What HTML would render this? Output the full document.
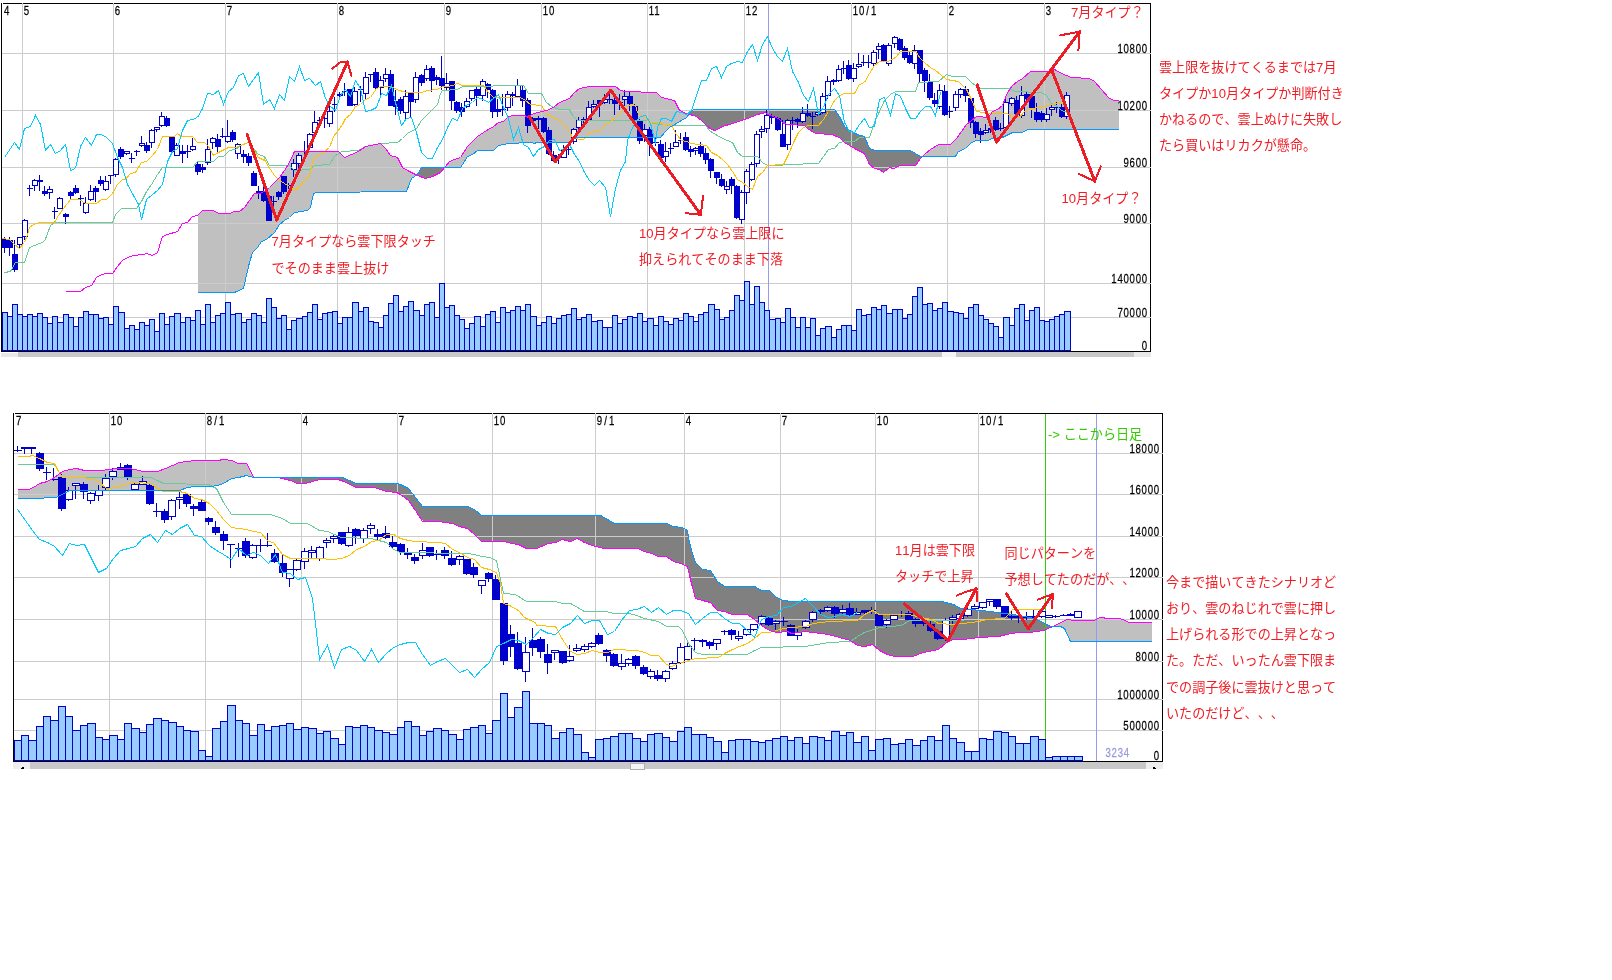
<!DOCTYPE html>
<html lang="ja"><head><meta charset="utf-8"><title>chart</title>
<style>html,body{margin:0;padding:0;background:#fff;}svg{display:block;}</style>
</head><body>
<svg width="1612" height="980" viewBox="0 0 1612 980" style="will-change:transform">
<rect width="1612" height="980" fill="#fff"/>
<g shape-rendering="crispEdges">
<polygon points="198.0,215.3 199.0,214.4 200.0,213.5 201.0,212.6 202.0,211.6 203.0,210.8 204.0,210.8 205.0,210.8 206.0,210.8 207.0,210.8 208.0,210.8 209.0,210.8 210.0,210.8 211.0,210.8 212.0,210.8 213.0,210.8 214.0,210.9 215.0,211.4 216.0,211.9 217.0,212.4 218.0,212.9 219.0,213.3 220.0,213.3 221.0,213.3 222.0,213.3 223.0,213.3 224.0,213.3 225.0,213.3 226.0,213.3 227.0,213.3 228.0,213.3 229.0,213.3 230.0,213.0 231.0,212.6 232.0,212.3 233.0,211.9 234.0,211.6 235.0,211.5 236.0,211.5 237.0,211.4 238.0,211.4 239.0,211.3 240.0,210.7 241.0,209.9 242.0,209.2 243.0,208.5 244.0,207.8 245.0,206.5 246.0,205.1 247.0,203.7 248.0,202.3 249.0,201.0 250.0,199.6 251.0,198.3 252.0,196.9 253.0,195.5 254.0,194.2 255.0,193.9 256.0,193.8 257.0,193.7 258.0,193.7 259.0,193.6 260.0,193.3 261.0,192.9 262.0,192.4 263.0,192.0 264.0,191.5 265.0,190.8 266.0,189.9 267.0,189.0 268.0,188.2 269.0,187.3 270.0,186.3 271.0,185.3 272.0,184.4 273.0,183.4 274.0,182.4 275.0,181.4 276.0,180.4 277.0,179.3 278.0,178.3 279.0,177.3 280.0,176.1 281.0,174.8 282.0,173.5 283.0,172.2 284.0,170.9 285.0,169.4 286.0,167.8 287.0,166.1 288.0,164.5 289.0,162.8 290.0,160.9 291.0,158.8 292.0,156.8 293.0,154.7 294.0,152.6 295.0,151.5 296.0,151.4 297.0,151.4 298.0,151.4 299.0,151.3 300.0,151.3 301.0,151.3 302.0,151.2 303.0,151.2 304.0,151.1 305.0,151.1 306.0,151.1 307.0,151.0 308.0,151.0 309.0,151.0 310.0,151.1 311.0,151.1 312.0,151.1 313.0,151.2 314.0,151.2 315.0,151.2 316.0,151.2 317.0,151.3 318.0,151.3 319.0,151.3 320.0,151.4 321.0,151.4 322.0,151.4 323.0,151.5 324.0,151.5 325.0,151.5 326.0,151.5 327.0,151.6 328.0,151.6 329.0,151.6 330.0,151.7 331.0,151.7 332.0,151.7 333.0,151.7 334.0,151.8 335.0,151.8 336.0,151.8 337.0,151.9 338.0,151.9 339.0,152.7 340.0,153.5 341.0,154.4 342.0,155.3 343.0,156.2 344.0,157.0 345.0,157.7 346.0,157.2 347.0,156.7 348.0,156.2 349.0,155.7 350.0,155.2 351.0,154.7 352.0,154.2 353.0,153.7 354.0,153.2 355.0,152.7 356.0,152.2 357.0,151.7 358.0,151.2 359.0,150.6 360.0,150.0 361.0,149.4 362.0,148.7 363.0,148.1 364.0,147.5 365.0,146.9 366.0,146.6 367.0,146.3 368.0,146.1 369.0,145.8 370.0,145.6 371.0,145.4 372.0,145.1 373.0,144.9 374.0,144.6 375.0,144.4 376.0,144.1 377.0,143.9 378.0,143.6 379.0,143.4 380.0,143.1 381.0,143.9 382.0,145.0 383.0,146.1 384.0,147.1 385.0,148.2 386.0,149.5 387.0,150.8 388.0,152.2 389.0,153.5 390.0,154.9 391.0,155.6 392.0,155.9 393.0,156.3 394.0,156.7 395.0,157.0 396.0,157.4 397.0,157.8 398.0,159.5 399.0,161.3 400.0,163.1 401.0,165.0 402.0,166.8 403.0,167.6 404.0,168.3 405.0,168.9 406.0,169.6 407.0,170.3 408.0,170.8 409.0,171.3 410.0,171.8 411.0,172.3 412.0,172.8 413.0,173.3 414.0,173.8 415.0,174.3 416.0,174.8 417.0,174.8 417.0,175.3 416.0,175.5 415.0,176.2 414.0,176.9 413.0,177.7 412.0,178.4 411.0,179.8 410.0,182.3 409.0,184.8 408.0,187.3 407.0,189.8 406.0,191.6 405.0,191.6 404.0,191.6 403.0,191.6 402.0,191.6 401.0,191.6 400.0,191.6 399.0,191.6 398.0,191.6 397.0,191.6 396.0,191.6 395.0,191.7 394.0,191.7 393.0,191.7 392.0,191.7 391.0,191.7 390.0,191.7 389.0,191.7 388.0,191.7 387.0,191.7 386.0,191.7 385.0,191.7 384.0,191.7 383.0,191.7 382.0,191.7 381.0,191.7 380.0,191.7 379.0,191.7 378.0,191.7 377.0,191.7 376.0,191.7 375.0,191.7 374.0,191.7 373.0,191.7 372.0,191.8 371.0,191.8 370.0,191.8 369.0,191.8 368.0,191.8 367.0,191.8 366.0,191.8 365.0,191.8 364.0,191.8 363.0,191.8 362.0,191.8 361.0,191.8 360.0,191.8 359.0,191.8 358.0,191.8 357.0,191.8 356.0,191.8 355.0,191.8 354.0,191.8 353.0,191.8 352.0,191.8 351.0,191.8 350.0,191.9 349.0,191.9 348.0,191.9 347.0,191.9 346.0,191.9 345.0,191.9 344.0,191.9 343.0,191.9 342.0,191.9 341.0,191.9 340.0,191.9 339.0,191.9 338.0,191.9 337.0,191.9 336.0,191.9 335.0,191.9 334.0,191.9 333.0,191.9 332.0,191.9 331.0,191.9 330.0,191.9 329.0,191.9 328.0,191.9 327.0,192.0 326.0,192.0 325.0,192.0 324.0,192.0 323.0,192.0 322.0,192.0 321.0,192.0 320.0,192.0 319.0,192.0 318.0,192.0 317.0,192.0 316.0,192.1 315.0,192.6 314.0,193.0 313.0,196.1 312.0,200.5 311.0,204.8 310.0,207.9 309.0,209.2 308.0,210.5 307.0,210.9 306.0,211.0 305.0,211.1 304.0,211.2 303.0,211.3 302.0,211.4 301.0,211.5 300.0,211.6 299.0,211.7 298.0,211.8 297.0,211.9 296.0,212.0 295.0,212.1 294.0,212.7 293.0,213.8 292.0,214.8 291.0,215.9 290.0,217.0 289.0,217.8 288.0,218.3 287.0,218.8 286.0,219.3 285.0,219.8 284.0,220.4 283.0,221.2 282.0,222.0 281.0,222.8 280.0,223.7 279.0,224.6 278.0,226.3 277.0,228.0 276.0,229.7 275.0,231.4 274.0,232.9 273.0,233.7 272.0,234.6 271.0,235.4 270.0,236.3 269.0,237.1 268.0,238.0 267.0,238.8 266.0,239.7 265.0,240.0 264.0,240.4 263.0,240.7 262.0,241.0 261.0,242.4 260.0,244.0 259.0,245.6 258.0,247.2 257.0,248.4 256.0,249.4 255.0,250.3 254.0,251.3 253.0,252.3 252.0,254.3 251.0,257.4 250.0,260.5 249.0,263.9 248.0,268.9 247.0,273.8 246.0,278.8 245.0,282.5 244.0,285.8 243.0,288.3 242.0,288.8 241.0,289.2 240.0,289.7 239.0,290.1 238.0,290.6 237.0,291.0 236.0,291.5 235.0,291.9 234.0,292.4 233.0,292.4 232.0,292.4 231.0,292.4 230.0,292.4 229.0,292.4 228.0,292.4 227.0,292.4 226.0,292.4 225.0,292.4 224.0,292.4 223.0,292.4 222.0,292.4 221.0,292.4 220.0,292.4 219.0,292.4 218.0,292.4 217.0,292.4 216.0,292.4 215.0,292.4 214.0,292.4 213.0,292.4 212.0,292.4 211.0,292.4 210.0,292.4 209.0,292.4 208.0,292.4 207.0,292.4 206.0,292.4 205.0,292.4 204.0,292.4 203.0,292.4 202.0,292.4 201.0,292.4 200.0,292.4 199.0,292.4 198.0,292.4" fill="#c0c0c0"/>
<polygon points="417.0,174.8 418.0,173.5 419.0,171.9 420.0,170.3 421.0,168.7 422.0,167.9 423.0,167.9 424.0,167.8 425.0,167.8 426.0,167.8 427.0,167.8 428.0,167.7 429.0,167.7 430.0,167.7 431.0,167.7 432.0,167.7 433.0,167.6 434.0,167.6 435.0,167.6 436.0,167.6 437.0,167.5 438.0,167.5 439.0,167.5 440.0,167.5 441.0,167.4 442.0,167.4 443.0,167.4 444.0,167.4 445.0,166.8 445.0,167.4 444.0,168.1 443.0,169.3 442.0,170.6 441.0,171.8 440.0,172.5 439.0,173.1 438.0,173.7 437.0,174.2 436.0,174.8 435.0,175.3 434.0,175.9 433.0,176.5 432.0,176.9 431.0,177.1 430.0,177.2 429.0,177.4 428.0,177.6 427.0,177.8 426.0,177.9 425.0,177.8 424.0,177.5 423.0,177.2 422.0,176.9 421.0,176.6 420.0,176.3 419.0,176.0 418.0,175.7 417.0,175.3" fill="#808080"/>
<polygon points="445.0,166.8 446.0,165.5 447.0,164.2 448.0,162.8 449.0,161.5 450.0,160.8 451.0,160.4 452.0,160.0 453.0,159.5 454.0,159.1 455.0,158.9 456.0,158.6 457.0,158.4 458.0,158.2 459.0,158.0 460.0,157.8 461.0,156.3 462.0,154.8 463.0,153.2 464.0,151.7 465.0,150.2 466.0,148.7 467.0,147.2 468.0,145.8 469.0,144.8 470.0,143.8 471.0,142.7 472.0,141.7 473.0,140.7 474.0,139.7 475.0,138.7 476.0,137.8 477.0,136.8 478.0,135.9 479.0,135.3 480.0,134.7 481.0,134.1 482.0,133.5 483.0,132.9 484.0,132.3 485.0,131.7 486.0,131.1 487.0,130.4 488.0,129.8 489.0,129.2 490.0,128.6 491.0,128.0 492.0,127.4 493.0,126.8 494.0,126.0 495.0,125.1 496.0,124.3 497.0,123.5 498.0,122.7 499.0,122.4 500.0,122.2 501.0,122.0 502.0,121.8 503.0,121.7 504.0,121.0 505.0,120.0 506.0,119.0 507.0,118.0 508.0,117.0 509.0,116.5 510.0,116.2 511.0,116.0 512.0,115.8 513.0,115.5 514.0,115.4 515.0,115.4 516.0,115.4 517.0,115.4 518.0,115.4 519.0,115.4 520.0,115.4 521.0,115.4 522.0,115.4 523.0,115.4 524.0,115.4 525.0,115.7 526.0,116.2 527.0,116.6 528.0,117.0 529.0,117.1 530.0,115.5 531.0,114.9 532.0,114.3 533.0,113.7 534.0,113.2 535.0,112.9 536.0,112.7 537.0,112.4 538.0,112.2 539.0,112.0 540.0,111.7 541.0,111.5 542.0,111.3 543.0,111.0 544.0,110.8 545.0,110.5 546.0,110.3 547.0,110.1 548.0,109.8 549.0,109.6 550.0,108.9 551.0,108.3 552.0,107.6 553.0,106.9 554.0,106.3 555.0,105.6 556.0,105.0 557.0,104.3 558.0,103.6 559.0,103.0 560.0,102.5 561.0,102.1 562.0,101.7 563.0,101.3 564.0,100.8 565.0,100.4 566.0,100.0 567.0,99.6 568.0,99.2 569.0,98.8 570.0,97.9 571.0,96.7 572.0,95.5 573.0,94.4 574.0,93.2 575.0,92.2 576.0,91.4 577.0,90.6 578.0,89.7 579.0,88.9 580.0,88.4 581.0,88.2 582.0,88.0 583.0,87.8 584.0,87.5 585.0,87.3 586.0,87.1 587.0,86.9 588.0,86.7 589.0,86.5 590.0,86.3 591.0,86.3 592.0,86.3 593.0,86.3 594.0,86.3 595.0,86.3 596.0,86.3 597.0,86.3 598.0,86.3 599.0,86.3 600.0,86.3 601.0,86.3 602.0,86.3 603.0,86.3 604.0,86.3 605.0,86.3 606.0,86.3 607.0,86.3 608.0,86.3 609.0,86.3 610.0,86.3 611.0,86.3 612.0,86.3 613.0,86.3 614.0,86.3 615.0,86.3 616.0,86.9 617.0,87.7 618.0,88.5 619.0,89.3 620.0,90.0 621.0,90.5 622.0,90.8 623.0,91.1 624.0,91.4 625.0,91.7 626.0,91.9 627.0,91.9 628.0,91.9 629.0,91.9 630.0,91.9 631.0,92.0 632.0,92.0 633.0,92.0 634.0,92.0 635.0,92.0 636.0,92.0 637.0,92.0 638.0,92.0 639.0,92.0 640.0,92.0 641.0,92.1 642.0,92.1 643.0,92.1 644.0,92.1 645.0,92.1 646.0,92.1 647.0,92.1 648.0,92.1 649.0,92.1 650.0,92.1 651.0,92.1 652.0,92.2 653.0,92.2 654.0,92.2 655.0,92.2 656.0,92.2 657.0,93.0 658.0,94.0 659.0,95.1 660.0,96.2 661.0,97.3 662.0,97.5 663.0,97.7 664.0,97.9 665.0,98.1 666.0,98.3 667.0,98.5 668.0,98.7 669.0,98.9 670.0,99.1 671.0,99.3 672.0,99.5 673.0,99.6 674.0,99.8 675.0,100.4 676.0,102.4 677.0,104.4 678.0,106.5 679.0,108.5 680.0,110.2 681.0,110.8 682.0,111.3 683.0,111.9 684.0,112.5 685.0,113.0 686.0,113.6 687.0,114.0 688.0,114.3 689.0,113.8 689.0,114.6 688.0,115.0 687.0,116.3 686.0,117.4 685.0,118.0 684.0,118.7 683.0,119.4 682.0,120.0 681.0,120.7 680.0,121.3 679.0,121.9 678.0,122.5 677.0,123.1 676.0,123.7 675.0,124.4 674.0,125.0 673.0,125.6 672.0,126.2 671.0,126.8 670.0,127.4 669.0,128.3 668.0,129.3 667.0,130.3 666.0,131.3 665.0,132.3 664.0,133.4 663.0,134.5 662.0,135.6 661.0,136.7 660.0,137.3 659.0,137.3 658.0,137.3 657.0,137.3 656.0,137.3 655.0,137.3 654.0,137.3 653.0,137.3 652.0,137.3 651.0,137.3 650.0,137.4 649.0,137.4 648.0,137.4 647.0,137.4 646.0,137.4 645.0,137.4 644.0,137.4 643.0,137.4 642.0,137.4 641.0,137.4 640.0,137.4 639.0,137.4 638.0,137.4 637.0,137.4 636.0,137.4 635.0,137.4 634.0,137.4 633.0,137.4 632.0,137.4 631.0,137.4 630.0,137.4 629.0,137.5 628.0,137.5 627.0,137.5 626.0,137.5 625.0,137.5 624.0,137.5 623.0,137.5 622.0,137.5 621.0,137.5 620.0,137.5 619.0,137.5 618.0,137.5 617.0,137.5 616.0,137.5 615.0,137.5 614.0,137.5 613.0,137.5 612.0,137.5 611.0,137.5 610.0,137.5 609.0,137.5 608.0,137.6 607.0,137.6 606.0,137.6 605.0,137.6 604.0,137.6 603.0,137.6 602.0,137.6 601.0,137.6 600.0,137.6 599.0,137.6 598.0,137.6 597.0,137.6 596.0,137.6 595.0,137.6 594.0,137.6 593.0,137.6 592.0,137.6 591.0,137.6 590.0,137.6 589.0,137.6 588.0,137.6 587.0,137.7 586.0,137.7 585.0,137.7 584.0,137.7 583.0,137.7 582.0,137.7 581.0,137.7 580.0,137.7 579.0,137.7 578.0,137.7 577.0,137.7 576.0,137.9 575.0,138.0 574.0,138.2 573.0,138.9 572.0,139.7 571.0,140.5 570.0,141.3 569.0,142.2 568.0,142.4 567.0,142.4 566.0,142.4 565.0,142.4 564.0,142.4 563.0,142.4 562.0,142.4 561.0,142.4 560.0,142.4 559.0,142.4 558.0,142.4 557.0,142.4 556.0,142.4 555.0,142.4 554.0,142.4 553.0,142.4 552.0,142.4 551.0,142.4 550.0,142.4 549.0,142.4 548.0,142.4 547.0,142.4 546.0,142.4 545.0,142.4 544.0,142.4 543.0,142.4 542.0,142.4 541.0,142.4 540.0,142.4 539.0,142.4 538.0,142.4 537.0,142.4 536.0,142.4 535.0,143.5 534.0,143.3 533.0,143.2 532.0,143.0 531.0,142.9 530.0,142.7 529.0,142.7 528.0,142.8 527.0,142.8 526.0,142.8 525.0,142.9 524.0,142.9 523.0,143.0 522.0,143.0 521.0,143.0 520.0,143.1 519.0,143.1 518.0,143.1 517.0,143.2 516.0,143.2 515.0,143.3 514.0,143.3 513.0,143.3 512.0,143.4 511.0,143.4 510.0,143.4 509.0,143.5 508.0,143.6 507.0,143.8 506.0,144.0 505.0,144.2 504.0,144.4 503.0,144.7 502.0,144.9 501.0,145.1 500.0,145.3 499.0,145.5 498.0,145.9 497.0,146.8 496.0,147.7 495.0,148.6 494.0,149.5 493.0,150.3 492.0,150.3 491.0,150.3 490.0,150.3 489.0,150.3 488.0,150.3 487.0,150.3 486.0,150.3 485.0,150.3 484.0,150.3 483.0,150.3 482.0,150.3 481.0,150.3 480.0,150.3 479.0,150.3 478.0,150.3 477.0,151.0 476.0,151.9 475.0,152.8 474.0,153.7 473.0,154.5 472.0,155.0 471.0,155.3 470.0,155.6 469.0,155.8 468.0,156.1 467.0,157.4 466.0,159.1 465.0,160.8 464.0,162.5 463.0,164.2 462.0,165.4 461.0,166.2 460.0,167.0 459.0,167.0 458.0,167.0 457.0,167.1 456.0,167.1 455.0,167.1 454.0,167.1 453.0,167.2 452.0,167.2 451.0,167.2 450.0,167.2 449.0,167.3 448.0,167.3 447.0,167.3 446.0,167.3 445.0,167.4" fill="#c0c0c0"/>
<polygon points="689.0,113.8 690.0,112.5 691.0,111.2 692.0,110.3 693.0,110.0 694.0,109.6 695.0,109.6 696.0,109.6 697.0,109.6 698.0,109.6 699.0,109.6 700.0,109.6 701.0,109.6 702.0,109.6 703.0,109.6 704.0,109.6 705.0,109.6 706.0,109.6 707.0,109.6 708.0,109.6 709.0,109.6 710.0,109.6 711.0,109.6 712.0,109.6 713.0,109.6 714.0,109.6 715.0,109.6 716.0,109.6 717.0,109.6 718.0,109.6 719.0,109.6 720.0,109.6 721.0,109.6 722.0,109.6 723.0,109.6 724.0,109.6 725.0,109.6 726.0,109.6 727.0,109.6 728.0,109.6 729.0,109.6 730.0,109.6 731.0,109.6 732.0,109.6 733.0,109.6 734.0,109.6 735.0,109.6 736.0,109.6 737.0,109.6 738.0,109.6 739.0,109.6 740.0,109.6 741.0,109.6 742.0,109.6 743.0,109.6 744.0,109.6 745.0,109.6 746.0,109.6 747.0,109.6 748.0,109.6 749.0,109.6 750.0,109.6 751.0,109.6 752.0,109.6 753.0,109.6 754.0,109.6 755.0,109.6 756.0,109.6 757.0,109.6 758.0,109.6 759.0,109.6 760.0,109.6 761.0,109.6 762.0,109.6 763.0,109.6 764.0,109.6 765.0,109.6 766.0,109.6 767.0,109.6 768.0,109.6 769.0,109.6 770.0,109.6 771.0,109.6 772.0,109.6 773.0,109.6 774.0,109.6 775.0,109.6 776.0,109.6 777.0,109.6 778.0,109.6 779.0,109.6 780.0,109.6 781.0,109.6 782.0,109.6 783.0,109.6 784.0,109.6 785.0,109.6 786.0,109.6 787.0,109.6 788.0,109.6 789.0,109.6 790.0,109.6 791.0,109.6 792.0,109.6 793.0,109.6 794.0,109.6 795.0,109.6 796.0,109.6 797.0,109.6 798.0,109.6 799.0,109.6 800.0,109.6 801.0,109.6 802.0,109.6 803.0,109.6 804.0,109.6 805.0,109.6 806.0,109.6 807.0,109.6 808.0,109.6 809.0,109.6 810.0,109.6 811.0,109.6 812.0,109.6 813.0,109.6 814.0,109.6 815.0,109.6 816.0,109.6 817.0,109.6 818.0,109.6 819.0,109.6 820.0,109.6 821.0,109.6 822.0,109.6 823.0,109.6 824.0,109.6 825.0,109.6 826.0,109.6 827.0,109.6 828.0,109.6 829.0,109.6 830.0,109.6 831.0,109.6 832.0,109.6 833.0,109.6 834.0,109.6 835.0,110.6 836.0,112.1 837.0,113.6 838.0,115.1 839.0,116.6 840.0,118.4 841.0,120.2 842.0,122.1 843.0,123.9 844.0,125.7 845.0,126.8 846.0,127.8 847.0,128.7 848.0,129.6 849.0,130.5 850.0,131.1 851.0,131.6 852.0,132.1 853.0,132.6 854.0,133.1 855.0,133.5 856.0,134.0 857.0,134.5 858.0,134.9 859.0,135.1 860.0,135.3 861.0,135.5 862.0,135.7 863.0,135.9 864.0,136.1 865.0,137.1 866.0,139.5 867.0,141.9 868.0,144.2 869.0,146.6 870.0,148.2 871.0,148.5 872.0,148.9 873.0,149.3 874.0,149.7 875.0,150.0 876.0,150.0 877.0,150.0 878.0,150.0 879.0,150.0 880.0,150.0 881.0,150.0 882.0,150.0 883.0,150.0 884.0,150.0 885.0,150.0 886.0,150.0 887.0,150.0 888.0,150.0 889.0,150.0 890.0,150.0 891.0,150.0 892.0,150.0 893.0,150.0 894.0,150.0 895.0,150.0 896.0,150.0 897.0,150.0 898.0,150.0 899.0,150.0 900.0,150.0 901.0,150.0 902.0,150.0 903.0,150.0 904.0,150.0 905.0,150.0 906.0,150.0 907.0,150.0 908.0,150.0 909.0,150.0 910.0,150.0 911.0,150.6 912.0,151.2 913.0,151.8 914.0,152.4 915.0,153.0 916.0,153.7 917.0,154.3 918.0,154.9 919.0,155.5 920.0,156.1 921.0,156.4 922.0,156.4 923.0,156.4 924.0,155.5 924.0,156.4 923.0,156.5 922.0,157.5 921.0,158.4 920.0,159.5 919.0,160.7 918.0,161.9 917.0,163.0 916.0,164.2 915.0,165.3 914.0,165.3 913.0,165.4 912.0,165.4 911.0,165.4 910.0,165.4 909.0,165.5 908.0,165.5 907.0,165.5 906.0,165.5 905.0,165.6 904.0,165.6 903.0,165.6 902.0,165.7 901.0,165.7 900.0,165.8 899.0,166.2 898.0,166.6 897.0,167.0 896.0,167.4 895.0,167.8 894.0,168.2 893.0,168.4 892.0,168.2 891.0,167.9 890.0,167.7 889.0,167.4 888.0,168.4 887.0,169.4 886.0,170.3 885.0,171.3 884.0,172.3 883.0,171.8 882.0,171.2 881.0,170.6 880.0,170.0 879.0,169.6 878.0,169.3 877.0,169.0 876.0,168.6 875.0,168.3 874.0,167.7 873.0,167.1 872.0,166.4 871.0,165.7 870.0,165.1 869.0,163.5 868.0,161.3 867.0,159.1 866.0,157.0 865.0,154.8 864.0,153.6 863.0,153.1 862.0,152.6 861.0,152.1 860.0,151.6 859.0,151.1 858.0,150.6 857.0,150.1 856.0,149.6 855.0,149.1 854.0,148.5 853.0,147.8 852.0,147.2 851.0,146.6 850.0,145.9 849.0,145.3 848.0,144.8 847.0,144.3 846.0,143.8 845.0,143.3 844.0,142.7 843.0,141.7 842.0,140.7 841.0,139.7 840.0,138.7 839.0,137.8 838.0,137.3 837.0,136.8 836.0,136.3 835.0,135.8 834.0,135.3 833.0,134.8 832.0,134.3 831.0,134.2 830.0,134.1 829.0,134.1 828.0,134.1 827.0,134.0 826.0,134.0 825.0,134.0 824.0,134.0 823.0,133.9 822.0,133.9 821.0,133.9 820.0,133.8 819.0,133.8 818.0,133.8 817.0,133.7 816.0,133.7 815.0,133.2 814.0,132.5 813.0,131.9 812.0,131.2 811.0,130.5 810.0,129.9 809.0,129.2 808.0,128.6 807.0,127.8 806.0,127.0 805.0,126.1 804.0,125.3 803.0,125.2 802.0,125.2 801.0,125.1 800.0,125.1 799.0,125.0 798.0,124.9 797.0,124.9 796.0,124.8 795.0,124.8 794.0,124.7 793.0,124.6 792.0,124.6 791.0,124.5 790.0,124.5 789.0,124.4 788.0,124.3 787.0,124.1 786.0,124.0 785.0,123.9 784.0,123.7 783.0,123.5 782.0,122.5 781.0,121.5 780.0,120.5 779.0,119.5 778.0,118.5 777.0,118.1 776.0,117.6 775.0,117.2 774.0,116.8 773.0,116.3 772.0,115.9 771.0,115.5 770.0,115.0 769.0,114.6 768.0,114.1 767.0,113.6 766.0,113.1 765.0,113.0 764.0,113.2 763.0,113.3 762.0,113.4 761.0,113.6 760.0,113.7 759.0,113.9 758.0,114.0 757.0,114.4 756.0,114.8 755.0,115.3 754.0,115.8 753.0,116.2 752.0,116.7 751.0,117.2 750.0,117.6 749.0,118.1 748.0,118.6 747.0,119.0 746.0,119.3 745.0,119.6 744.0,120.0 743.0,120.3 742.0,120.6 741.0,121.0 740.0,121.3 739.0,121.6 738.0,122.0 737.0,122.3 736.0,122.6 735.0,123.0 734.0,123.3 733.0,123.6 732.0,124.0 731.0,124.3 730.0,124.6 729.0,124.9 728.0,125.1 727.0,125.4 726.0,125.7 725.0,126.0 724.0,126.3 723.0,126.6 722.0,126.9 721.0,127.4 720.0,127.9 719.0,128.4 718.0,128.9 717.0,129.4 716.0,129.9 715.0,130.2 714.0,129.9 713.0,129.7 712.0,129.4 711.0,128.7 710.0,128.0 709.0,127.2 708.0,126.5 707.0,125.7 706.0,124.8 705.0,123.8 704.0,122.8 703.0,121.8 702.0,120.8 701.0,120.0 700.0,119.2 699.0,118.5 698.0,117.8 697.0,117.0 696.0,116.6 695.0,116.3 694.0,116.0 693.0,115.7 692.0,115.4 691.0,115.1 690.0,114.8 689.0,114.6" fill="#808080"/>
<polygon points="924.0,155.5 925.0,154.6 926.0,153.6 927.0,152.8 928.0,152.0 929.0,151.1 930.0,150.3 931.0,149.5 932.0,148.9 933.0,148.2 934.0,147.6 935.0,147.0 936.0,146.3 937.0,145.7 938.0,145.0 939.0,144.6 940.0,144.6 941.0,144.5 942.0,144.5 943.0,144.5 944.0,144.5 945.0,144.4 946.0,144.4 947.0,144.4 948.0,144.4 949.0,144.3 950.0,144.3 951.0,143.7 952.0,142.8 953.0,141.8 954.0,140.8 955.0,139.9 956.0,138.9 957.0,137.5 958.0,136.0 959.0,134.5 960.0,133.0 961.0,131.5 962.0,130.2 963.0,128.8 964.0,127.5 965.0,126.2 966.0,124.9 967.0,123.9 968.0,123.1 969.0,122.3 970.0,121.4 971.0,120.6 972.0,119.9 973.0,119.2 974.0,118.6 975.0,117.9 976.0,117.2 977.0,116.9 978.0,116.9 979.0,116.9 980.0,116.9 981.0,116.9 982.0,116.9 983.0,117.0 984.0,117.0 985.0,117.0 986.0,117.0 987.0,117.0 988.0,117.0 989.0,116.7 990.0,114.9 991.0,113.2 992.0,111.4 993.0,110.8 994.0,110.5 995.0,110.1 996.0,109.8 997.0,109.5 998.0,108.8 999.0,108.1 1000.0,107.4 1001.0,106.6 1002.0,105.9 1003.0,103.9 1004.0,101.2 1005.0,98.6 1006.0,95.9 1007.0,93.3 1008.0,91.6 1009.0,90.3 1010.0,89.0 1011.0,87.6 1012.0,86.3 1013.0,85.3 1014.0,84.5 1015.0,83.6 1016.0,82.8 1017.0,81.9 1018.0,81.2 1019.0,80.5 1020.0,79.9 1021.0,79.2 1022.0,78.5 1023.0,77.8 1024.0,77.0 1025.0,76.2 1026.0,75.4 1027.0,74.6 1028.0,73.8 1029.0,73.0 1030.0,72.2 1031.0,71.5 1032.0,71.5 1033.0,71.5 1034.0,71.4 1035.0,71.4 1036.0,71.4 1037.0,71.4 1038.0,71.4 1039.0,71.4 1040.0,71.3 1041.0,71.3 1042.0,71.3 1043.0,71.3 1044.0,71.3 1045.0,71.2 1046.0,71.2 1047.0,71.2 1048.0,71.1 1049.0,70.9 1050.0,70.7 1051.0,70.5 1052.0,70.3 1053.0,70.1 1054.0,69.9 1055.0,70.1 1056.0,70.6 1057.0,71.1 1058.0,71.6 1059.0,72.1 1060.0,72.6 1061.0,73.1 1062.0,73.5 1063.0,73.9 1064.0,74.3 1065.0,74.7 1066.0,75.1 1067.0,75.4 1068.0,75.8 1069.0,76.2 1070.0,76.6 1071.0,77.0 1072.0,77.1 1073.0,77.2 1074.0,77.3 1075.0,77.3 1076.0,77.4 1077.0,77.4 1078.0,77.5 1079.0,77.6 1080.0,77.6 1081.0,77.7 1082.0,77.7 1083.0,77.8 1084.0,77.9 1085.0,77.9 1086.0,78.0 1087.0,78.0 1088.0,78.1 1089.0,78.2 1090.0,78.3 1091.0,79.0 1092.0,79.7 1093.0,80.3 1094.0,81.0 1095.0,81.7 1096.0,82.8 1097.0,84.0 1098.0,85.1 1099.0,86.3 1100.0,87.4 1101.0,88.5 1102.0,89.7 1103.0,90.9 1104.0,92.2 1105.0,93.4 1106.0,94.6 1107.0,95.9 1108.0,97.1 1109.0,97.9 1110.0,98.4 1111.0,98.9 1112.0,99.4 1113.0,99.9 1114.0,100.1 1115.0,100.2 1116.0,100.3 1117.0,100.4 1118.0,100.4 1118.8,100.5 1118.8,129.2 1118.0,129.2 1117.0,129.2 1116.0,129.2 1115.0,129.2 1114.0,129.2 1113.0,129.2 1112.0,129.2 1111.0,129.2 1110.0,129.2 1109.0,129.2 1108.0,129.2 1107.0,129.3 1106.0,129.3 1105.0,129.3 1104.0,129.3 1103.0,129.3 1102.0,129.3 1101.0,129.3 1100.0,129.3 1099.0,129.3 1098.0,129.3 1097.0,129.3 1096.0,129.3 1095.0,129.3 1094.0,129.3 1093.0,129.3 1092.0,129.3 1091.0,129.3 1090.0,129.3 1089.0,129.3 1088.0,129.3 1087.0,129.3 1086.0,129.3 1085.0,129.3 1084.0,129.4 1083.0,129.4 1082.0,129.4 1081.0,129.4 1080.0,129.4 1079.0,129.4 1078.0,129.4 1077.0,129.4 1076.0,129.4 1075.0,129.4 1074.0,129.4 1073.0,129.4 1072.0,129.4 1071.0,129.4 1070.0,129.4 1069.0,129.4 1068.0,129.4 1067.0,129.4 1066.0,129.4 1065.0,129.4 1064.0,129.4 1063.0,129.4 1062.0,129.4 1061.0,129.5 1060.0,129.5 1059.0,129.5 1058.0,129.5 1057.0,129.5 1056.0,129.5 1055.0,129.5 1054.0,129.5 1053.0,129.5 1052.0,129.5 1051.0,129.5 1050.0,129.5 1049.0,129.5 1048.0,129.5 1047.0,129.5 1046.0,129.5 1045.0,129.5 1044.0,129.5 1043.0,129.5 1042.0,129.5 1041.0,129.5 1040.0,129.5 1039.0,129.5 1038.0,129.6 1037.0,129.6 1036.0,129.6 1035.0,129.6 1034.0,129.6 1033.0,129.6 1032.0,129.6 1031.0,129.6 1030.0,129.6 1029.0,129.6 1028.0,129.6 1027.0,129.8 1026.0,130.3 1025.0,130.8 1024.0,131.3 1023.0,131.8 1022.0,132.1 1021.0,132.2 1020.0,132.3 1019.0,132.4 1018.0,132.5 1017.0,132.5 1016.0,132.6 1015.0,132.7 1014.0,132.8 1013.0,132.9 1012.0,133.1 1011.0,133.6 1010.0,134.0 1009.0,134.5 1008.0,135.0 1007.0,135.5 1006.0,135.9 1005.0,136.4 1004.0,136.9 1003.0,137.4 1002.0,137.7 1001.0,137.7 1000.0,137.8 999.0,137.8 998.0,137.8 997.0,137.9 996.0,137.9 995.0,137.9 994.0,137.9 993.0,138.0 992.0,138.1 991.0,138.6 990.0,139.1 989.0,139.6 988.0,140.1 987.0,140.5 986.0,140.5 985.0,140.6 984.0,140.6 983.0,140.7 982.0,140.7 981.0,140.7 980.0,140.8 979.0,140.8 978.0,140.8 977.0,140.9 976.0,141.1 975.0,141.5 974.0,141.9 973.0,142.3 972.0,142.7 971.0,143.4 970.0,144.4 969.0,145.4 968.0,146.4 967.0,147.4 966.0,148.4 965.0,149.1 964.0,149.5 963.0,149.9 962.0,150.4 961.0,150.8 960.0,151.2 959.0,151.7 958.0,152.9 957.0,154.3 956.0,155.7 955.0,156.4 954.0,156.4 953.0,156.4 952.0,156.4 951.0,156.4 950.0,156.4 949.0,156.4 948.0,156.4 947.0,156.4 946.0,156.4 945.0,156.4 944.0,156.4 943.0,156.4 942.0,156.4 941.0,156.4 940.0,156.4 939.0,156.4 938.0,156.4 937.0,156.4 936.0,156.4 935.0,156.4 934.0,156.4 933.0,156.4 932.0,156.4 931.0,156.4 930.0,156.4 929.0,156.4 928.0,156.4 927.0,156.4 926.0,156.4 925.0,156.4 924.0,156.4" fill="#c0c0c0"/>
<g stroke="#cccccc" stroke-width="1"><line x1="22.5" y1="3" x2="22.5" y2="351"/><line x1="113.5" y1="3" x2="113.5" y2="351"/><line x1="225.5" y1="3" x2="225.5" y2="351"/><line x1="337.5" y1="3" x2="337.5" y2="351"/><line x1="444.5" y1="3" x2="444.5" y2="351"/><line x1="541.5" y1="3" x2="541.5" y2="351"/><line x1="647.5" y1="3" x2="647.5" y2="351"/><line x1="744.5" y1="3" x2="744.5" y2="351"/><line x1="851.5" y1="3" x2="851.5" y2="351"/><line x1="947.5" y1="3" x2="947.5" y2="351"/><line x1="1044.5" y1="3" x2="1044.5" y2="351"/><line x1="2" y1="53.5" x2="1151" y2="53.5"/><line x1="2" y1="110.5" x2="1151" y2="110.5"/><line x1="2" y1="167.5" x2="1151" y2="167.5"/><line x1="2" y1="223.5" x2="1151" y2="223.5"/><line x1="2" y1="283.5" x2="1151" y2="283.5"/><line x1="2" y1="317.5" x2="1151" y2="317.5"/></g>
<line x1="768.5" y1="3" x2="768.5" y2="352" stroke="#9999ee" stroke-width="1"/>
<g stroke="#0000cc" stroke-width="1" fill="#99ccff"><rect x="2.5" y="312.5" width="5.0" height="38.0"/><rect x="7.5" y="316.5" width="5.0" height="34.0"/><rect x="12.5" y="304.5" width="5.0" height="46.0"/><rect x="17.5" y="314.5" width="5.0" height="36.0"/><rect x="22.5" y="316.5" width="5.0" height="34.0"/><rect x="27.5" y="314.5" width="5.0" height="36.0"/><rect x="32.5" y="316.5" width="5.0" height="34.0"/><rect x="37.5" y="313.5" width="5.0" height="37.0"/><rect x="42.5" y="317.5" width="5.0" height="33.0"/><rect x="47.5" y="323.5" width="5.0" height="27.0"/><rect x="52.5" y="316.5" width="5.0" height="34.0"/><rect x="57.5" y="322.5" width="6.0" height="28.0"/><rect x="63.5" y="314.5" width="5.0" height="36.0"/><rect x="68.5" y="317.5" width="5.0" height="33.0"/><rect x="73.5" y="326.5" width="5.0" height="24.0"/><rect x="78.5" y="317.5" width="5.0" height="33.0"/><rect x="83.5" y="311.5" width="5.0" height="39.0"/><rect x="88.5" y="314.5" width="5.0" height="36.0"/><rect x="93.5" y="314.5" width="5.0" height="36.0"/><rect x="98.5" y="318.5" width="5.0" height="32.0"/><rect x="103.5" y="317.5" width="5.0" height="33.0"/><rect x="108.5" y="324.5" width="5.0" height="26.0"/><rect x="113.5" y="306.5" width="5.0" height="44.0"/><rect x="118.5" y="312.5" width="6.0" height="38.0"/><rect x="124.5" y="328.5" width="5.0" height="22.0"/><rect x="129.5" y="325.5" width="5.0" height="25.0"/><rect x="134.5" y="329.5" width="5.0" height="21.0"/><rect x="139.5" y="322.5" width="5.0" height="28.0"/><rect x="144.5" y="325.5" width="5.0" height="25.0"/><rect x="149.5" y="319.5" width="5.0" height="31.0"/><rect x="154.5" y="331.5" width="5.0" height="19.0"/><rect x="159.5" y="313.5" width="5.0" height="37.0"/><rect x="164.5" y="324.5" width="5.0" height="26.0"/><rect x="169.5" y="316.5" width="5.0" height="34.0"/><rect x="174.5" y="313.5" width="6.0" height="37.0"/><rect x="180.5" y="322.5" width="5.0" height="28.0"/><rect x="185.5" y="317.5" width="5.0" height="33.0"/><rect x="190.5" y="320.5" width="5.0" height="30.0"/><rect x="195.5" y="310.5" width="5.0" height="40.0"/><rect x="200.5" y="324.5" width="5.0" height="26.0"/><rect x="205.5" y="304.5" width="5.0" height="46.0"/><rect x="210.5" y="322.5" width="5.0" height="28.0"/><rect x="215.5" y="315.5" width="5.0" height="35.0"/><rect x="220.5" y="313.5" width="5.0" height="37.0"/><rect x="225.5" y="302.5" width="5.0" height="48.0"/><rect x="230.5" y="314.5" width="5.0" height="36.0"/><rect x="235.5" y="313.5" width="6.0" height="37.0"/><rect x="241.5" y="322.5" width="5.0" height="28.0"/><rect x="246.5" y="319.5" width="5.0" height="31.0"/><rect x="251.5" y="313.5" width="5.0" height="37.0"/><rect x="256.5" y="315.5" width="5.0" height="35.0"/><rect x="261.5" y="322.5" width="5.0" height="28.0"/><rect x="266.5" y="298.5" width="5.0" height="52.0"/><rect x="271.5" y="307.5" width="5.0" height="43.0"/><rect x="276.5" y="318.5" width="5.0" height="32.0"/><rect x="281.5" y="315.5" width="5.0" height="35.0"/><rect x="286.5" y="329.5" width="5.0" height="21.0"/><rect x="291.5" y="320.5" width="5.0" height="30.0"/><rect x="296.5" y="318.5" width="6.0" height="32.0"/><rect x="302.5" y="316.5" width="5.0" height="34.0"/><rect x="307.5" y="312.5" width="5.0" height="38.0"/><rect x="312.5" y="304.5" width="5.0" height="46.0"/><rect x="317.5" y="319.5" width="5.0" height="31.0"/><rect x="322.5" y="313.5" width="5.0" height="37.0"/><rect x="327.5" y="312.5" width="5.0" height="38.0"/><rect x="332.5" y="311.5" width="5.0" height="39.0"/><rect x="337.5" y="323.5" width="5.0" height="27.0"/><rect x="342.5" y="317.5" width="5.0" height="33.0"/><rect x="347.5" y="317.5" width="5.0" height="33.0"/><rect x="352.5" y="302.5" width="6.0" height="48.0"/><rect x="358.5" y="311.5" width="5.0" height="39.0"/><rect x="363.5" y="307.5" width="5.0" height="43.0"/><rect x="368.5" y="321.5" width="5.0" height="29.0"/><rect x="373.5" y="322.5" width="5.0" height="28.0"/><rect x="378.5" y="327.5" width="5.0" height="23.0"/><rect x="383.5" y="315.5" width="5.0" height="35.0"/><rect x="388.5" y="303.5" width="5.0" height="47.0"/><rect x="393.5" y="295.5" width="5.0" height="55.0"/><rect x="398.5" y="311.5" width="5.0" height="39.0"/><rect x="403.5" y="306.5" width="5.0" height="44.0"/><rect x="408.5" y="301.5" width="5.0" height="49.0"/><rect x="413.5" y="310.5" width="6.0" height="40.0"/><rect x="419.5" y="315.5" width="5.0" height="35.0"/><rect x="424.5" y="304.5" width="5.0" height="46.0"/><rect x="429.5" y="302.5" width="5.0" height="48.0"/><rect x="434.5" y="317.5" width="5.0" height="33.0"/><rect x="439.5" y="283.5" width="5.0" height="67.0"/><rect x="444.5" y="307.5" width="5.0" height="43.0"/><rect x="449.5" y="305.5" width="5.0" height="45.0"/><rect x="454.5" y="315.5" width="5.0" height="35.0"/><rect x="459.5" y="319.5" width="5.0" height="31.0"/><rect x="464.5" y="328.5" width="5.0" height="22.0"/><rect x="469.5" y="323.5" width="5.0" height="27.0"/><rect x="474.5" y="316.5" width="6.0" height="34.0"/><rect x="480.5" y="326.5" width="5.0" height="24.0"/><rect x="485.5" y="314.5" width="5.0" height="36.0"/><rect x="490.5" y="311.5" width="5.0" height="39.0"/><rect x="495.5" y="322.5" width="5.0" height="28.0"/><rect x="500.5" y="307.5" width="5.0" height="43.0"/><rect x="505.5" y="312.5" width="5.0" height="38.0"/><rect x="510.5" y="310.5" width="5.0" height="40.0"/><rect x="515.5" y="306.5" width="5.0" height="44.0"/><rect x="520.5" y="310.5" width="5.0" height="40.0"/><rect x="525.5" y="304.5" width="5.0" height="46.0"/><rect x="530.5" y="316.5" width="6.0" height="34.0"/><rect x="536.5" y="325.5" width="5.0" height="25.0"/><rect x="541.5" y="322.5" width="5.0" height="28.0"/><rect x="546.5" y="316.5" width="5.0" height="34.0"/><rect x="551.5" y="323.5" width="5.0" height="27.0"/><rect x="556.5" y="318.5" width="5.0" height="32.0"/><rect x="561.5" y="315.5" width="5.0" height="35.0"/><rect x="566.5" y="314.5" width="5.0" height="36.0"/><rect x="571.5" y="308.5" width="5.0" height="42.0"/><rect x="576.5" y="319.5" width="5.0" height="31.0"/><rect x="581.5" y="317.5" width="5.0" height="33.0"/><rect x="586.5" y="314.5" width="5.0" height="36.0"/><rect x="591.5" y="321.5" width="6.0" height="29.0"/><rect x="597.5" y="320.5" width="5.0" height="30.0"/><rect x="602.5" y="327.5" width="5.0" height="23.0"/><rect x="607.5" y="327.5" width="5.0" height="23.0"/><rect x="612.5" y="315.5" width="5.0" height="35.0"/><rect x="617.5" y="323.5" width="5.0" height="27.0"/><rect x="622.5" y="319.5" width="5.0" height="31.0"/><rect x="627.5" y="316.5" width="5.0" height="34.0"/><rect x="632.5" y="317.5" width="5.0" height="33.0"/><rect x="637.5" y="313.5" width="5.0" height="37.0"/><rect x="642.5" y="321.5" width="5.0" height="29.0"/><rect x="647.5" y="318.5" width="6.0" height="32.0"/><rect x="653.5" y="325.5" width="5.0" height="25.0"/><rect x="658.5" y="316.5" width="5.0" height="34.0"/><rect x="663.5" y="321.5" width="5.0" height="29.0"/><rect x="668.5" y="324.5" width="5.0" height="26.0"/><rect x="673.5" y="318.5" width="5.0" height="32.0"/><rect x="678.5" y="320.5" width="5.0" height="30.0"/><rect x="683.5" y="313.5" width="5.0" height="37.0"/><rect x="688.5" y="316.5" width="5.0" height="34.0"/><rect x="693.5" y="321.5" width="5.0" height="29.0"/><rect x="698.5" y="314.5" width="5.0" height="36.0"/><rect x="703.5" y="312.5" width="5.0" height="38.0"/><rect x="708.5" y="304.5" width="6.0" height="46.0"/><rect x="714.5" y="309.5" width="5.0" height="41.0"/><rect x="719.5" y="319.5" width="5.0" height="31.0"/><rect x="724.5" y="317.5" width="5.0" height="33.0"/><rect x="729.5" y="310.5" width="5.0" height="40.0"/><rect x="734.5" y="295.5" width="5.0" height="55.0"/><rect x="739.5" y="300.5" width="5.0" height="50.0"/><rect x="744.5" y="281.5" width="5.0" height="69.0"/><rect x="749.5" y="304.5" width="5.0" height="46.0"/><rect x="754.5" y="286.5" width="5.0" height="64.0"/><rect x="759.5" y="302.5" width="5.0" height="48.0"/><rect x="764.5" y="310.5" width="5.0" height="40.0"/><rect x="769.5" y="319.5" width="6.0" height="31.0"/><rect x="775.5" y="318.5" width="5.0" height="32.0"/><rect x="780.5" y="322.5" width="5.0" height="28.0"/><rect x="785.5" y="308.5" width="5.0" height="42.0"/><rect x="790.5" y="317.5" width="5.0" height="33.0"/><rect x="795.5" y="327.5" width="5.0" height="23.0"/><rect x="800.5" y="317.5" width="5.0" height="33.0"/><rect x="805.5" y="327.5" width="5.0" height="23.0"/><rect x="810.5" y="318.5" width="5.0" height="32.0"/><rect x="815.5" y="335.5" width="5.0" height="15.0"/><rect x="820.5" y="328.5" width="5.0" height="22.0"/><rect x="825.5" y="326.5" width="6.0" height="24.0"/><rect x="831.5" y="337.5" width="5.0" height="13.0"/><rect x="836.5" y="329.5" width="5.0" height="21.0"/><rect x="841.5" y="325.5" width="5.0" height="25.0"/><rect x="846.5" y="325.5" width="5.0" height="25.0"/><rect x="851.5" y="330.5" width="5.0" height="20.0"/><rect x="856.5" y="309.5" width="5.0" height="41.0"/><rect x="861.5" y="315.5" width="5.0" height="35.0"/><rect x="866.5" y="314.5" width="5.0" height="36.0"/><rect x="871.5" y="307.5" width="5.0" height="43.0"/><rect x="876.5" y="309.5" width="5.0" height="41.0"/><rect x="881.5" y="305.5" width="5.0" height="45.0"/><rect x="886.5" y="313.5" width="6.0" height="37.0"/><rect x="892.5" y="309.5" width="5.0" height="41.0"/><rect x="897.5" y="309.5" width="5.0" height="41.0"/><rect x="902.5" y="318.5" width="5.0" height="32.0"/><rect x="907.5" y="314.5" width="5.0" height="36.0"/><rect x="912.5" y="296.5" width="5.0" height="54.0"/><rect x="917.5" y="287.5" width="5.0" height="63.0"/><rect x="922.5" y="304.5" width="5.0" height="46.0"/><rect x="927.5" y="303.5" width="5.0" height="47.0"/><rect x="932.5" y="310.5" width="5.0" height="40.0"/><rect x="937.5" y="308.5" width="5.0" height="42.0"/><rect x="942.5" y="302.5" width="5.0" height="48.0"/><rect x="947.5" y="311.5" width="6.0" height="39.0"/><rect x="953.5" y="312.5" width="5.0" height="38.0"/><rect x="958.5" y="313.5" width="5.0" height="37.0"/><rect x="963.5" y="318.5" width="5.0" height="32.0"/><rect x="968.5" y="307.5" width="5.0" height="43.0"/><rect x="973.5" y="304.5" width="5.0" height="46.0"/><rect x="978.5" y="315.5" width="5.0" height="35.0"/><rect x="983.5" y="319.5" width="5.0" height="31.0"/><rect x="988.5" y="323.5" width="5.0" height="27.0"/><rect x="993.5" y="326.5" width="5.0" height="24.0"/><rect x="998.5" y="337.5" width="5.0" height="13.0"/><rect x="1003.5" y="317.5" width="6.0" height="33.0"/><rect x="1009.5" y="325.5" width="5.0" height="25.0"/><rect x="1014.5" y="308.5" width="5.0" height="42.0"/><rect x="1019.5" y="304.5" width="5.0" height="46.0"/><rect x="1024.5" y="320.5" width="5.0" height="30.0"/><rect x="1029.5" y="310.5" width="5.0" height="40.0"/><rect x="1034.5" y="307.5" width="5.0" height="43.0"/><rect x="1039.5" y="320.5" width="5.0" height="30.0"/><rect x="1044.5" y="321.5" width="5.0" height="29.0"/><rect x="1049.5" y="319.5" width="5.0" height="31.0"/><rect x="1054.5" y="316.5" width="5.0" height="34.0"/><rect x="1059.5" y="314.5" width="5.0" height="36.0"/><rect x="1064.5" y="311.5" width="6.0" height="39.0"/></g>
<g stroke="#0000cc" stroke-width="1" fill="none"><rect x="4" y="237" width="1" height="16" fill="#0000cc" stroke="none"/><rect x="2" y="239" width="6" height="9" fill="#0000cc" stroke="none"/><rect x="9" y="237" width="1" height="19" fill="#0000cc" stroke="none"/><rect x="7" y="240" width="6" height="8" fill="#0000cc" stroke="none"/><rect x="14" y="240" width="1" height="32" fill="#0000cc" stroke="none"/><rect x="12" y="254" width="6" height="16" fill="#0000cc" stroke="none"/><rect x="19" y="237" width="1" height="11" fill="#0000cc" stroke="none"/><rect x="17.5" y="237.5" width="5" height="7" fill="#fff"/><rect x="24" y="219" width="1" height="21" fill="#0000cc" stroke="none"/><rect x="22.5" y="220.5" width="5" height="16" fill="#fff"/><rect x="29" y="185" width="1" height="11" fill="#0000cc" stroke="none"/><rect x="27" y="188" width="6" height="1" fill="#0000cc" stroke="none"/><rect x="34" y="179" width="1" height="12" fill="#0000cc" stroke="none"/><rect x="32.5" y="180.5" width="5" height="5" fill="#fff"/><rect x="39" y="175" width="1" height="16" fill="#0000cc" stroke="none"/><rect x="37" y="180" width="6" height="2" fill="#0000cc" stroke="none"/><rect x="44" y="186" width="1" height="10" fill="#0000cc" stroke="none"/><rect x="42" y="191" width="6" height="3" fill="#0000cc" stroke="none"/><rect x="49" y="186" width="1" height="13" fill="#0000cc" stroke="none"/><rect x="47.5" y="189.5" width="5" height="3" fill="#fff"/><rect x="54" y="207" width="1" height="12" fill="#0000cc" stroke="none"/><rect x="52" y="211" width="6" height="1" fill="#0000cc" stroke="none"/><rect x="59" y="197" width="1" height="12" fill="#0000cc" stroke="none"/><rect x="57.5" y="198.5" width="5" height="10" fill="#fff"/><rect x="65" y="213" width="1" height="11" fill="#0000cc" stroke="none"/><rect x="63" y="214" width="6" height="3" fill="#0000cc" stroke="none"/><rect x="70" y="191" width="1" height="8" fill="#0000cc" stroke="none"/><rect x="68" y="192" width="6" height="4" fill="#0000cc" stroke="none"/><rect x="75" y="185" width="1" height="9" fill="#0000cc" stroke="none"/><rect x="73" y="188" width="6" height="5" fill="#0000cc" stroke="none"/><rect x="80" y="195" width="1" height="11" fill="#0000cc" stroke="none"/><rect x="78" y="198" width="6" height="1" fill="#0000cc" stroke="none"/><rect x="85" y="197" width="1" height="17" fill="#0000cc" stroke="none"/><rect x="83.5" y="203.5" width="5" height="9" fill="#fff"/><rect x="90" y="185" width="1" height="16" fill="#0000cc" stroke="none"/><rect x="88.5" y="191.5" width="5" height="8" fill="#fff"/><rect x="95" y="186" width="1" height="16" fill="#0000cc" stroke="none"/><rect x="93" y="188" width="6" height="4" fill="#0000cc" stroke="none"/><rect x="100" y="176" width="1" height="10" fill="#0000cc" stroke="none"/><rect x="98" y="180" width="6" height="4" fill="#0000cc" stroke="none"/><rect x="105" y="176" width="1" height="15" fill="#0000cc" stroke="none"/><rect x="103.5" y="181.5" width="5" height="8" fill="#fff"/><rect x="110" y="175" width="1" height="9" fill="#0000cc" stroke="none"/><rect x="108" y="175" width="6" height="1" fill="#0000cc" stroke="none"/><rect x="115" y="158" width="1" height="19" fill="#0000cc" stroke="none"/><rect x="113.5" y="159.5" width="5" height="15" fill="#fff"/><rect x="120" y="147" width="1" height="12" fill="#0000cc" stroke="none"/><rect x="118" y="149" width="6" height="8" fill="#0000cc" stroke="none"/><rect x="126" y="151" width="1" height="4" fill="#0000cc" stroke="none"/><rect x="124.5" y="151.5" width="5" height="2" fill="#fff"/><rect x="131" y="153" width="1" height="10" fill="#0000cc" stroke="none"/><rect x="129" y="158" width="6" height="1" fill="#0000cc" stroke="none"/><rect x="136" y="150" width="1" height="6" fill="#0000cc" stroke="none"/><rect x="134" y="151" width="6" height="1" fill="#0000cc" stroke="none"/><rect x="141" y="136" width="1" height="11" fill="#0000cc" stroke="none"/><rect x="139.5" y="143.5" width="5" height="2" fill="#fff"/><rect x="146" y="142" width="1" height="11" fill="#0000cc" stroke="none"/><rect x="144" y="145" width="6" height="6" fill="#0000cc" stroke="none"/><rect x="151" y="129" width="1" height="19" fill="#0000cc" stroke="none"/><rect x="149.5" y="130.5" width="5" height="12" fill="#fff"/><rect x="156" y="127" width="1" height="5" fill="#0000cc" stroke="none"/><rect x="154.5" y="127.5" width="5" height="2" fill="#fff"/><rect x="161" y="112" width="1" height="15" fill="#0000cc" stroke="none"/><rect x="159.5" y="116.5" width="5" height="9" fill="#fff"/><rect x="166" y="116" width="1" height="11" fill="#0000cc" stroke="none"/><rect x="164" y="118" width="6" height="8" fill="#0000cc" stroke="none"/><rect x="171" y="137" width="1" height="16" fill="#0000cc" stroke="none"/><rect x="169" y="137" width="6" height="15" fill="#0000cc" stroke="none"/><rect x="176" y="143" width="1" height="13" fill="#0000cc" stroke="none"/><rect x="174.5" y="145.5" width="5" height="10" fill="#fff"/><rect x="182" y="145" width="1" height="18" fill="#0000cc" stroke="none"/><rect x="180" y="151" width="6" height="3" fill="#0000cc" stroke="none"/><rect x="187" y="145" width="1" height="13" fill="#0000cc" stroke="none"/><rect x="185" y="151" width="6" height="1" fill="#0000cc" stroke="none"/><rect x="192" y="138" width="1" height="13" fill="#0000cc" stroke="none"/><rect x="190.5" y="146.5" width="5" height="3" fill="#fff"/><rect x="197" y="162" width="1" height="13" fill="#0000cc" stroke="none"/><rect x="195" y="164" width="6" height="8" fill="#0000cc" stroke="none"/><rect x="202" y="164" width="1" height="9" fill="#0000cc" stroke="none"/><rect x="200" y="167" width="6" height="3" fill="#0000cc" stroke="none"/><rect x="207" y="139" width="1" height="26" fill="#0000cc" stroke="none"/><rect x="205.5" y="149.5" width="5" height="13" fill="#fff"/><rect x="212" y="137" width="1" height="12" fill="#0000cc" stroke="none"/><rect x="210.5" y="138.5" width="5" height="4" fill="#fff"/><rect x="217" y="134" width="1" height="19" fill="#0000cc" stroke="none"/><rect x="215" y="139" width="6" height="8" fill="#0000cc" stroke="none"/><rect x="222" y="128" width="1" height="10" fill="#0000cc" stroke="none"/><rect x="220" y="136" width="6" height="1" fill="#0000cc" stroke="none"/><rect x="227" y="120" width="1" height="23" fill="#0000cc" stroke="none"/><rect x="225.5" y="136.5" width="5" height="5" fill="#fff"/><rect x="232" y="130" width="1" height="12" fill="#0000cc" stroke="none"/><rect x="230" y="132" width="6" height="8" fill="#0000cc" stroke="none"/><rect x="237" y="143" width="1" height="16" fill="#0000cc" stroke="none"/><rect x="235.5" y="144.5" width="5" height="9" fill="#fff"/><rect x="243" y="150" width="1" height="13" fill="#0000cc" stroke="none"/><rect x="241" y="154" width="6" height="3" fill="#0000cc" stroke="none"/><rect x="248" y="153" width="1" height="13" fill="#0000cc" stroke="none"/><rect x="246" y="156" width="6" height="7" fill="#0000cc" stroke="none"/><rect x="253" y="171" width="1" height="15" fill="#0000cc" stroke="none"/><rect x="251" y="173" width="6" height="13" fill="#0000cc" stroke="none"/><rect x="258" y="186" width="1" height="13" fill="#0000cc" stroke="none"/><rect x="256" y="191" width="6" height="3" fill="#0000cc" stroke="none"/><rect x="263" y="187" width="1" height="15" fill="#0000cc" stroke="none"/><rect x="261" y="191" width="6" height="10" fill="#0000cc" stroke="none"/><rect x="268" y="195" width="1" height="26" fill="#0000cc" stroke="none"/><rect x="266" y="196" width="6" height="25" fill="#0000cc" stroke="none"/><rect x="273" y="196" width="1" height="10" fill="#0000cc" stroke="none"/><rect x="271" y="201" width="6" height="1" fill="#0000cc" stroke="none"/><rect x="278" y="191" width="1" height="9" fill="#0000cc" stroke="none"/><rect x="276" y="192" width="6" height="5" fill="#0000cc" stroke="none"/><rect x="283" y="176" width="1" height="18" fill="#0000cc" stroke="none"/><rect x="281" y="176" width="6" height="16" fill="#0000cc" stroke="none"/><rect x="288" y="183" width="1" height="6" fill="#0000cc" stroke="none"/><rect x="286" y="185" width="6" height="1" fill="#0000cc" stroke="none"/><rect x="293" y="159" width="1" height="18" fill="#0000cc" stroke="none"/><rect x="291.5" y="163.5" width="5" height="6" fill="#fff"/><rect x="298" y="153" width="1" height="15" fill="#0000cc" stroke="none"/><rect x="296.5" y="155.5" width="5" height="8" fill="#fff"/><rect x="304" y="141" width="1" height="16" fill="#0000cc" stroke="none"/><rect x="302" y="151" width="6" height="1" fill="#0000cc" stroke="none"/><rect x="309" y="133" width="1" height="16" fill="#0000cc" stroke="none"/><rect x="307.5" y="134.5" width="5" height="13" fill="#fff"/><rect x="314" y="111" width="1" height="22" fill="#0000cc" stroke="none"/><rect x="312.5" y="122.5" width="5" height="10" fill="#fff"/><rect x="319" y="117" width="1" height="7" fill="#0000cc" stroke="none"/><rect x="317" y="120" width="6" height="1" fill="#0000cc" stroke="none"/><rect x="324" y="114" width="1" height="14" fill="#0000cc" stroke="none"/><rect x="322" y="118" width="6" height="1" fill="#0000cc" stroke="none"/><rect x="329" y="101" width="1" height="26" fill="#0000cc" stroke="none"/><rect x="327.5" y="111.5" width="5" height="12" fill="#fff"/><rect x="334" y="97" width="1" height="15" fill="#0000cc" stroke="none"/><rect x="332" y="104" width="6" height="1" fill="#0000cc" stroke="none"/><rect x="339" y="92" width="1" height="5" fill="#0000cc" stroke="none"/><rect x="337" y="94" width="6" height="2" fill="#0000cc" stroke="none"/><rect x="344" y="83" width="1" height="13" fill="#0000cc" stroke="none"/><rect x="342" y="91" width="6" height="1" fill="#0000cc" stroke="none"/><rect x="349" y="89" width="1" height="17" fill="#0000cc" stroke="none"/><rect x="347" y="89" width="6" height="17" fill="#0000cc" stroke="none"/><rect x="354" y="87" width="1" height="19" fill="#0000cc" stroke="none"/><rect x="352.5" y="91.5" width="5" height="13" fill="#fff"/><rect x="360" y="86" width="1" height="16" fill="#0000cc" stroke="none"/><rect x="358" y="89" width="6" height="1" fill="#0000cc" stroke="none"/><rect x="365" y="72" width="1" height="27" fill="#0000cc" stroke="none"/><rect x="363.5" y="77.5" width="5" height="16" fill="#fff"/><rect x="370" y="74" width="1" height="8" fill="#0000cc" stroke="none"/><rect x="368" y="74" width="6" height="1" fill="#0000cc" stroke="none"/><rect x="375" y="68" width="1" height="21" fill="#0000cc" stroke="none"/><rect x="373" y="72" width="6" height="16" fill="#0000cc" stroke="none"/><rect x="380" y="76" width="1" height="21" fill="#0000cc" stroke="none"/><rect x="378.5" y="80.5" width="5" height="7" fill="#fff"/><rect x="385" y="68" width="1" height="14" fill="#0000cc" stroke="none"/><rect x="383.5" y="74.5" width="5" height="4" fill="#fff"/><rect x="390" y="70" width="1" height="36" fill="#0000cc" stroke="none"/><rect x="388" y="74" width="6" height="32" fill="#0000cc" stroke="none"/><rect x="395" y="90" width="1" height="25" fill="#0000cc" stroke="none"/><rect x="393" y="101" width="6" height="6" fill="#0000cc" stroke="none"/><rect x="400" y="97" width="1" height="17" fill="#0000cc" stroke="none"/><rect x="398" y="99" width="6" height="12" fill="#0000cc" stroke="none"/><rect x="405" y="90" width="1" height="29" fill="#0000cc" stroke="none"/><rect x="403.5" y="96.5" width="5" height="16" fill="#fff"/><rect x="410" y="92" width="1" height="25" fill="#0000cc" stroke="none"/><rect x="408" y="93" width="6" height="9" fill="#0000cc" stroke="none"/><rect x="415" y="72" width="1" height="31" fill="#0000cc" stroke="none"/><rect x="413.5" y="77.5" width="5" height="22" fill="#fff"/><rect x="421" y="74" width="1" height="12" fill="#0000cc" stroke="none"/><rect x="419" y="75" width="6" height="8" fill="#0000cc" stroke="none"/><rect x="426" y="65" width="1" height="16" fill="#0000cc" stroke="none"/><rect x="424.5" y="69.5" width="5" height="9" fill="#fff"/><rect x="431" y="66" width="1" height="26" fill="#0000cc" stroke="none"/><rect x="429" y="68" width="6" height="13" fill="#0000cc" stroke="none"/><rect x="436" y="75" width="1" height="10" fill="#0000cc" stroke="none"/><rect x="434" y="77" width="6" height="3" fill="#0000cc" stroke="none"/><rect x="441" y="56" width="1" height="34" fill="#0000cc" stroke="none"/><rect x="439" y="78" width="6" height="8" fill="#0000cc" stroke="none"/><rect x="446" y="73" width="1" height="17" fill="#0000cc" stroke="none"/><rect x="444.5" y="83.5" width="5" height="4" fill="#fff"/><rect x="451" y="81" width="1" height="29" fill="#0000cc" stroke="none"/><rect x="449" y="81" width="6" height="20" fill="#0000cc" stroke="none"/><rect x="456" y="101" width="1" height="12" fill="#0000cc" stroke="none"/><rect x="454" y="102" width="6" height="9" fill="#0000cc" stroke="none"/><rect x="461" y="103" width="1" height="14" fill="#0000cc" stroke="none"/><rect x="459" y="107" width="6" height="5" fill="#0000cc" stroke="none"/><rect x="466" y="98" width="1" height="10" fill="#0000cc" stroke="none"/><rect x="464.5" y="101.5" width="5" height="5" fill="#fff"/><rect x="471" y="90" width="1" height="11" fill="#0000cc" stroke="none"/><rect x="469.5" y="90.5" width="5" height="8" fill="#fff"/><rect x="476" y="87" width="1" height="19" fill="#0000cc" stroke="none"/><rect x="474" y="89" width="6" height="7" fill="#0000cc" stroke="none"/><rect x="482" y="79" width="1" height="22" fill="#0000cc" stroke="none"/><rect x="480.5" y="81.5" width="5" height="14" fill="#fff"/><rect x="487" y="83" width="1" height="15" fill="#0000cc" stroke="none"/><rect x="485" y="84" width="6" height="6" fill="#0000cc" stroke="none"/><rect x="492" y="89" width="1" height="29" fill="#0000cc" stroke="none"/><rect x="490" y="90" width="6" height="22" fill="#0000cc" stroke="none"/><rect x="497" y="99" width="1" height="18" fill="#0000cc" stroke="none"/><rect x="495" y="109" width="6" height="3" fill="#0000cc" stroke="none"/><rect x="502" y="94" width="1" height="22" fill="#0000cc" stroke="none"/><rect x="500" y="109" width="6" height="1" fill="#0000cc" stroke="none"/><rect x="507" y="91" width="1" height="20" fill="#0000cc" stroke="none"/><rect x="505.5" y="94.5" width="5" height="13" fill="#fff"/><rect x="512" y="92" width="1" height="14" fill="#0000cc" stroke="none"/><rect x="510" y="94" width="6" height="2" fill="#0000cc" stroke="none"/><rect x="517" y="79" width="1" height="19" fill="#0000cc" stroke="none"/><rect x="515.5" y="85.5" width="5" height="11" fill="#fff"/><rect x="522" y="85" width="1" height="22" fill="#0000cc" stroke="none"/><rect x="520" y="90" width="6" height="11" fill="#0000cc" stroke="none"/><rect x="527" y="98" width="1" height="35" fill="#0000cc" stroke="none"/><rect x="525" y="100" width="6" height="26" fill="#0000cc" stroke="none"/><rect x="532" y="117" width="1" height="7" fill="#0000cc" stroke="none"/><rect x="530" y="118" width="6" height="3" fill="#0000cc" stroke="none"/><rect x="538" y="116" width="1" height="13" fill="#0000cc" stroke="none"/><rect x="536" y="118" width="6" height="2" fill="#0000cc" stroke="none"/><rect x="543" y="117" width="1" height="16" fill="#0000cc" stroke="none"/><rect x="541" y="118" width="6" height="14" fill="#0000cc" stroke="none"/><rect x="548" y="127" width="1" height="28" fill="#0000cc" stroke="none"/><rect x="546" y="130" width="6" height="24" fill="#0000cc" stroke="none"/><rect x="553" y="151" width="1" height="11" fill="#0000cc" stroke="none"/><rect x="551" y="155" width="6" height="6" fill="#0000cc" stroke="none"/><rect x="558" y="154" width="1" height="10" fill="#0000cc" stroke="none"/><rect x="556" y="157" width="6" height="1" fill="#0000cc" stroke="none"/><rect x="563" y="145" width="1" height="13" fill="#0000cc" stroke="none"/><rect x="561.5" y="149.5" width="5" height="8" fill="#fff"/><rect x="568" y="142" width="1" height="13" fill="#0000cc" stroke="none"/><rect x="566" y="149" width="6" height="1" fill="#0000cc" stroke="none"/><rect x="573" y="128" width="1" height="16" fill="#0000cc" stroke="none"/><rect x="571.5" y="129.5" width="5" height="12" fill="#fff"/><rect x="578" y="117" width="1" height="14" fill="#0000cc" stroke="none"/><rect x="576.5" y="120.5" width="5" height="7" fill="#fff"/><rect x="583" y="117" width="1" height="10" fill="#0000cc" stroke="none"/><rect x="581" y="119" width="6" height="2" fill="#0000cc" stroke="none"/><rect x="588" y="101" width="1" height="19" fill="#0000cc" stroke="none"/><rect x="586.5" y="107.5" width="5" height="12" fill="#fff"/><rect x="593" y="100" width="1" height="8" fill="#0000cc" stroke="none"/><rect x="591.5" y="104.5" width="5" height="2" fill="#fff"/><rect x="599" y="100" width="1" height="17" fill="#0000cc" stroke="none"/><rect x="597" y="100" width="6" height="4" fill="#0000cc" stroke="none"/><rect x="604" y="94" width="1" height="10" fill="#0000cc" stroke="none"/><rect x="602.5" y="99.5" width="5" height="3" fill="#fff"/><rect x="609" y="94" width="1" height="10" fill="#0000cc" stroke="none"/><rect x="607" y="99" width="6" height="1" fill="#0000cc" stroke="none"/><rect x="614" y="95" width="1" height="20" fill="#0000cc" stroke="none"/><rect x="612" y="100" width="6" height="4" fill="#0000cc" stroke="none"/><rect x="619" y="94" width="1" height="16" fill="#0000cc" stroke="none"/><rect x="617" y="102" width="6" height="1" fill="#0000cc" stroke="none"/><rect x="624" y="90" width="1" height="16" fill="#0000cc" stroke="none"/><rect x="622.5" y="96.5" width="5" height="3" fill="#fff"/><rect x="629" y="91" width="1" height="20" fill="#0000cc" stroke="none"/><rect x="627" y="96" width="6" height="8" fill="#0000cc" stroke="none"/><rect x="634" y="104" width="1" height="18" fill="#0000cc" stroke="none"/><rect x="632" y="106" width="6" height="14" fill="#0000cc" stroke="none"/><rect x="639" y="119" width="1" height="25" fill="#0000cc" stroke="none"/><rect x="637" y="121" width="6" height="20" fill="#0000cc" stroke="none"/><rect x="644" y="124" width="1" height="18" fill="#0000cc" stroke="none"/><rect x="642.5" y="129.5" width="5" height="6" fill="#fff"/><rect x="649" y="127" width="1" height="29" fill="#0000cc" stroke="none"/><rect x="647" y="129" width="6" height="15" fill="#0000cc" stroke="none"/><rect x="655" y="137" width="1" height="9" fill="#0000cc" stroke="none"/><rect x="653" y="142" width="6" height="1" fill="#0000cc" stroke="none"/><rect x="660" y="140" width="1" height="18" fill="#0000cc" stroke="none"/><rect x="658" y="144" width="6" height="14" fill="#0000cc" stroke="none"/><rect x="665" y="142" width="1" height="20" fill="#0000cc" stroke="none"/><rect x="663.5" y="151.5" width="5" height="5" fill="#fff"/><rect x="670" y="143" width="1" height="11" fill="#0000cc" stroke="none"/><rect x="668" y="148" width="6" height="1" fill="#0000cc" stroke="none"/><rect x="675" y="130" width="1" height="17" fill="#0000cc" stroke="none"/><rect x="673.5" y="142.5" width="5" height="4" fill="#fff"/><rect x="680" y="133" width="1" height="11" fill="#0000cc" stroke="none"/><rect x="678" y="140" width="6" height="1" fill="#0000cc" stroke="none"/><rect x="685" y="132" width="1" height="19" fill="#0000cc" stroke="none"/><rect x="683" y="137" width="6" height="13" fill="#0000cc" stroke="none"/><rect x="690" y="146" width="1" height="11" fill="#0000cc" stroke="none"/><rect x="688" y="149" width="6" height="3" fill="#0000cc" stroke="none"/><rect x="695" y="147" width="1" height="8" fill="#0000cc" stroke="none"/><rect x="693.5" y="148.5" width="5" height="2" fill="#fff"/><rect x="700" y="142" width="1" height="15" fill="#0000cc" stroke="none"/><rect x="698" y="146" width="6" height="8" fill="#0000cc" stroke="none"/><rect x="705" y="148" width="1" height="16" fill="#0000cc" stroke="none"/><rect x="703" y="153" width="6" height="7" fill="#0000cc" stroke="none"/><rect x="710" y="158" width="1" height="20" fill="#0000cc" stroke="none"/><rect x="708" y="159" width="6" height="12" fill="#0000cc" stroke="none"/><rect x="716" y="172" width="1" height="12" fill="#0000cc" stroke="none"/><rect x="714" y="172" width="6" height="6" fill="#0000cc" stroke="none"/><rect x="721" y="174" width="1" height="13" fill="#0000cc" stroke="none"/><rect x="719" y="179" width="6" height="7" fill="#0000cc" stroke="none"/><rect x="726" y="181" width="1" height="13" fill="#0000cc" stroke="none"/><rect x="724.5" y="186.5" width="5" height="3" fill="#fff"/><rect x="731" y="177" width="1" height="17" fill="#0000cc" stroke="none"/><rect x="729" y="179" width="6" height="7" fill="#0000cc" stroke="none"/><rect x="736" y="185" width="1" height="34" fill="#0000cc" stroke="none"/><rect x="734" y="186" width="6" height="32" fill="#0000cc" stroke="none"/><rect x="741" y="190" width="1" height="34" fill="#0000cc" stroke="none"/><rect x="739.5" y="192.5" width="5" height="27" fill="#fff"/><rect x="746" y="169" width="1" height="35" fill="#0000cc" stroke="none"/><rect x="744.5" y="171.5" width="5" height="21" fill="#fff"/><rect x="751" y="162" width="1" height="19" fill="#0000cc" stroke="none"/><rect x="749.5" y="164.5" width="5" height="15" fill="#fff"/><rect x="756" y="131" width="1" height="36" fill="#0000cc" stroke="none"/><rect x="754.5" y="134.5" width="5" height="29" fill="#fff"/><rect x="761" y="126" width="1" height="12" fill="#0000cc" stroke="none"/><rect x="759.5" y="129.5" width="5" height="2" fill="#fff"/><rect x="766" y="110" width="1" height="23" fill="#0000cc" stroke="none"/><rect x="764.5" y="115.5" width="5" height="13" fill="#fff"/><rect x="771" y="114" width="1" height="10" fill="#0000cc" stroke="none"/><rect x="769" y="116" width="6" height="2" fill="#0000cc" stroke="none"/><rect x="777" y="117" width="1" height="14" fill="#0000cc" stroke="none"/><rect x="775" y="118" width="6" height="12" fill="#0000cc" stroke="none"/><rect x="782" y="120" width="1" height="27" fill="#0000cc" stroke="none"/><rect x="780" y="134" width="6" height="13" fill="#0000cc" stroke="none"/><rect x="787" y="119" width="1" height="31" fill="#0000cc" stroke="none"/><rect x="785.5" y="120.5" width="5" height="24" fill="#fff"/><rect x="792" y="117" width="1" height="13" fill="#0000cc" stroke="none"/><rect x="790" y="120" width="6" height="1" fill="#0000cc" stroke="none"/><rect x="797" y="118" width="1" height="10" fill="#0000cc" stroke="none"/><rect x="795" y="119" width="6" height="3" fill="#0000cc" stroke="none"/><rect x="802" y="107" width="1" height="16" fill="#0000cc" stroke="none"/><rect x="800.5" y="113.5" width="5" height="8" fill="#fff"/><rect x="807" y="104" width="1" height="13" fill="#0000cc" stroke="none"/><rect x="805" y="113" width="6" height="3" fill="#0000cc" stroke="none"/><rect x="812" y="112" width="1" height="17" fill="#0000cc" stroke="none"/><rect x="810" y="116" width="6" height="1" fill="#0000cc" stroke="none"/><rect x="817" y="109" width="1" height="7" fill="#0000cc" stroke="none"/><rect x="815.5" y="112.5" width="5" height="2" fill="#fff"/><rect x="822" y="93" width="1" height="21" fill="#0000cc" stroke="none"/><rect x="820.5" y="96.5" width="5" height="16" fill="#fff"/><rect x="827" y="76" width="1" height="23" fill="#0000cc" stroke="none"/><rect x="825.5" y="81.5" width="5" height="14" fill="#fff"/><rect x="833" y="79" width="1" height="6" fill="#0000cc" stroke="none"/><rect x="831" y="80" width="6" height="2" fill="#0000cc" stroke="none"/><rect x="838" y="65" width="1" height="17" fill="#0000cc" stroke="none"/><rect x="836.5" y="69.5" width="5" height="11" fill="#fff"/><rect x="843" y="61" width="1" height="13" fill="#0000cc" stroke="none"/><rect x="841" y="68" width="6" height="1" fill="#0000cc" stroke="none"/><rect x="848" y="60" width="1" height="20" fill="#0000cc" stroke="none"/><rect x="846" y="65" width="6" height="14" fill="#0000cc" stroke="none"/><rect x="853" y="63" width="1" height="19" fill="#0000cc" stroke="none"/><rect x="851.5" y="68.5" width="5" height="10" fill="#fff"/><rect x="858" y="53" width="1" height="15" fill="#0000cc" stroke="none"/><rect x="856.5" y="64.5" width="5" height="2" fill="#fff"/><rect x="863" y="55" width="1" height="11" fill="#0000cc" stroke="none"/><rect x="861" y="62" width="6" height="1" fill="#0000cc" stroke="none"/><rect x="868" y="55" width="1" height="13" fill="#0000cc" stroke="none"/><rect x="866" y="62" width="6" height="1" fill="#0000cc" stroke="none"/><rect x="873" y="50" width="1" height="16" fill="#0000cc" stroke="none"/><rect x="871.5" y="52.5" width="5" height="11" fill="#fff"/><rect x="878" y="43" width="1" height="16" fill="#0000cc" stroke="none"/><rect x="876.5" y="46.5" width="5" height="3" fill="#fff"/><rect x="883" y="44" width="1" height="18" fill="#0000cc" stroke="none"/><rect x="881" y="45" width="6" height="16" fill="#0000cc" stroke="none"/><rect x="888" y="43" width="1" height="23" fill="#0000cc" stroke="none"/><rect x="886.5" y="45.5" width="5" height="18" fill="#fff"/><rect x="894" y="36" width="1" height="12" fill="#0000cc" stroke="none"/><rect x="892.5" y="37.5" width="5" height="6" fill="#fff"/><rect x="899" y="38" width="1" height="13" fill="#0000cc" stroke="none"/><rect x="897" y="39" width="6" height="11" fill="#0000cc" stroke="none"/><rect x="904" y="46" width="1" height="14" fill="#0000cc" stroke="none"/><rect x="902" y="48" width="6" height="10" fill="#0000cc" stroke="none"/><rect x="909" y="52" width="1" height="12" fill="#0000cc" stroke="none"/><rect x="907" y="55" width="6" height="8" fill="#0000cc" stroke="none"/><rect x="914" y="45" width="1" height="24" fill="#0000cc" stroke="none"/><rect x="912.5" y="50.5" width="5" height="13" fill="#fff"/><rect x="919" y="50" width="1" height="32" fill="#0000cc" stroke="none"/><rect x="917" y="50" width="6" height="24" fill="#0000cc" stroke="none"/><rect x="924" y="68" width="1" height="24" fill="#0000cc" stroke="none"/><rect x="922" y="70" width="6" height="11" fill="#0000cc" stroke="none"/><rect x="929" y="74" width="1" height="26" fill="#0000cc" stroke="none"/><rect x="927" y="82" width="6" height="16" fill="#0000cc" stroke="none"/><rect x="934" y="93" width="1" height="14" fill="#0000cc" stroke="none"/><rect x="932" y="100" width="6" height="4" fill="#0000cc" stroke="none"/><rect x="939" y="84" width="1" height="25" fill="#0000cc" stroke="none"/><rect x="937.5" y="90.5" width="5" height="16" fill="#fff"/><rect x="944" y="85" width="1" height="31" fill="#0000cc" stroke="none"/><rect x="942" y="91" width="6" height="24" fill="#0000cc" stroke="none"/><rect x="949" y="106" width="1" height="12" fill="#0000cc" stroke="none"/><rect x="947" y="111" width="6" height="1" fill="#0000cc" stroke="none"/><rect x="955" y="91" width="1" height="20" fill="#0000cc" stroke="none"/><rect x="953.5" y="94.5" width="5" height="13" fill="#fff"/><rect x="960" y="88" width="1" height="10" fill="#0000cc" stroke="none"/><rect x="958.5" y="89.5" width="5" height="5" fill="#fff"/><rect x="965" y="86" width="1" height="16" fill="#0000cc" stroke="none"/><rect x="963" y="89" width="6" height="7" fill="#0000cc" stroke="none"/><rect x="970" y="97" width="1" height="31" fill="#0000cc" stroke="none"/><rect x="968" y="98" width="6" height="25" fill="#0000cc" stroke="none"/><rect x="975" y="121" width="1" height="17" fill="#0000cc" stroke="none"/><rect x="973" y="122" width="6" height="12" fill="#0000cc" stroke="none"/><rect x="980" y="128" width="1" height="15" fill="#0000cc" stroke="none"/><rect x="978" y="131" width="6" height="4" fill="#0000cc" stroke="none"/><rect x="985" y="124" width="1" height="10" fill="#0000cc" stroke="none"/><rect x="983.5" y="130.5" width="5" height="2" fill="#fff"/><rect x="990" y="123" width="1" height="10" fill="#0000cc" stroke="none"/><rect x="988" y="128" width="6" height="2" fill="#0000cc" stroke="none"/><rect x="995" y="117" width="1" height="14" fill="#0000cc" stroke="none"/><rect x="993" y="120" width="6" height="10" fill="#0000cc" stroke="none"/><rect x="1000" y="123" width="1" height="8" fill="#0000cc" stroke="none"/><rect x="998" y="128" width="6" height="1" fill="#0000cc" stroke="none"/><rect x="1005" y="99" width="1" height="31" fill="#0000cc" stroke="none"/><rect x="1003.5" y="102.5" width="5" height="25" fill="#fff"/><rect x="1011" y="97" width="1" height="9" fill="#0000cc" stroke="none"/><rect x="1009.5" y="98.5" width="5" height="5" fill="#fff"/><rect x="1016" y="96" width="1" height="20" fill="#0000cc" stroke="none"/><rect x="1014" y="100" width="6" height="14" fill="#0000cc" stroke="none"/><rect x="1021" y="86" width="1" height="32" fill="#0000cc" stroke="none"/><rect x="1019.5" y="95.5" width="5" height="20" fill="#fff"/><rect x="1026" y="92" width="1" height="9" fill="#0000cc" stroke="none"/><rect x="1024" y="94" width="6" height="5" fill="#0000cc" stroke="none"/><rect x="1031" y="95" width="1" height="23" fill="#0000cc" stroke="none"/><rect x="1029" y="96" width="6" height="12" fill="#0000cc" stroke="none"/><rect x="1036" y="103" width="1" height="19" fill="#0000cc" stroke="none"/><rect x="1034" y="112" width="6" height="8" fill="#0000cc" stroke="none"/><rect x="1041" y="111" width="1" height="11" fill="#0000cc" stroke="none"/><rect x="1039" y="113" width="6" height="7" fill="#0000cc" stroke="none"/><rect x="1046" y="108" width="1" height="14" fill="#0000cc" stroke="none"/><rect x="1044.5" y="114.5" width="5" height="5" fill="#fff"/><rect x="1051" y="105" width="1" height="11" fill="#0000cc" stroke="none"/><rect x="1049.5" y="107.5" width="5" height="2" fill="#fff"/><rect x="1056" y="102" width="1" height="11" fill="#0000cc" stroke="none"/><rect x="1054" y="107" width="6" height="1" fill="#0000cc" stroke="none"/><rect x="1061" y="104" width="1" height="14" fill="#0000cc" stroke="none"/><rect x="1059" y="107" width="6" height="10" fill="#0000cc" stroke="none"/><rect x="1066" y="92" width="1" height="27" fill="#0000cc" stroke="none"/><rect x="1064.5" y="95.5" width="5" height="21" fill="#fff"/></g>
<polyline points="4.5,272.5 10.5,271.5 15.5,262.5 24.5,262.5 29.5,247.5 44.5,241.5 50.5,225.5 54.5,222.5 112.5,222.5 115.5,214.5 121.5,208.5 136.5,208.5 141.5,201.5 146.5,191.5 151.5,184.5 157.5,174.5 162.5,167.5 192.5,167.5 197.5,161.5 213.5,161.5 218.5,156.5 223.5,156.5 229.5,150.5 235.5,149.5 240.5,145.5 248.5,142.5 253.5,148.5 258.5,154.5 264.5,156.5 264.5,156.5 269.5,165.5 270.5,165.5 289.5,165.5 294.5,170.5 309.5,169.5 314.5,165.5 329.5,164.5 334.5,156.5 341.5,151.5 358.5,150.5 365.5,146.5 380.5,143.5 397.5,142.5 402.5,138.5 407.5,133.5 416.5,128.5 421.5,120.5 432.5,109.5 437.5,104.5 440.5,93.5 442.5,90.5 457.5,89.5 462.5,86.5 523.5,85.5 528.5,93.5 530.5,93.5 541.5,93.5 546.5,102.5 551.5,106.5 559.5,109.5 569.5,109.5 572.5,115.5 577.5,120.5 647.5,120.5 652.5,123.5 671.5,125.5 705.5,125.5 710.5,131.5 717.5,135.5 722.5,138.5 727.5,140.5 732.5,142.5 737.5,152.5 742.5,156.5 757.5,156.5 762.5,162.5 767.5,165.5 798.5,164.5 807.5,163.5 818.5,163.5 823.5,156.5 828.5,149.5 834.5,148.5 839.5,142.5 844.5,141.5 854.5,141.5 859.5,137.5 869.5,137.5 874.5,122.5 879.5,111.5 884.5,100.5 890.5,94.5 895.5,91.5 915.5,91.5 918.5,82.5 938.5,81.5 946.5,74.5 952.5,76.5 965.5,76.5 971.5,82.5 979.5,88.5 1009.5,88.5 1014.5,91.5 1041.5,92.5 1046.5,95.5 1051.5,103.5 1057.5,106.5 1061.5,110.5 1067.5,112.5" fill="none" stroke="#66cc99" stroke-width="1" />
<polyline points="2.5,238.5 9.5,239.5 14.5,244.5 19.5,248.5 24.5,242.5 27.5,234.5 29.5,227.5 33.5,224.5 39.5,222.5 54.5,222.5 58.5,215.5 63.5,208.5 70.5,199.5 79.5,199.5 85.5,203.5 96.5,203.5 101.5,199.5 106.5,199.5 112.5,193.5 117.5,184.5 122.5,179.5 125.5,179.5 130.5,173.5 135.5,172.5 141.5,162.5 146.5,161.5 152.5,155.5 157.5,149.5 162.5,136.5 174.5,136.5 177.5,133.5 181.5,136.5 192.5,136.5 197.5,142.5 204.5,142.5 208.5,146.5 213.5,155.5 218.5,152.5 228.5,147.5 235.5,147.5 240.5,145.5 248.5,142.5 253.5,149.5 258.5,157.5 264.5,160.5 264.5,159.5 269.5,168.5 270.5,169.5 274.5,175.5 279.5,180.5 284.5,183.5 289.5,186.5 294.5,190.5 299.5,186.5 304.5,180.5 309.5,176.5 312.5,162.5 314.5,157.5 319.5,154.5 324.5,151.5 329.5,147.5 332.5,139.5 333.5,136.5 337.5,131.5 342.5,124.5 345.5,118.5 350.5,114.5 355.5,106.5 360.5,104.5 365.5,99.5 370.5,97.5 376.5,88.5 381.5,86.5 391.5,86.5 396.5,89.5 406.5,92.5 421.5,92.5 427.5,90.5 437.5,89.5 442.5,86.5 447.5,86.5 452.5,85.5 457.5,83.5 462.5,85.5 483.5,85.5 488.5,92.5 493.5,97.5 520.5,97.5 525.5,100.5 530.5,104.5 530.5,104.5 541.5,105.5 546.5,113.5 554.5,118.5 559.5,120.5 564.5,125.5 569.5,130.5 572.5,138.5 583.5,139.5 587.5,134.5 590.5,132.5 599.5,130.5 605.5,124.5 610.5,121.5 615.5,117.5 620.5,112.5 625.5,107.5 630.5,104.5 635.5,105.5 637.5,112.5 640.5,115.5 645.5,118.5 650.5,122.5 659.5,122.5 663.5,124.5 671.5,125.5 676.5,134.5 681.5,140.5 686.5,141.5 691.5,143.5 706.5,145.5 711.5,152.5 717.5,155.5 722.5,159.5 727.5,164.5 732.5,171.5 737.5,179.5 742.5,182.5 747.5,186.5 752.5,189.5 757.5,176.5 762.5,172.5 767.5,165.5 783.5,164.5 788.5,154.5 793.5,142.5 798.5,132.5 803.5,127.5 808.5,125.5 818.5,125.5 823.5,119.5 828.5,111.5 834.5,100.5 839.5,95.5 844.5,93.5 854.5,93.5 859.5,84.5 864.5,82.5 869.5,73.5 874.5,65.5 879.5,61.5 888.5,61.5 895.5,57.5 900.5,51.5 915.5,51.5 920.5,58.5 925.5,63.5 930.5,67.5 935.5,70.5 940.5,74.5 946.5,79.5 958.5,81.5 966.5,89.5 971.5,99.5 976.5,111.5 990.5,113.5 1007.5,113.5 1012.5,117.5 1019.5,117.5 1024.5,111.5 1029.5,109.5 1037.5,107.5 1044.5,106.5 1051.5,104.5 1057.5,103.5 1062.5,103.5 1063.5,103.5" fill="none" stroke="#ffc000" stroke-width="1" />
<polyline points="65.5,291.5 80.5,291.5 85.5,287.5 91.5,285.5 96.5,277.5 101.5,274.5 106.5,273.5 112.5,273.5 117.5,266.5 122.5,260.5 127.5,257.5 133.5,255.5 143.5,254.5 146.5,253.5 152.5,255.5 157.5,252.5 162.5,236.5 167.5,234.5 177.5,231.5 182.5,223.5 187.5,222.5 192.5,216.5 197.5,215.5 202.5,210.5 213.5,210.5 218.5,213.5 229.5,213.5 234.5,211.5 239.5,211.5 244.5,207.5 249.5,200.5 254.5,193.5 259.5,193.5 264.5,191.5 269.5,187.5 274.5,182.5 279.5,177.5 284.5,170.5 289.5,162.5 294.5,151.5 307.5,151.5 338.5,151.5 344.5,157.5 358.5,151.5 365.5,146.5 380.5,143.5 385.5,148.5 390.5,155.5 397.5,157.5 402.5,167.5 407.5,170.5 417.5,175.5 425.5,178.5 432.5,176.5 440.5,172.5 445.5,166.5 449.5,161.5 454.5,159.5 460.5,157.5 467.5,146.5 472.5,141.5 477.5,136.5 483.5,132.5 493.5,126.5 498.5,122.5 503.5,121.5 508.5,116.5 513.5,115.5 524.5,115.5 528.5,117.5 530.5,115.5 533.5,113.5 538.5,112.5 549.5,109.5 554.5,106.5 559.5,102.5 569.5,98.5 574.5,92.5 579.5,88.5 589.5,86.5 615.5,86.5 620.5,90.5 625.5,91.5 656.5,92.5 661.5,97.5 674.5,100.5 679.5,110.5 686.5,113.5 696.5,116.5 701.5,120.5 706.5,125.5 711.5,129.5 715.5,130.5 722.5,126.5 732.5,123.5 747.5,118.5 757.5,114.5 765.5,112.5 767.5,114.5 778.5,118.5 783.5,123.5 788.5,124.5 804.5,125.5 807.5,128.5 815.5,133.5 831.5,134.5 839.5,137.5 844.5,142.5 849.5,145.5 854.5,148.5 864.5,153.5 869.5,164.5 874.5,168.5 879.5,169.5 883.5,172.5 889.5,167.5 893.5,168.5 900.5,165.5 915.5,165.5 920.5,158.5 925.5,153.5 930.5,149.5 938.5,144.5 950.5,144.5 956.5,138.5 961.5,131.5 966.5,124.5 971.5,120.5 976.5,116.5 988.5,117.5 992.5,111.5 997.5,109.5 1002.5,105.5 1007.5,92.5 1012.5,85.5 1017.5,81.5 1022.5,78.5 1030.5,71.5 1047.5,71.5 1054.5,69.5 1061.5,73.5 1071.5,77.5 1089.5,78.5 1094.5,81.5 1101.5,89.5 1108.5,97.5 1113.5,100.5 1118.5,100.5" fill="none" stroke="#ff00ff" stroke-width="1" />
<polyline points="197.5,292.5 234.5,292.5 243.5,288.5 245.5,279.5 249.5,262.5 252.5,252.5 257.5,247.5 261.5,241.5 266.5,239.5 274.5,232.5 279.5,224.5 284.5,220.5 289.5,217.5 294.5,212.5 307.5,210.5 310.5,207.5 313.5,193.5 316.5,192.5 406.5,191.5 411.5,178.5 417.5,174.5 421.5,167.5 460.5,167.5 462.5,164.5 467.5,156.5 472.5,154.5 477.5,150.5 493.5,150.5 498.5,145.5 508.5,143.5 530.5,142.5 535.5,143.5 535.5,142.5 568.5,142.5 573.5,138.5 577.5,137.5 660.5,137.5 664.5,132.5 669.5,127.5 681.5,120.5 686.5,117.5 691.5,110.5 694.5,109.5 834.5,109.5 839.5,116.5 844.5,126.5 849.5,130.5 857.5,134.5 864.5,136.5 869.5,148.5 874.5,150.5 910.5,150.5 920.5,156.5 955.5,156.5 958.5,151.5 965.5,148.5 971.5,142.5 976.5,140.5 987.5,140.5 992.5,138.5 1002.5,137.5 1012.5,132.5 1022.5,132.5 1027.5,129.5 1118.5,129.5" fill="none" stroke="#0099ff" stroke-width="1" />
<polyline points="4.5,157.5 14.5,142.5 19.5,149.5 24.5,128.5 30.5,126.5 35.5,115.5 40.5,124.5 45.5,150.5 50.5,144.5 55.5,153.5 60.5,150.5 65.5,144.5 70.5,170.5 75.5,168.5 80.5,146.5 85.5,137.5 91.5,145.5 96.5,134.5 101.5,134.5 106.5,137.5 112.5,143.5 117.5,157.5 122.5,167.5 127.5,184.5 133.5,195.5 138.5,204.5 141.5,219.5 146.5,199.5 152.5,194.5 157.5,190.5 162.5,184.5 167.5,161.5 172.5,151.5 177.5,148.5 182.5,130.5 187.5,120.5 192.5,119.5 197.5,117.5 202.5,108.5 207.5,93.5 213.5,94.5 218.5,90.5 223.5,104.5 228.5,91.5 233.5,87.5 238.5,75.5 243.5,73.5 248.5,86.5 258.5,72.5 263.5,104.5 269.5,99.5 274.5,108.5 279.5,94.5 284.5,100.5 289.5,76.5 294.5,81.5 299.5,66.5 304.5,80.5 309.5,78.5 315.5,85.5 320.5,81.5 325.5,98.5 330.5,106.5 335.5,110.5 340.5,95.5 345.5,89.5 350.5,96.5 355.5,80.5 360.5,88.5 365.5,111.5 370.5,110.5 376.5,107.5 381.5,93.5 386.5,95.5 391.5,85.5 396.5,106.5 401.5,125.5 406.5,118.5 411.5,117.5 416.5,132.5 421.5,152.5 427.5,158.5 432.5,158.5 437.5,147.5 442.5,139.5 447.5,127.5 452.5,118.5 457.5,120.5 462.5,108.5 467.5,104.5 472.5,102.5 477.5,97.5 483.5,99.5 488.5,102.5 493.5,98.5 498.5,94.5 503.5,107.5 508.5,118.5 513.5,139.5 518.5,127.5 523.5,144.5 528.5,147.5 533.5,156.5 538.5,149.5 544.5,146.5 549.5,140.5 554.5,139.5 559.5,150.5 564.5,148.5 569.5,144.5 574.5,154.5 579.5,161.5 584.5,172.5 589.5,180.5 594.5,185.5 599.5,180.5 605.5,187.5 610.5,216.5 615.5,188.5 620.5,170.5 625.5,161.5 627.5,140.5 630.5,132.5 635.5,121.5 640.5,116.5 645.5,115.5 650.5,123.5 655.5,143.5 657.5,127.5 661.5,118.5 666.5,118.5 671.5,121.5 676.5,111.5 681.5,112.5 686.5,114.5 691.5,110.5 696.5,95.5 701.5,80.5 706.5,80.5 711.5,68.5 716.5,66.5 721.5,77.5 726.5,66.5 731.5,63.5 737.5,61.5 742.5,62.5 747.5,51.5 752.5,44.5 757.5,60.5 762.5,44.5 767.5,36.5 772.5,48.5 777.5,56.5 782.5,61.5 787.5,48.5 792.5,71.5 798.5,82.5 803.5,95.5 808.5,101.5 813.5,88.5 818.5,114.5 823.5,107.5 828.5,94.5 834.5,88.5 839.5,95.5 844.5,122.5 849.5,131.5 854.5,132.5 859.5,124.5 864.5,118.5 869.5,127.5 874.5,126.5 879.5,99.5 884.5,97.5 890.5,115.5 895.5,93.5 900.5,96.5 905.5,108.5 910.5,118.5 915.5,118.5 920.5,111.5 925.5,106.5 930.5,106.5 935.5,115.5 940.5,92.5" fill="none" stroke="#00ccff" stroke-width="1" />
<rect x="1" y="3" width="1" height="349" fill="#000"/>
<rect x="3" y="3" width="1148" height="1" fill="#000"/>
<rect x="1150" y="3" width="1" height="349" fill="#000"/>
<rect x="2" y="350" width="1069" height="1" fill="#0000cc"/>
<rect x="1" y="351" width="1150" height="1" fill="#000"/>
<rect x="22" y="3" width="1" height="1" fill="#cccccc"/>
<rect x="113" y="3" width="1" height="1" fill="#cccccc"/>
<rect x="225" y="3" width="1" height="1" fill="#cccccc"/>
<rect x="337" y="3" width="1" height="1" fill="#cccccc"/>
<rect x="444" y="3" width="1" height="1" fill="#cccccc"/>
<rect x="541" y="3" width="1" height="1" fill="#cccccc"/>
<rect x="647" y="3" width="1" height="1" fill="#cccccc"/>
<rect x="744" y="3" width="1" height="1" fill="#cccccc"/>
<rect x="851" y="3" width="1" height="1" fill="#cccccc"/>
<rect x="947" y="3" width="1" height="1" fill="#cccccc"/>
<rect x="1044" y="3" width="1" height="1" fill="#cccccc"/>
<rect x="1150" y="53" width="1" height="1" fill="#cccccc"/>
<rect x="1150" y="110" width="1" height="1" fill="#cccccc"/>
<rect x="1150" y="167" width="1" height="1" fill="#cccccc"/>
<rect x="1150" y="223" width="1" height="1" fill="#cccccc"/>
<rect x="1150" y="283" width="1" height="1" fill="#cccccc"/>
<rect x="1150" y="317" width="1" height="1" fill="#cccccc"/>
<rect x="1" y="352" width="1150" height="5" fill="#c8c8c8"/>
<rect x="1" y="352" width="17" height="5" fill="#e8e8e8"/>
<rect x="1" y="352" width="17" height="1" fill="#ffffff"/>
<rect x="1134" y="352" width="17" height="5" fill="#e8e8e8"/>
<rect x="942" y="352" width="14" height="5" fill="#f4f4f4"/>
</g>
<g font-family="'Liberation Sans', sans-serif" font-size="13.2px"><text transform="translate(4.0,15.0) scale(0.73,1)" text-anchor="start" fill="#000" stroke="#000" stroke-width="0.25" letter-spacing="0.99">4</text><text transform="translate(23.8,15.0) scale(0.73,1)" text-anchor="start" fill="#000" stroke="#000" stroke-width="0.25" letter-spacing="0.99">5</text><text transform="translate(114.8,15.0) scale(0.73,1)" text-anchor="start" fill="#000" stroke="#000" stroke-width="0.25" letter-spacing="0.99">6</text><text transform="translate(226.8,15.0) scale(0.73,1)" text-anchor="start" fill="#000" stroke="#000" stroke-width="0.25" letter-spacing="0.99">7</text><text transform="translate(338.8,15.0) scale(0.73,1)" text-anchor="start" fill="#000" stroke="#000" stroke-width="0.25" letter-spacing="0.99">8</text><text transform="translate(445.8,15.0) scale(0.73,1)" text-anchor="start" fill="#000" stroke="#000" stroke-width="0.25" letter-spacing="0.99">9</text><text transform="translate(542.8,15.0) scale(0.73,1)" text-anchor="start" fill="#000" stroke="#000" stroke-width="0.25" letter-spacing="0.99">10</text><text transform="translate(648.8,15.0) scale(0.73,1)" text-anchor="start" fill="#000" stroke="#000" stroke-width="0.25" letter-spacing="0.99">11</text><text transform="translate(745.8,15.0) scale(0.73,1)" text-anchor="start" fill="#000" stroke="#000" stroke-width="0.25" letter-spacing="0.99">12</text><text transform="translate(852.8,15.0) scale(0.73,1)" text-anchor="start" fill="#000" stroke="#000" stroke-width="0.25" letter-spacing="0.99" dx="0 0 1.8 1.8">10/1</text><text transform="translate(948.8,15.0) scale(0.73,1)" text-anchor="start" fill="#000" stroke="#000" stroke-width="0.25" letter-spacing="0.99">2</text><text transform="translate(1045.8,15.0) scale(0.73,1)" text-anchor="start" fill="#000" stroke="#000" stroke-width="0.25" letter-spacing="0.99">3</text><text transform="translate(1147.8,53.0) scale(0.73,1)" text-anchor="end" fill="#000" stroke="#000" stroke-width="0.25" letter-spacing="0.99">10800</text><text transform="translate(1147.8,110.0) scale(0.73,1)" text-anchor="end" fill="#000" stroke="#000" stroke-width="0.25" letter-spacing="0.99">10200</text><text transform="translate(1147.8,167.0) scale(0.73,1)" text-anchor="end" fill="#000" stroke="#000" stroke-width="0.25" letter-spacing="0.99">9600</text><text transform="translate(1147.8,223.0) scale(0.73,1)" text-anchor="end" fill="#000" stroke="#000" stroke-width="0.25" letter-spacing="0.99">9000</text><text transform="translate(1147.8,283.0) scale(0.73,1)" text-anchor="end" fill="#000" stroke="#000" stroke-width="0.25" letter-spacing="0.99">140000</text><text transform="translate(1147.8,317.0) scale(0.73,1)" text-anchor="end" fill="#000" stroke="#000" stroke-width="0.25" letter-spacing="0.99">70000</text><text transform="translate(1147.8,350.0) scale(0.73,1)" text-anchor="end" fill="#000" stroke="#000" stroke-width="0.25" letter-spacing="0.99">0</text></g>
<polyline points="247.2,134.7 276.7,220.1 347.5,61.9" fill="none" stroke="#ed1c24" stroke-width="3" stroke-linecap="round" stroke-linejoin="round" shape-rendering="crispEdges"/><polyline points="332.5,68.5 340.0,62.5 347.5,61.9 351.5,76.0" fill="none" stroke="#ed1c24" stroke-width="2" stroke-linecap="round" stroke-linejoin="round" shape-rendering="crispEdges"/><polyline points="529.0,116.0 555.3,161.8 610.8,90.2 700.9,214.8" fill="none" stroke="#ed1c24" stroke-width="3" stroke-linecap="round" stroke-linejoin="round" shape-rendering="crispEdges"/><polyline points="685.7,213.1 700.9,214.8 703.1,195.4" fill="none" stroke="#ed1c24" stroke-width="2" stroke-linecap="round" stroke-linejoin="round" shape-rendering="crispEdges"/><polyline points="977.2,85.0 996.5,142.2 1079.7,31.6" fill="none" stroke="#ed1c24" stroke-width="3" stroke-linecap="round" stroke-linejoin="round" shape-rendering="crispEdges"/><polyline points="1060.4,35.3 1079.7,31.6 1078.4,50.5" fill="none" stroke="#ed1c24" stroke-width="2" stroke-linecap="round" stroke-linejoin="round" shape-rendering="crispEdges"/><polyline points="1052.0,70.7 1094.9,181.4" fill="none" stroke="#ed1c24" stroke-width="3" stroke-linecap="round" stroke-linejoin="round" shape-rendering="crispEdges"/><polyline points="1078.9,173.9 1094.9,181.4 1100.8,166.3" fill="none" stroke="#ed1c24" stroke-width="2" stroke-linecap="round" stroke-linejoin="round" shape-rendering="crispEdges"/>
<g font-family="'Liberation Sans', 'Noto Sans CJK JP', sans-serif" style="text-spacing-trim:space-all;font-kerning:none"><text x="271.5" y="245.5" fill="#f01c24" font-size="13.1px">7月タイプなら雲下限タッチ</text><text x="271.5" y="272.5" fill="#f01c24" font-size="13.1px">でそのまま雲上抜け</text><text x="639.0" y="237.5" fill="#f01c24" font-size="13.1px">10月タイプなら雲上限に</text><text x="639.0" y="263.5" fill="#f01c24" font-size="13.1px">抑えられてそのまま下落</text><text x="1071.0" y="17.0" fill="#f01c24" font-size="13.1px">7月タイプ？</text><text x="1061.5" y="202.5" fill="#f01c24" font-size="13.1px">10月タイプ？</text><text x="1159.0" y="72.0" fill="#f01c24" font-size="13.1px">雲上限を抜けてくるまでは7月</text><text x="1159.0" y="98.0" fill="#f01c24" font-size="13.1px">タイプか10月タイプか判断付き</text><text x="1159.0" y="124.0" fill="#f01c24" font-size="13.1px">かねるので、雲上ぬけに失敗し</text><text x="1159.0" y="150.0" fill="#f01c24" font-size="13.1px">たら買いはリカクが懸命。</text></g>
<g shape-rendering="crispEdges">
<polygon points="17.7,489.7 18.7,489.7 19.7,489.6 20.7,489.6 21.7,489.5 22.7,489.5 23.7,489.4 24.7,489.4 25.7,489.3 26.7,489.3 27.7,489.2 28.7,489.2 29.7,488.8 30.7,488.4 31.7,488.0 32.7,487.6 33.7,487.2 34.7,486.6 35.7,486.1 36.7,485.5 37.7,484.9 38.7,484.4 39.7,483.8 40.7,483.5 41.7,483.1 42.7,482.8 43.7,482.4 44.7,482.1 45.7,481.8 46.7,481.4 47.7,481.0 48.7,480.4 49.7,479.8 50.7,479.3 51.7,478.7 52.7,478.1 53.7,477.6 54.7,477.0 55.7,476.2 56.7,475.5 57.7,474.8 58.7,474.1 59.7,473.4 60.7,472.6 61.7,471.9 62.7,471.5 63.7,471.2 64.7,470.9 65.7,470.6 66.7,470.3 67.7,470.0 68.7,469.7 69.7,469.4 70.7,469.3 71.7,469.2 72.7,469.1 73.7,469.0 74.7,468.9 75.7,468.8 76.7,468.7 77.7,469.0 78.7,469.3 79.7,469.5 80.7,469.8 81.7,470.1 82.7,470.3 83.7,470.6 84.7,470.7 85.7,470.7 86.7,470.7 87.7,470.6 88.7,470.6 89.7,470.6 90.7,470.6 91.7,470.6 92.7,470.5 93.7,470.5 94.7,470.5 95.7,470.5 96.7,470.5 97.7,470.5 98.7,470.4 99.7,470.4 100.7,470.4 101.7,470.3 102.7,470.2 103.7,470.1 104.7,470.0 105.7,469.9 106.7,469.8 107.7,469.7 108.7,469.6 109.7,469.5 110.7,469.4 111.7,469.3 112.7,469.2 113.7,469.1 114.7,469.0 115.7,468.9 116.7,468.8 117.7,468.7 118.7,468.7 119.7,468.7 120.7,468.7 121.7,468.7 122.7,468.7 123.7,468.7 124.7,468.7 125.7,468.7 126.7,468.7 127.7,468.7 128.7,468.8 129.7,468.9 130.7,469.0 131.7,469.1 132.7,469.2 133.7,469.3 134.7,469.4 135.7,469.5 136.7,469.8 137.7,470.0 138.7,470.2 139.7,470.5 140.7,470.7 141.7,470.9 142.7,471.2 143.7,471.2 144.7,471.2 145.7,471.2 146.7,471.2 147.7,471.2 148.7,471.2 149.7,471.2 150.7,471.2 151.7,471.2 152.7,471.2 153.7,471.2 154.7,471.2 155.7,471.2 156.7,471.2 157.7,471.2 158.7,470.8 159.7,470.5 160.7,470.2 161.7,469.8 162.7,469.5 163.7,469.1 164.7,468.8 165.7,468.4 166.7,468.0 167.7,467.6 168.7,467.2 169.7,466.7 170.7,466.3 171.7,465.9 172.7,465.5 173.7,465.0 174.7,464.6 175.7,464.1 176.7,463.7 177.7,463.2 178.7,462.8 179.7,462.3 180.7,462.2 181.7,462.2 182.7,462.1 183.7,462.1 184.7,462.0 185.7,462.0 186.7,461.9 187.7,461.8 188.7,461.6 189.7,461.4 190.7,461.2 191.7,461.1 192.7,460.9 193.7,460.7 194.7,460.6 195.7,460.6 196.7,460.6 197.7,460.6 198.7,460.5 199.7,460.5 200.7,460.5 201.7,460.5 202.7,460.5 203.7,460.5 204.7,460.5 205.7,460.5 206.7,460.4 207.7,460.4 208.7,460.4 209.7,460.4 210.7,460.4 211.7,460.4 212.7,460.4 213.7,460.3 214.7,460.3 215.7,460.3 216.7,460.3 217.7,460.2 218.7,460.1 219.7,460.0 220.7,459.8 221.7,459.7 222.7,459.6 223.7,459.4 224.7,459.5 225.7,459.6 226.7,459.7 227.7,459.9 228.7,460.0 229.7,460.1 230.7,460.2 231.7,460.5 232.7,460.9 233.7,461.3 234.7,461.7 235.7,462.1 236.7,462.5 237.7,462.9 238.7,463.3 239.7,463.3 240.7,463.4 241.7,463.4 242.7,463.5 243.7,463.5 244.7,463.5 245.7,463.6 246.7,464.7 247.7,466.3 248.7,467.9 249.7,469.7 250.7,471.7 251.7,473.7 252.7,475.7 253.7,477.1 253.7,477.1 252.7,476.9 251.7,476.7 250.7,476.5 249.7,476.2 248.7,476.0 247.7,475.8 246.7,475.6 245.7,475.5 244.7,475.8 243.7,476.0 242.7,476.3 241.7,476.6 240.7,476.9 239.7,477.1 238.7,477.4 237.7,477.6 236.7,477.8 235.7,478.0 234.7,478.2 233.7,478.3 232.7,478.5 231.7,478.7 230.7,479.2 229.7,479.8 228.7,480.5 227.7,481.1 226.7,481.7 225.7,482.4 224.7,483.0 223.7,483.6 222.7,483.9 221.7,484.2 220.7,484.5 219.7,484.8 218.7,485.1 217.7,485.4 216.7,485.6 215.7,485.7 214.7,485.8 213.7,485.9 212.7,486.0 211.7,486.1 210.7,486.3 209.7,486.3 208.7,486.3 207.7,486.3 206.7,486.3 205.7,486.3 204.7,486.3 203.7,486.3 202.7,486.3 201.7,486.3 200.7,486.3 199.7,486.3 198.7,486.3 197.7,486.3 196.7,486.3 195.7,486.3 194.7,486.3 193.7,486.4 192.7,486.6 191.7,486.7 190.7,486.9 189.7,487.1 188.7,487.2 187.7,487.4 186.7,487.6 185.7,488.1 184.7,488.5 183.7,488.9 182.7,489.4 181.7,489.8 180.7,490.2 179.7,490.6 178.7,490.6 177.7,490.6 176.7,490.6 175.7,490.6 174.7,490.6 173.7,490.6 172.7,490.6 171.7,490.6 170.7,490.6 169.7,490.6 168.7,490.6 167.7,490.6 166.7,490.5 165.7,490.5 164.7,490.5 163.7,490.5 162.7,490.5 161.7,490.5 160.7,490.5 159.7,490.5 158.7,490.5 157.7,490.5 156.7,490.5 155.7,490.5 154.7,490.5 153.7,490.5 152.7,490.5 151.7,490.5 150.7,490.5 149.7,490.5 148.7,490.5 147.7,490.5 146.7,490.5 145.7,490.5 144.7,490.5 143.7,490.5 142.7,490.5 141.7,490.5 140.7,490.4 139.7,490.4 138.7,490.4 137.7,490.4 136.7,490.4 135.7,490.4 134.7,490.4 133.7,490.4 132.7,490.4 131.7,490.4 130.7,490.4 129.7,490.4 128.7,490.4 127.7,490.4 126.7,490.4 125.7,490.4 124.7,490.4 123.7,490.4 122.7,490.4 121.7,490.4 120.7,490.4 119.7,490.4 118.7,490.4 117.7,490.4 116.7,490.4 115.7,490.4 114.7,490.3 113.7,490.3 112.7,490.3 111.7,490.3 110.7,490.3 109.7,490.3 108.7,490.3 107.7,490.3 106.7,490.3 105.7,490.3 104.7,490.3 103.7,490.3 102.7,490.3 101.7,490.3 100.7,490.3 99.7,490.3 98.7,490.3 97.7,490.3 96.7,490.3 95.7,490.3 94.7,490.3 93.7,490.3 92.7,490.3 91.7,490.3 90.7,490.3 89.7,490.3 88.7,490.2 87.7,490.2 86.7,490.2 85.7,490.2 84.7,490.2 83.7,490.2 82.7,490.2 81.7,490.2 80.7,490.2 79.7,490.2 78.7,490.2 77.7,490.2 76.7,490.2 75.7,490.3 74.7,490.4 73.7,490.5 72.7,490.6 71.7,490.7 70.7,490.8 69.7,490.9 68.7,491.1 67.7,491.6 66.7,492.1 65.7,492.6 64.7,493.0 63.7,493.5 62.7,494.0 61.7,494.4 60.7,494.9 59.7,495.4 58.7,495.8 57.7,496.3 56.7,496.8 55.7,497.3 54.7,497.3 53.7,497.4 52.7,497.4 51.7,497.4 50.7,497.5 49.7,497.5 48.7,497.6 47.7,497.6 46.7,497.6 45.7,497.7 44.7,497.7 43.7,497.7 42.7,497.8 41.7,497.8 40.7,497.8 39.7,497.9 38.7,497.9 37.7,498.0 36.7,498.0 35.7,498.0 34.7,498.1 33.7,498.1 32.7,498.1 31.7,498.2 30.7,498.2 29.7,498.2 28.7,498.3 27.7,498.3 26.7,498.3 25.7,498.4 24.7,498.4 23.7,498.4 22.7,498.4 21.7,498.5 20.7,498.5 19.7,498.5 18.7,498.6 17.7,498.6" fill="#c0c0c0"/>
<polygon points="253.7,477.1 254.7,477.1 255.7,477.1 256.7,477.1 257.7,477.1 258.7,477.1 259.7,477.1 260.7,477.1 261.7,477.1 262.7,477.1 263.7,477.1 264.7,477.1 265.7,477.1 266.7,477.1 267.7,477.1 268.7,477.1 269.7,477.1 270.7,477.1 271.7,477.1 272.7,477.2 273.7,477.2 274.7,477.2 275.7,477.2 276.7,477.3 277.7,477.3 278.7,477.3 279.7,477.3 280.7,477.3 281.7,477.3 282.7,477.3 283.7,477.3 284.7,477.3 285.7,477.3 286.7,477.3 287.7,477.3 288.7,477.3 289.7,477.3 290.7,477.3 291.7,477.3 292.7,477.3 293.7,477.3 294.7,477.3 295.7,477.3 296.7,477.3 297.7,477.3 298.7,477.3 299.7,477.3 300.7,477.3 301.7,477.3 302.7,477.3 303.7,477.3 304.7,477.3 305.7,477.3 306.7,477.3 307.7,477.3 308.7,477.3 309.7,477.3 310.7,477.3 311.7,477.3 312.7,477.3 313.7,477.3 314.7,477.3 315.7,477.3 316.7,477.3 317.7,477.3 318.7,477.3 319.7,477.3 320.7,477.3 321.7,477.3 322.7,477.3 323.7,477.3 324.7,477.3 325.7,477.3 326.7,477.3 327.7,477.3 328.7,477.3 329.7,477.3 330.7,477.3 331.7,477.3 332.7,477.3 333.7,477.3 334.7,477.3 335.7,477.3 336.7,477.3 337.7,477.3 338.7,477.3 339.7,477.3 340.7,477.3 341.7,477.3 342.7,477.4 343.7,477.8 344.7,478.2 345.7,478.6 346.7,479.0 347.7,479.4 348.7,479.8 349.7,480.2 350.7,480.7 351.7,481.1 352.7,481.6 353.7,482.0 354.7,482.5 355.7,482.9 356.7,483.3 357.7,483.3 358.7,483.3 359.7,483.3 360.7,483.3 361.7,483.3 362.7,483.3 363.7,483.3 364.7,483.3 365.7,483.3 366.7,483.3 367.7,483.3 368.7,483.3 369.7,483.3 370.7,483.3 371.7,483.3 372.7,483.3 373.7,483.3 374.7,483.3 375.7,483.3 376.7,483.3 377.7,483.3 378.7,483.3 379.7,483.3 380.7,483.3 381.7,483.3 382.7,483.3 383.7,483.3 384.7,483.3 385.7,483.3 386.7,483.3 387.7,483.3 388.7,483.3 389.7,483.3 390.7,483.3 391.7,483.3 392.7,483.3 393.7,483.3 394.7,483.3 395.7,483.3 396.7,483.4 397.7,483.7 398.7,483.9 399.7,484.2 400.7,484.4 401.7,485.0 402.7,485.6 403.7,486.1 404.7,486.7 405.7,487.3 406.7,487.9 407.7,488.5 408.7,489.4 409.7,490.5 410.7,491.7 411.7,492.8 412.7,493.9 413.7,495.1 414.7,496.2 415.7,497.4 416.7,498.6 417.7,499.9 418.7,501.1 419.7,502.4 420.7,503.6 421.7,504.9 422.7,506.1 423.7,506.4 424.7,506.4 425.7,506.4 426.7,506.4 427.7,506.4 428.7,506.4 429.7,506.4 430.7,506.4 431.7,506.4 432.7,506.4 433.7,506.4 434.7,506.4 435.7,506.4 436.7,506.4 437.7,506.4 438.7,506.4 439.7,506.4 440.7,506.4 441.7,506.4 442.7,506.4 443.7,506.4 444.7,506.4 445.7,506.4 446.7,506.4 447.7,506.4 448.7,506.4 449.7,506.4 450.7,506.4 451.7,506.4 452.7,506.4 453.7,506.4 454.7,506.4 455.7,506.4 456.7,506.4 457.7,506.4 458.7,506.4 459.7,506.4 460.7,506.4 461.7,506.4 462.7,506.4 463.7,506.4 464.7,506.4 465.7,506.4 466.7,506.4 467.7,506.7 468.7,507.2 469.7,507.6 470.7,508.1 471.7,508.6 472.7,509.0 473.7,509.5 474.7,510.0 475.7,510.8 476.7,511.5 477.7,512.3 478.7,513.0 479.7,513.7 480.7,514.5 481.7,515.2 482.7,515.3 483.7,515.3 484.7,515.3 485.7,515.3 486.7,515.3 487.7,515.3 488.7,515.3 489.7,515.3 490.7,515.3 491.7,515.3 492.7,515.3 493.7,515.3 494.7,515.4 495.7,515.4 496.7,515.4 497.7,515.4 498.7,515.4 499.7,515.4 500.7,515.4 501.7,515.4 502.7,515.4 503.7,515.4 504.7,515.4 505.7,515.4 506.7,515.4 507.7,515.4 508.7,515.4 509.7,515.4 510.7,515.4 511.7,515.4 512.7,515.4 513.7,515.4 514.7,515.4 515.7,515.4 516.7,515.4 517.7,515.4 518.7,515.5 519.7,515.5 520.7,515.5 521.7,515.5 522.7,515.5 523.7,515.5 524.7,515.5 525.7,515.5 526.7,515.5 527.7,515.5 528.7,515.5 529.7,515.5 530.7,515.5 531.7,515.4 532.7,515.4 533.7,515.4 534.7,515.3 535.7,515.3 536.7,515.3 537.7,515.3 538.7,515.3 539.7,515.3 540.7,515.3 541.7,515.3 542.7,515.3 543.7,515.3 544.7,515.3 545.7,515.3 546.7,515.3 547.7,515.3 548.7,515.3 549.7,515.3 550.7,515.3 551.7,515.4 552.7,515.4 553.7,515.4 554.7,515.4 555.7,515.4 556.7,515.4 557.7,515.4 558.7,515.4 559.7,515.4 560.7,515.4 561.7,515.4 562.7,515.4 563.7,515.4 564.7,515.4 565.7,515.4 566.7,515.4 567.7,515.4 568.7,515.4 569.7,515.4 570.7,515.4 571.7,515.4 572.7,515.4 573.7,515.4 574.7,515.4 575.7,515.4 576.7,515.4 577.7,515.4 578.7,515.4 579.7,515.4 580.7,515.4 581.7,515.4 582.7,515.4 583.7,515.4 584.7,515.5 585.7,515.5 586.7,515.5 587.7,515.5 588.7,515.5 589.7,515.5 590.7,515.5 591.7,515.5 592.7,515.5 593.7,515.5 594.7,515.5 595.7,515.5 596.7,515.5 597.7,515.5 598.7,515.5 599.7,515.5 600.7,515.5 601.7,516.1 602.7,516.7 603.7,517.2 604.7,517.8 605.7,518.4 606.7,519.0 607.7,519.6 608.7,520.1 609.7,520.7 610.7,521.2 611.7,521.8 612.7,522.4 613.7,522.9 614.7,523.2 615.7,523.2 616.7,523.2 617.7,523.2 618.7,523.2 619.7,523.2 620.7,523.2 621.7,523.2 622.7,523.2 623.7,523.2 624.7,523.2 625.7,523.2 626.7,523.2 627.7,523.2 628.7,523.2 629.7,523.2 630.7,523.2 631.7,523.2 632.7,523.2 633.7,523.2 634.7,523.2 635.7,523.2 636.7,523.2 637.7,523.2 638.7,523.2 639.7,523.2 640.7,523.2 641.7,523.2 642.7,523.2 643.7,523.2 644.7,523.2 645.7,523.2 646.7,523.2 647.7,523.2 648.7,523.2 649.7,523.2 650.7,523.2 651.7,523.2 652.7,523.2 653.7,523.2 654.7,523.2 655.7,523.2 656.7,523.2 657.7,523.2 658.7,523.2 659.7,523.2 660.7,523.2 661.7,523.2 662.7,523.2 663.7,523.2 664.7,523.2 665.7,523.2 666.7,523.6 667.7,524.1 668.7,524.6 669.7,525.1 670.7,525.6 671.7,526.1 672.7,526.6 673.7,526.9 674.7,527.0 675.7,527.0 676.7,527.0 677.7,527.1 678.7,527.1 679.7,527.2 680.7,527.2 681.7,527.3 682.7,527.5 683.7,528.1 684.7,528.7 685.7,529.3 686.7,529.9 687.7,531.7 688.7,536.4 689.7,541.2 690.7,545.7 691.7,550.3 692.7,554.5 693.7,557.3 694.7,560.1 695.7,562.5 696.7,563.4 697.7,564.3 698.7,565.2 699.7,566.1 700.7,567.0 701.7,567.9 702.7,568.8 703.7,569.2 704.7,569.4 705.7,569.7 706.7,569.9 707.7,570.1 708.7,570.4 709.7,570.6 710.7,571.6 711.7,573.1 712.7,574.5 713.7,576.0 714.7,577.5 715.7,578.9 716.7,580.4 717.7,581.7 718.7,582.3 719.7,583.0 720.7,583.6 721.7,584.2 722.7,584.8 723.7,585.5 724.7,586.1 725.7,586.2 726.7,586.2 727.7,586.2 728.7,586.2 729.7,586.2 730.7,586.2 731.7,586.2 732.7,586.2 733.7,586.2 734.7,586.2 735.7,586.2 736.7,586.2 737.7,586.2 738.7,586.2 739.7,586.2 740.7,586.2 741.7,586.2 742.7,586.2 743.7,586.2 744.7,586.2 745.7,586.2 746.7,586.2 747.7,586.2 748.7,586.2 749.7,586.2 750.7,586.2 751.7,586.2 752.7,586.2 753.7,586.2 754.7,586.2 755.7,586.7 756.7,587.3 757.7,587.8 758.7,588.4 759.7,588.9 760.7,589.5 761.7,590.0 762.7,590.2 763.7,590.2 764.7,590.3 765.7,590.4 766.7,590.4 767.7,590.5 768.7,590.6 769.7,591.2 770.7,592.1 771.7,593.1 772.7,594.0 773.7,595.0 774.7,595.9 775.7,596.8 776.7,597.7 777.7,598.0 778.7,598.4 779.7,598.7 780.7,599.1 781.7,599.4 782.7,599.8 783.7,600.1 784.7,600.3 785.7,600.5 786.7,600.6 787.7,600.8 788.7,600.9 789.7,601.1 790.7,601.2 791.7,601.3 792.7,601.3 793.7,601.3 794.7,601.3 795.7,601.4 796.7,601.4 797.7,601.4 798.7,601.4 799.7,601.4 800.7,601.4 801.7,601.4 802.7,601.4 803.7,601.4 804.7,601.4 805.7,601.4 806.7,601.4 807.7,601.4 808.7,601.4 809.7,601.4 810.7,601.4 811.7,601.4 812.7,601.4 813.7,601.4 814.7,601.4 815.7,601.4 816.7,601.4 817.7,601.4 818.7,601.4 819.7,601.4 820.7,601.4 821.7,601.4 822.7,601.4 823.7,601.4 824.7,601.4 825.7,601.4 826.7,601.4 827.7,601.4 828.7,601.4 829.7,601.4 830.7,601.4 831.7,601.4 832.7,601.4 833.7,601.4 834.7,601.4 835.7,601.4 836.7,601.4 837.7,601.4 838.7,601.4 839.7,601.4 840.7,601.4 841.7,601.4 842.7,601.4 843.7,601.4 844.7,601.4 845.7,601.4 846.7,601.4 847.7,601.4 848.7,601.4 849.7,601.4 850.7,601.4 851.7,601.4 852.7,601.4 853.7,601.4 854.7,601.4 855.7,601.4 856.7,601.4 857.7,601.4 858.7,601.4 859.7,601.4 860.7,601.4 861.7,601.4 862.7,601.4 863.7,601.4 864.7,601.4 865.7,601.4 866.7,601.4 867.7,601.4 868.7,601.4 869.7,601.4 870.7,601.4 871.7,601.4 872.7,601.4 873.7,601.4 874.7,601.4 875.7,601.4 876.7,601.4 877.7,601.4 878.7,601.4 879.7,601.4 880.7,601.4 881.7,601.4 882.7,601.4 883.7,601.4 884.7,601.4 885.7,601.4 886.7,601.4 887.7,601.4 888.7,601.4 889.7,601.4 890.7,601.4 891.7,601.4 892.7,601.4 893.7,601.4 894.7,601.4 895.7,601.4 896.7,601.4 897.7,601.4 898.7,601.4 899.7,601.4 900.7,601.4 901.7,601.4 902.7,601.4 903.7,601.4 904.7,601.4 905.7,601.4 906.7,601.4 907.7,601.4 908.7,601.4 909.7,601.4 910.7,601.4 911.7,601.4 912.7,601.4 913.7,601.4 914.7,601.4 915.7,601.4 916.7,601.4 917.7,601.4 918.7,601.4 919.7,601.4 920.7,601.4 921.7,601.4 922.7,601.4 923.7,601.4 924.7,601.4 925.7,601.4 926.7,601.4 927.7,601.4 928.7,601.4 929.7,601.4 930.7,601.4 931.7,601.4 932.7,601.4 933.7,601.4 934.7,601.4 935.7,601.4 936.7,601.4 937.7,601.4 938.7,601.4 939.7,601.4 940.7,601.4 941.7,601.4 942.7,601.7 943.7,601.9 944.7,602.1 945.7,602.3 946.7,602.6 947.7,602.8 948.7,603.0 949.7,603.2 950.7,603.4 951.7,603.7 952.7,603.9 953.7,604.3 954.7,604.8 955.7,605.4 956.7,606.0 957.7,606.5 958.7,607.1 959.7,607.6 960.7,608.2 961.7,608.3 962.7,608.4 963.7,608.5 964.7,608.6 965.7,608.7 966.7,608.8 967.7,609.0 968.7,609.1 969.7,609.2 970.7,609.3 971.7,609.4 972.7,609.5 973.7,609.6 974.7,609.7 975.7,609.8 976.7,609.9 977.7,610.0 978.7,610.1 979.7,610.2 980.7,610.3 981.7,610.5 982.7,610.6 983.7,610.7 984.7,610.8 985.7,610.9 986.7,611.0 987.7,611.1 988.7,611.2 989.7,611.3 990.7,611.4 991.7,611.6 992.7,611.8 993.7,612.0 994.7,612.2 995.7,612.4 996.7,612.6 997.7,612.8 998.7,612.9 999.7,613.1 1000.7,613.2 1001.7,613.4 1002.7,613.5 1003.7,613.6 1004.7,613.8 1005.7,613.9 1006.7,614.0 1007.7,614.0 1008.7,614.1 1009.7,614.2 1010.7,614.3 1011.7,614.4 1012.7,614.5 1013.7,614.7 1014.7,614.9 1015.7,615.0 1016.7,615.2 1017.7,615.4 1018.7,615.6 1019.7,615.8 1020.7,616.0 1021.7,616.2 1022.7,616.3 1023.7,616.5 1024.7,616.7 1025.7,616.9 1026.7,617.0 1027.7,617.2 1028.7,617.4 1029.7,617.6 1030.7,617.8 1031.7,617.9 1032.7,618.1 1033.7,618.3 1034.7,618.5 1035.7,618.9 1036.7,619.3 1037.7,619.6 1038.7,620.0 1039.7,620.4 1040.7,620.7 1041.7,621.1 1042.7,621.8 1043.7,622.6 1044.7,623.3 1045.7,624.0 1046.7,624.7 1047.7,625.3 1048.7,625.9 1049.7,626.5 1050.7,626.8 1051.7,626.6 1051.7,626.8 1050.7,627.1 1049.7,627.5 1048.7,628.0 1047.7,628.4 1046.7,628.9 1045.7,629.3 1044.7,629.8 1043.7,630.3 1042.7,630.4 1041.7,630.5 1040.7,630.7 1039.7,630.8 1038.7,630.9 1037.7,631.0 1036.7,631.2 1035.7,631.3 1034.7,631.4 1033.7,631.5 1032.7,631.6 1031.7,631.8 1030.7,631.9 1029.7,632.0 1028.7,632.1 1027.7,632.2 1026.7,632.2 1025.7,632.2 1024.7,632.3 1023.7,632.3 1022.7,632.4 1021.7,632.4 1020.7,632.4 1019.7,632.5 1018.7,632.5 1017.7,632.6 1016.7,632.7 1015.7,632.9 1014.7,633.1 1013.7,633.3 1012.7,633.5 1011.7,633.6 1010.7,633.8 1009.7,634.0 1008.7,634.2 1007.7,634.4 1006.7,634.6 1005.7,634.8 1004.7,635.0 1003.7,635.2 1002.7,635.4 1001.7,635.7 1000.7,635.9 999.7,636.1 998.7,636.3 997.7,636.3 996.7,636.4 995.7,636.4 994.7,636.4 993.7,636.5 992.7,636.5 991.7,636.5 990.7,636.6 989.7,636.6 988.7,636.6 987.7,636.7 986.7,636.7 985.7,636.8 984.7,636.8 983.7,636.8 982.7,636.9 981.7,636.9 980.7,636.9 979.7,637.0 978.7,637.0 977.7,637.1 976.7,637.3 975.7,637.5 974.7,637.6 973.7,637.8 972.7,638.0 971.7,638.1 970.7,638.3 969.7,638.5 968.7,638.6 967.7,638.8 966.7,639.0 965.7,639.1 964.7,639.3 963.7,639.5 962.7,639.5 961.7,639.5 960.7,639.6 959.7,639.6 958.7,639.6 957.7,639.6 956.7,639.6 955.7,639.7 954.7,639.7 953.7,639.7 952.7,639.9 951.7,640.3 950.7,640.7 949.7,641.2 948.7,641.6 947.7,642.0 946.7,642.4 945.7,643.0 944.7,643.8 943.7,644.7 942.7,645.6 941.7,646.4 940.7,647.3 939.7,648.1 938.7,649.0 937.7,649.3 936.7,649.5 935.7,649.7 934.7,649.9 933.7,650.1 932.7,650.3 931.7,650.5 930.7,650.6 929.7,650.8 928.7,651.0 927.7,651.2 926.7,651.4 925.7,651.6 924.7,651.8 923.7,652.0 922.7,652.4 921.7,652.8 920.7,653.2 919.7,653.6 918.7,653.9 917.7,654.3 916.7,654.7 915.7,655.1 914.7,655.5 913.7,655.9 912.7,656.2 911.7,656.2 910.7,656.2 909.7,656.2 908.7,656.2 907.7,656.2 906.7,656.2 905.7,656.2 904.7,656.2 903.7,656.2 902.7,656.2 901.7,656.2 900.7,656.2 899.7,656.2 898.7,656.2 897.7,656.2 896.7,656.2 895.7,656.2 894.7,656.2 893.7,656.1 892.7,655.8 891.7,655.6 890.7,655.4 889.7,655.1 888.7,654.9 887.7,654.6 886.7,654.3 885.7,653.7 884.7,653.1 883.7,652.6 882.7,652.0 881.7,651.4 880.7,650.9 879.7,650.3 878.7,649.5 877.7,648.7 876.7,647.9 875.7,647.1 874.7,646.3 873.7,645.5 872.7,644.7 871.7,644.6 870.7,644.8 869.7,645.1 868.7,645.4 867.7,645.6 866.7,645.9 865.7,646.2 864.7,646.4 863.7,646.3 862.7,646.2 861.7,646.1 860.7,646.0 859.7,645.9 858.7,645.8 857.7,645.7 856.7,645.1 855.7,644.3 854.7,643.6 853.7,642.9 852.7,642.2 851.7,641.5 850.7,640.8 849.7,640.4 848.7,640.1 847.7,639.9 846.7,639.6 845.7,639.3 844.7,639.0 843.7,638.7 842.7,638.4 841.7,638.1 840.7,637.8 839.7,637.5 838.7,637.2 837.7,636.9 836.7,636.6 835.7,636.3 834.7,636.1 833.7,635.8 832.7,635.5 831.7,635.2 830.7,634.9 829.7,634.6 828.7,634.3 827.7,634.2 826.7,634.1 825.7,634.0 824.7,633.9 823.7,633.8 822.7,633.6 821.7,633.5 820.7,633.4 819.7,633.3 818.7,633.2 817.7,633.1 816.7,633.0 815.7,632.9 814.7,632.8 813.7,632.7 812.7,632.5 811.7,632.4 810.7,632.3 809.7,632.2 808.7,632.1 807.7,632.0 806.7,631.9 805.7,631.8 804.7,631.9 803.7,632.0 802.7,632.1 801.7,632.1 800.7,632.2 799.7,632.3 798.7,632.4 797.7,632.5 796.7,632.6 795.7,632.6 794.7,632.7 793.7,632.8 792.7,632.9 791.7,633.0 790.7,632.8 789.7,632.4 788.7,632.0 787.7,631.6 786.7,631.6 785.7,631.7 784.7,631.8 783.7,631.8 782.7,631.9 781.7,631.9 780.7,632.0 779.7,632.0 778.7,632.1 777.7,632.1 776.7,632.2 775.7,632.0 774.7,631.7 773.7,631.4 772.7,631.1 771.7,630.8 770.7,630.5 769.7,630.2 768.7,629.7 767.7,629.1 766.7,628.5 765.7,627.9 764.7,627.2 763.7,626.6 762.7,626.0 761.7,625.3 760.7,624.6 759.7,623.8 758.7,623.1 757.7,622.4 756.7,621.6 755.7,620.9 754.7,620.1 753.7,619.4 752.7,618.7 751.7,617.9 750.7,617.2 749.7,616.5 748.7,615.7 747.7,615.0 746.7,614.5 745.7,614.5 744.7,614.4 743.7,614.4 742.7,614.4 741.7,614.4 740.7,614.3 739.7,614.3 738.7,614.3 737.7,614.2 736.7,614.2 735.7,614.2 734.7,614.2 733.7,614.1 732.7,614.1 731.7,613.8 730.7,613.5 729.7,613.1 728.7,612.8 727.7,612.4 726.7,612.0 725.7,611.7 724.7,611.4 723.7,611.2 722.7,611.1 721.7,610.9 720.7,610.8 719.7,610.6 718.7,610.5 717.7,610.3 716.7,609.5 715.7,608.5 714.7,607.4 713.7,606.4 712.7,605.4 711.7,604.3 710.7,603.3 709.7,602.6 708.7,602.2 707.7,601.9 706.7,601.5 705.7,601.2 704.7,600.8 703.7,600.5 702.7,600.2 701.7,599.9 700.7,599.7 699.7,599.5 698.7,599.2 697.7,599.0 696.7,598.8 695.7,598.5 694.7,595.6 693.7,591.9 692.7,588.2 691.7,583.9 690.7,579.4 689.7,575.1 688.7,571.3 687.7,567.6 686.7,566.2 685.7,565.8 684.7,565.3 683.7,564.9 682.7,564.5 681.7,564.0 680.7,563.6 679.7,563.3 678.7,563.0 677.7,562.7 676.7,562.4 675.7,562.1 674.7,561.8 673.7,561.5 672.7,560.9 671.7,560.3 670.7,559.6 669.7,558.9 668.7,558.2 667.7,557.5 666.7,556.9 665.7,556.4 664.7,556.4 663.7,556.4 662.7,556.4 661.7,556.4 660.7,556.4 659.7,556.4 658.7,556.4 657.7,556.0 656.7,555.7 655.7,555.3 654.7,554.9 653.7,554.5 652.7,554.1 651.7,553.7 650.7,553.3 649.7,553.0 648.7,552.7 647.7,552.4 646.7,552.1 645.7,551.8 644.7,551.5 643.7,551.2 642.7,550.7 641.7,550.3 640.7,549.8 639.7,549.4 638.7,548.9 637.7,548.5 636.7,548.5 635.7,548.5 634.7,548.5 633.7,548.5 632.7,548.5 631.7,548.5 630.7,548.5 629.7,548.5 628.7,548.5 627.7,548.5 626.7,548.5 625.7,548.5 624.7,548.5 623.7,548.5 622.7,548.5 621.7,548.5 620.7,548.5 619.7,548.5 618.7,548.5 617.7,548.5 616.7,548.5 615.7,548.5 614.7,548.5 613.7,548.5 612.7,548.5 611.7,548.5 610.7,548.5 609.7,548.5 608.7,548.5 607.7,548.5 606.7,548.5 605.7,548.5 604.7,548.5 603.7,548.4 602.7,548.1 601.7,547.7 600.7,547.4 599.7,547.1 598.7,546.9 597.7,546.7 596.7,546.5 595.7,546.2 594.7,546.0 593.7,545.8 592.7,545.6 591.7,545.2 590.7,544.8 589.7,544.4 588.7,544.0 587.7,543.6 586.7,543.2 585.7,542.7 584.7,542.3 583.7,541.8 582.7,541.3 581.7,540.8 580.7,540.3 579.7,539.8 578.7,539.3 577.7,538.8 576.7,539.0 575.7,539.3 574.7,539.7 573.7,540.0 572.7,540.4 571.7,540.7 570.7,541.0 569.7,541.1 568.7,540.9 567.7,540.7 566.7,540.4 565.7,540.2 564.7,540.0 563.7,539.8 562.7,539.6 561.7,540.0 560.7,540.3 559.7,540.6 558.7,541.0 557.7,541.3 556.7,541.7 555.7,542.0 554.7,542.3 553.7,542.5 552.7,542.7 551.7,543.0 550.7,543.2 549.7,543.4 548.7,543.7 547.7,544.0 546.7,544.3 545.7,544.7 544.7,545.1 543.7,545.4 542.7,545.8 541.7,546.2 540.7,546.5 539.7,546.9 538.7,547.3 537.7,547.6 536.7,548.0 535.7,548.3 534.7,548.5 533.7,548.5 532.7,548.5 531.7,548.5 530.7,548.5 529.7,548.5 528.7,548.3 527.7,548.2 526.7,548.1 525.7,547.8 524.7,547.4 523.7,546.9 522.7,546.4 521.7,546.0 520.7,545.5 519.7,545.1 518.7,544.6 517.7,544.5 516.7,544.4 515.7,544.3 514.7,544.2 513.7,544.1 512.7,544.0 511.7,543.9 510.7,543.7 509.7,543.4 508.7,543.1 507.7,542.8 506.7,542.6 505.7,542.3 504.7,542.0 503.7,541.8 502.7,541.8 501.7,541.7 500.7,541.7 499.7,541.7 498.7,541.7 497.7,541.6 496.7,541.6 495.7,541.6 494.7,541.5 493.7,541.5 492.7,541.5 491.7,541.5 490.7,541.4 489.7,541.4 488.7,541.4 487.7,541.4 486.7,541.3 485.7,541.3 484.7,541.3 483.7,541.3 482.7,541.2 481.7,541.1 480.7,540.2 479.7,539.2 478.7,538.3 477.7,537.3 476.7,536.4 475.7,535.4 474.7,534.5 473.7,533.6 472.7,532.8 471.7,532.0 470.7,531.2 469.7,530.5 468.7,529.7 467.7,528.9 466.7,528.2 465.7,528.0 464.7,527.8 463.7,527.5 462.7,527.3 461.7,527.0 460.7,526.8 459.7,526.6 458.7,526.1 457.7,525.6 456.7,525.2 455.7,524.7 454.7,524.3 453.7,523.8 452.7,523.3 451.7,523.2 450.7,523.1 449.7,523.0 448.7,523.0 447.7,522.9 446.7,522.8 445.7,522.7 444.7,522.7 443.7,522.5 442.7,522.3 441.7,522.2 440.7,522.0 439.7,521.8 438.7,521.7 437.7,521.5 436.7,521.5 435.7,521.4 434.7,521.4 433.7,521.4 432.7,521.3 431.7,521.3 430.7,521.3 429.7,521.2 428.7,521.2 427.7,521.2 426.7,521.1 425.7,521.1 424.7,521.1 423.7,521.0 422.7,520.7 421.7,519.3 420.7,517.9 419.7,516.5 418.7,515.1 417.7,513.7 416.7,512.3 415.7,510.9 414.7,509.5 413.7,508.1 412.7,506.8 411.7,505.4 410.7,504.0 409.7,502.7 408.7,501.3 407.7,500.2 406.7,499.4 405.7,498.5 404.7,497.7 403.7,496.9 402.7,496.1 401.7,495.3 400.7,494.5 399.7,493.9 398.7,493.4 397.7,492.9 396.7,492.3 395.7,492.0 394.7,492.0 393.7,491.9 392.7,491.8 391.7,491.7 390.7,491.6 389.7,491.5 388.7,491.4 387.7,491.3 386.7,491.3 385.7,491.1 384.7,490.8 383.7,490.4 382.7,490.1 381.7,489.8 380.7,489.5 379.7,489.1 378.7,488.8 377.7,488.5 376.7,488.2 375.7,487.8 374.7,487.5 373.7,487.4 372.7,487.4 371.7,487.4 370.7,487.4 369.7,487.4 368.7,487.4 367.7,487.4 366.7,487.4 365.7,487.4 364.7,487.4 363.7,487.4 362.7,487.4 361.7,487.4 360.7,487.4 359.7,487.4 358.7,487.4 357.7,487.4 356.7,487.4 355.7,487.0 354.7,486.5 353.7,486.1 352.7,485.6 351.7,485.1 350.7,484.7 349.7,484.2 348.7,483.8 347.7,483.3 346.7,482.9 345.7,482.4 344.7,481.9 343.7,481.5 342.7,481.0 341.7,480.6 340.7,480.3 339.7,480.1 338.7,479.8 337.7,479.6 336.7,479.5 335.7,479.5 334.7,479.5 333.7,479.5 332.7,479.5 331.7,479.5 330.7,479.5 329.7,479.5 328.7,479.5 327.7,479.5 326.7,479.5 325.7,479.5 324.7,479.5 323.7,479.5 322.7,479.5 321.7,479.5 320.7,479.5 319.7,479.5 318.7,479.8 317.7,480.0 316.7,480.3 315.7,480.5 314.7,480.8 313.7,481.1 312.7,481.3 311.7,481.6 310.7,481.8 309.7,482.1 308.7,482.4 307.7,482.6 306.7,482.9 305.7,483.1 304.7,483.3 303.7,483.3 302.7,483.3 301.7,483.3 300.7,483.3 299.7,483.3 298.7,483.3 297.7,483.3 296.7,482.9 295.7,482.5 294.7,482.1 293.7,481.7 292.7,481.3 291.7,480.9 290.7,480.5 289.7,480.2 288.7,480.0 287.7,479.7 286.7,479.5 285.7,479.3 284.7,479.1 283.7,478.9 282.7,478.7 281.7,478.5 280.7,478.3 279.7,478.1 278.7,477.8 277.7,477.8 276.7,477.7 275.7,477.7 274.7,477.7 273.7,477.7 272.7,477.6 271.7,477.6 270.7,477.6 269.7,477.6 268.7,477.5 267.7,477.5 266.7,477.5 265.7,477.4 264.7,477.4 263.7,477.4 262.7,477.4 261.7,477.3 260.7,477.3 259.7,477.3 258.7,477.2 257.7,477.2 256.7,477.2 255.7,477.2 254.7,477.1 253.7,477.1" fill="#808080"/>
<polygon points="1051.7,626.6 1052.7,626.2 1053.7,625.8 1054.7,625.3 1055.7,624.9 1056.7,624.3 1057.7,623.8 1058.7,623.2 1059.7,622.6 1060.7,622.1 1061.7,621.7 1062.7,621.3 1063.7,621.0 1064.7,620.6 1065.7,620.3 1066.7,619.9 1067.7,619.7 1068.7,619.8 1069.7,619.8 1070.7,619.9 1071.7,620.0 1072.7,620.0 1073.7,620.1 1074.7,620.1 1075.7,620.1 1076.7,620.1 1077.7,620.1 1078.7,620.1 1079.7,620.1 1080.7,620.1 1081.7,620.1 1082.7,620.1 1083.7,620.1 1084.7,620.1 1085.7,620.1 1086.7,620.1 1087.7,620.1 1088.7,620.1 1089.7,620.1 1090.7,620.1 1091.7,620.1 1092.7,620.1 1093.7,620.1 1094.7,619.8 1095.7,619.3 1096.7,618.8 1097.7,618.3 1098.7,617.8 1099.7,617.5 1100.7,617.5 1101.7,617.5 1102.7,617.5 1103.7,617.7 1104.7,618.0 1105.7,618.3 1106.7,618.4 1107.7,618.4 1108.7,618.4 1109.7,618.4 1110.7,618.4 1111.7,618.4 1112.7,618.4 1113.7,618.4 1114.7,618.4 1115.7,618.4 1116.7,618.4 1117.7,618.4 1118.7,618.6 1119.7,618.9 1120.7,619.1 1121.7,619.4 1122.7,619.6 1123.7,620.0 1124.7,620.5 1125.7,621.0 1126.7,621.5 1127.7,622.0 1128.7,622.4 1129.7,622.4 1130.7,622.4 1131.7,622.4 1132.7,622.4 1133.7,622.4 1134.7,622.4 1135.7,622.4 1136.7,622.4 1137.7,622.4 1138.7,622.4 1139.7,622.4 1140.7,622.4 1141.7,622.4 1142.7,622.4 1143.7,622.4 1144.7,622.4 1145.7,622.4 1146.7,622.4 1147.7,622.4 1148.7,622.4 1149.7,622.4 1150.7,622.4 1151.6,622.4 1151.6,641.4 1150.7,641.4 1149.7,641.4 1148.7,641.4 1147.7,641.4 1146.7,641.4 1145.7,641.4 1144.7,641.4 1143.7,641.4 1142.7,641.4 1141.7,641.4 1140.7,641.4 1139.7,641.4 1138.7,641.4 1137.7,641.4 1136.7,641.4 1135.7,641.4 1134.7,641.4 1133.7,641.4 1132.7,641.4 1131.7,641.4 1130.7,641.4 1129.7,641.4 1128.7,641.4 1127.7,641.4 1126.7,641.4 1125.7,641.4 1124.7,641.4 1123.7,641.4 1122.7,641.4 1121.7,641.4 1120.7,641.4 1119.7,641.4 1118.7,641.4 1117.7,641.4 1116.7,641.4 1115.7,641.4 1114.7,641.4 1113.7,641.4 1112.7,641.4 1111.7,641.4 1110.7,641.4 1109.7,641.4 1108.7,641.4 1107.7,641.4 1106.7,641.4 1105.7,641.4 1104.7,641.4 1103.7,641.4 1102.7,641.4 1101.7,641.4 1100.7,641.4 1099.7,641.4 1098.7,641.4 1097.7,641.4 1096.7,641.4 1095.7,641.4 1094.7,641.4 1093.7,641.4 1092.7,641.4 1091.7,641.4 1090.7,641.4 1089.7,641.4 1088.7,641.4 1087.7,641.4 1086.7,641.4 1085.7,641.4 1084.7,641.4 1083.7,641.4 1082.7,641.4 1081.7,641.4 1080.7,641.4 1079.7,641.4 1078.7,641.4 1077.7,641.4 1076.7,641.4 1075.7,641.4 1074.7,641.4 1073.7,641.4 1072.7,641.4 1071.7,641.4 1070.7,641.4 1069.7,639.2 1068.7,637.0 1067.7,634.8 1066.7,632.6 1065.7,630.4 1064.7,628.4 1063.7,628.0 1062.7,627.6 1061.7,627.2 1060.7,626.8 1059.7,626.8 1058.7,626.8 1057.7,626.8 1056.7,626.8 1055.7,626.8 1054.7,626.8 1053.7,626.8 1052.7,626.8 1051.7,626.8" fill="#c0c0c0"/>
<g stroke="#cccccc" stroke-width="1"><line x1="109.5" y1="413" x2="109.5" y2="761"/><line x1="205.5" y1="413" x2="205.5" y2="761"/><line x1="301.5" y1="413" x2="301.5" y2="761"/><line x1="397.5" y1="413" x2="397.5" y2="761"/><line x1="492.5" y1="413" x2="492.5" y2="761"/><line x1="595.5" y1="413" x2="595.5" y2="761"/><line x1="684.5" y1="413" x2="684.5" y2="761"/><line x1="780.5" y1="413" x2="780.5" y2="761"/><line x1="875.5" y1="413" x2="875.5" y2="761"/><line x1="978.5" y1="413" x2="978.5" y2="761"/><line x1="14" y1="453.5" x2="1163" y2="453.5"/><line x1="14" y1="494.5" x2="1163" y2="494.5"/><line x1="14" y1="536.5" x2="1163" y2="536.5"/><line x1="14" y1="577.5" x2="1163" y2="577.5"/><line x1="14" y1="619.5" x2="1163" y2="619.5"/><line x1="14" y1="661.5" x2="1163" y2="661.5"/><line x1="14" y1="699.5" x2="1163" y2="699.5"/><line x1="14" y1="730.5" x2="1163" y2="730.5"/></g>
<line x1="1096.5" y1="413" x2="1096.5" y2="762" stroke="#9999ee" stroke-width="1"/>
<line x1="1045.5" y1="413" x2="1045.5" y2="761" stroke="#33cc00" stroke-width="1"/>
<g stroke="#0000cc" stroke-width="1" fill="#99ccff"><rect x="14.5" y="740.5" width="7.0" height="20.0"/><rect x="21.5" y="735.5" width="7.0" height="25.0"/><rect x="28.5" y="740.5" width="8.0" height="20.0"/><rect x="36.5" y="726.5" width="7.0" height="34.0"/><rect x="43.5" y="716.5" width="7.0" height="44.0"/><rect x="50.5" y="720.5" width="8.0" height="40.0"/><rect x="58.5" y="706.5" width="7.0" height="54.0"/><rect x="65.5" y="716.5" width="7.0" height="44.0"/><rect x="72.5" y="730.5" width="8.0" height="30.0"/><rect x="80.5" y="725.5" width="7.0" height="35.0"/><rect x="87.5" y="723.5" width="8.0" height="37.0"/><rect x="95.5" y="737.5" width="7.0" height="23.0"/><rect x="102.5" y="739.5" width="7.0" height="21.0"/><rect x="109.5" y="735.5" width="8.0" height="25.0"/><rect x="117.5" y="739.5" width="7.0" height="21.0"/><rect x="124.5" y="723.5" width="7.0" height="37.0"/><rect x="131.5" y="728.5" width="8.0" height="32.0"/><rect x="139.5" y="732.5" width="7.0" height="28.0"/><rect x="146.5" y="724.5" width="7.0" height="36.0"/><rect x="153.5" y="718.5" width="8.0" height="42.0"/><rect x="161.5" y="720.5" width="7.0" height="40.0"/><rect x="168.5" y="722.5" width="8.0" height="38.0"/><rect x="176.5" y="726.5" width="7.0" height="34.0"/><rect x="183.5" y="730.5" width="7.0" height="30.0"/><rect x="190.5" y="731.5" width="8.0" height="29.0"/><rect x="198.5" y="750.5" width="7.0" height="10.0"/><rect x="205.5" y="756.5" width="7.0" height="4.0"/><rect x="212.5" y="728.5" width="8.0" height="32.0"/><rect x="220.5" y="721.5" width="7.0" height="39.0"/><rect x="227.5" y="705.5" width="8.0" height="55.0"/><rect x="235.5" y="720.5" width="7.0" height="40.0"/><rect x="242.5" y="723.5" width="7.0" height="37.0"/><rect x="249.5" y="735.5" width="8.0" height="25.0"/><rect x="257.5" y="724.5" width="7.0" height="36.0"/><rect x="264.5" y="730.5" width="7.0" height="30.0"/><rect x="271.5" y="726.5" width="8.0" height="34.0"/><rect x="279.5" y="725.5" width="7.0" height="35.0"/><rect x="286.5" y="723.5" width="7.0" height="37.0"/><rect x="293.5" y="729.5" width="8.0" height="31.0"/><rect x="301.5" y="727.5" width="7.0" height="33.0"/><rect x="308.5" y="728.5" width="8.0" height="32.0"/><rect x="316.5" y="733.5" width="7.0" height="27.0"/><rect x="323.5" y="731.5" width="7.0" height="29.0"/><rect x="330.5" y="738.5" width="8.0" height="22.0"/><rect x="338.5" y="744.5" width="7.0" height="16.0"/><rect x="345.5" y="726.5" width="7.0" height="34.0"/><rect x="352.5" y="727.5" width="8.0" height="33.0"/><rect x="360.5" y="725.5" width="7.0" height="35.0"/><rect x="367.5" y="727.5" width="7.0" height="33.0"/><rect x="374.5" y="730.5" width="8.0" height="30.0"/><rect x="382.5" y="732.5" width="7.0" height="28.0"/><rect x="389.5" y="734.5" width="8.0" height="26.0"/><rect x="397.5" y="727.5" width="7.0" height="33.0"/><rect x="404.5" y="721.5" width="7.0" height="39.0"/><rect x="411.5" y="726.5" width="8.0" height="34.0"/><rect x="419.5" y="735.5" width="7.0" height="25.0"/><rect x="426.5" y="731.5" width="7.0" height="29.0"/><rect x="433.5" y="728.5" width="8.0" height="32.0"/><rect x="441.5" y="730.5" width="7.0" height="30.0"/><rect x="448.5" y="734.5" width="8.0" height="26.0"/><rect x="456.5" y="739.5" width="7.0" height="21.0"/><rect x="463.5" y="729.5" width="7.0" height="31.0"/><rect x="470.5" y="727.5" width="8.0" height="33.0"/><rect x="478.5" y="725.5" width="7.0" height="35.0"/><rect x="485.5" y="733.5" width="7.0" height="27.0"/><rect x="492.5" y="720.5" width="8.0" height="40.0"/><rect x="500.5" y="693.5" width="7.0" height="67.0"/><rect x="507.5" y="717.5" width="7.0" height="43.0"/><rect x="514.5" y="707.5" width="8.0" height="53.0"/><rect x="522.5" y="691.5" width="7.0" height="69.0"/><rect x="529.5" y="723.5" width="8.0" height="37.0"/><rect x="537.5" y="723.5" width="7.0" height="37.0"/><rect x="544.5" y="725.5" width="7.0" height="35.0"/><rect x="551.5" y="738.5" width="8.0" height="22.0"/><rect x="559.5" y="732.5" width="7.0" height="28.0"/><rect x="566.5" y="728.5" width="7.0" height="32.0"/><rect x="573.5" y="734.5" width="8.0" height="26.0"/><rect x="581.5" y="752.5" width="7.0" height="8.0"/><rect x="588.5" y="757.5" width="7.0" height="3.0"/><rect x="595.5" y="739.5" width="8.0" height="21.0"/><rect x="603.5" y="738.5" width="7.0" height="22.0"/><rect x="610.5" y="736.5" width="8.0" height="24.0"/><rect x="618.5" y="733.5" width="7.0" height="27.0"/><rect x="625.5" y="733.5" width="7.0" height="27.0"/><rect x="632.5" y="738.5" width="8.0" height="22.0"/><rect x="640.5" y="741.5" width="7.0" height="19.0"/><rect x="647.5" y="734.5" width="7.0" height="26.0"/><rect x="654.5" y="733.5" width="8.0" height="27.0"/><rect x="662.5" y="737.5" width="7.0" height="23.0"/><rect x="669.5" y="741.5" width="8.0" height="19.0"/><rect x="677.5" y="731.5" width="7.0" height="29.0"/><rect x="684.5" y="727.5" width="7.0" height="33.0"/><rect x="691.5" y="734.5" width="8.0" height="26.0"/><rect x="699.5" y="734.5" width="7.0" height="26.0"/><rect x="706.5" y="737.5" width="7.0" height="23.0"/><rect x="713.5" y="741.5" width="8.0" height="19.0"/><rect x="721.5" y="752.5" width="7.0" height="8.0"/><rect x="728.5" y="740.5" width="7.0" height="20.0"/><rect x="735.5" y="739.5" width="8.0" height="21.0"/><rect x="743.5" y="739.5" width="7.0" height="21.0"/><rect x="750.5" y="741.5" width="8.0" height="19.0"/><rect x="758.5" y="742.5" width="7.0" height="18.0"/><rect x="765.5" y="740.5" width="7.0" height="20.0"/><rect x="772.5" y="738.5" width="8.0" height="22.0"/><rect x="780.5" y="736.5" width="7.0" height="24.0"/><rect x="787.5" y="740.5" width="7.0" height="20.0"/><rect x="794.5" y="737.5" width="8.0" height="23.0"/><rect x="802.5" y="743.5" width="7.0" height="17.0"/><rect x="809.5" y="736.5" width="8.0" height="24.0"/><rect x="817.5" y="737.5" width="7.0" height="23.0"/><rect x="824.5" y="740.5" width="7.0" height="20.0"/><rect x="831.5" y="731.5" width="8.0" height="29.0"/><rect x="839.5" y="735.5" width="7.0" height="25.0"/><rect x="846.5" y="732.5" width="7.0" height="28.0"/><rect x="853.5" y="742.5" width="8.0" height="18.0"/><rect x="861.5" y="736.5" width="7.0" height="24.0"/><rect x="868.5" y="750.5" width="7.0" height="10.0"/><rect x="875.5" y="739.5" width="8.0" height="21.0"/><rect x="883.5" y="738.5" width="7.0" height="22.0"/><rect x="890.5" y="744.5" width="8.0" height="16.0"/><rect x="898.5" y="743.5" width="7.0" height="17.0"/><rect x="905.5" y="739.5" width="7.0" height="21.0"/><rect x="912.5" y="745.5" width="8.0" height="15.0"/><rect x="920.5" y="740.5" width="7.0" height="20.0"/><rect x="927.5" y="736.5" width="7.0" height="24.0"/><rect x="934.5" y="740.5" width="8.0" height="20.0"/><rect x="942.5" y="725.5" width="7.0" height="35.0"/><rect x="949.5" y="738.5" width="7.0" height="22.0"/><rect x="956.5" y="742.5" width="8.0" height="18.0"/><rect x="964.5" y="751.5" width="7.0" height="9.0"/><rect x="971.5" y="751.5" width="8.0" height="9.0"/><rect x="979.5" y="738.5" width="7.0" height="22.0"/><rect x="986.5" y="739.5" width="7.0" height="21.0"/><rect x="993.5" y="731.5" width="8.0" height="29.0"/><rect x="1001.5" y="732.5" width="7.0" height="28.0"/><rect x="1008.5" y="736.5" width="7.0" height="24.0"/><rect x="1015.5" y="743.5" width="8.0" height="17.0"/><rect x="1023.5" y="743.5" width="7.0" height="17.0"/><rect x="1030.5" y="736.5" width="8.0" height="24.0"/><rect x="1038.5" y="739.5" width="7.0" height="21.0"/><rect x="1045.5" y="757.5" width="7.0" height="3.0"/><rect x="1052.5" y="756.5" width="8.0" height="4.0"/><rect x="1060.5" y="756.5" width="7.0" height="4.0"/><rect x="1067.5" y="756.5" width="7.0" height="4.0"/><rect x="1074.5" y="756.5" width="8.0" height="4.0"/></g>
<g stroke="#0000cc" stroke-width="1" fill="none"><rect x="17" y="446" width="1" height="6" fill="#0000cc" stroke="none"/><rect x="14" y="450" width="8" height="1" fill="#0000cc" stroke="none"/><rect x="24" y="447" width="1" height="7" fill="#0000cc" stroke="none"/><rect x="21" y="447" width="8" height="2" fill="#0000cc" stroke="none"/><rect x="31" y="447" width="1" height="7" fill="#0000cc" stroke="none"/><rect x="28" y="447" width="8" height="2" fill="#0000cc" stroke="none"/><rect x="39" y="452" width="1" height="19" fill="#0000cc" stroke="none"/><rect x="36" y="453" width="8" height="16" fill="#0000cc" stroke="none"/><rect x="46" y="467" width="1" height="13" fill="#0000cc" stroke="none"/><rect x="43" y="472" width="8" height="1" fill="#0000cc" stroke="none"/><rect x="53" y="468" width="1" height="13" fill="#0000cc" stroke="none"/><rect x="50" y="479" width="8" height="1" fill="#0000cc" stroke="none"/><rect x="61" y="474" width="1" height="37" fill="#0000cc" stroke="none"/><rect x="58" y="477" width="8" height="32" fill="#0000cc" stroke="none"/><rect x="68" y="487" width="1" height="14" fill="#0000cc" stroke="none"/><rect x="65.5" y="490.5" width="7" height="9" fill="#fff"/><rect x="75" y="483" width="1" height="16" fill="#0000cc" stroke="none"/><rect x="72.5" y="483.5" width="7" height="2" fill="#fff"/><rect x="83" y="482" width="1" height="17" fill="#0000cc" stroke="none"/><rect x="80" y="484" width="8" height="8" fill="#0000cc" stroke="none"/><rect x="90" y="492" width="1" height="12" fill="#0000cc" stroke="none"/><rect x="87.5" y="493.5" width="7" height="7" fill="#fff"/><rect x="98" y="485" width="1" height="16" fill="#0000cc" stroke="none"/><rect x="95.5" y="490.5" width="7" height="5" fill="#fff"/><rect x="105" y="474" width="1" height="16" fill="#0000cc" stroke="none"/><rect x="102.5" y="478.5" width="7" height="9" fill="#fff"/><rect x="112" y="468" width="1" height="12" fill="#0000cc" stroke="none"/><rect x="109.5" y="471.5" width="7" height="5" fill="#fff"/><rect x="120" y="463" width="1" height="7" fill="#0000cc" stroke="none"/><rect x="117.5" y="467.5" width="7" height="2" fill="#fff"/><rect x="127" y="464" width="1" height="16" fill="#0000cc" stroke="none"/><rect x="124" y="465" width="8" height="12" fill="#0000cc" stroke="none"/><rect x="134" y="483" width="1" height="7" fill="#0000cc" stroke="none"/><rect x="131.5" y="484.5" width="7" height="5" fill="#fff"/><rect x="142" y="476" width="1" height="9" fill="#0000cc" stroke="none"/><rect x="139.5" y="481.5" width="7" height="3" fill="#fff"/><rect x="149" y="484" width="1" height="21" fill="#0000cc" stroke="none"/><rect x="146" y="485" width="8" height="19" fill="#0000cc" stroke="none"/><rect x="156" y="503" width="1" height="14" fill="#0000cc" stroke="none"/><rect x="153" y="511" width="8" height="1" fill="#0000cc" stroke="none"/><rect x="164" y="509" width="1" height="14" fill="#0000cc" stroke="none"/><rect x="161" y="511" width="8" height="9" fill="#0000cc" stroke="none"/><rect x="171" y="499" width="1" height="21" fill="#0000cc" stroke="none"/><rect x="168.5" y="500.5" width="7" height="16" fill="#fff"/><rect x="179" y="492" width="1" height="17" fill="#0000cc" stroke="none"/><rect x="176.5" y="497.5" width="7" height="2" fill="#fff"/><rect x="186" y="493" width="1" height="14" fill="#0000cc" stroke="none"/><rect x="183" y="494" width="8" height="10" fill="#0000cc" stroke="none"/><rect x="193" y="504" width="1" height="12" fill="#0000cc" stroke="none"/><rect x="190" y="506" width="8" height="3" fill="#0000cc" stroke="none"/><rect x="201" y="500" width="1" height="11" fill="#0000cc" stroke="none"/><rect x="198" y="502" width="8" height="9" fill="#0000cc" stroke="none"/><rect x="208" y="517" width="1" height="8" fill="#0000cc" stroke="none"/><rect x="205" y="518" width="8" height="4" fill="#0000cc" stroke="none"/><rect x="215" y="521" width="1" height="14" fill="#0000cc" stroke="none"/><rect x="212" y="527" width="8" height="6" fill="#0000cc" stroke="none"/><rect x="223" y="531" width="1" height="19" fill="#0000cc" stroke="none"/><rect x="220" y="534" width="8" height="7" fill="#0000cc" stroke="none"/><rect x="230" y="544" width="1" height="24" fill="#0000cc" stroke="none"/><rect x="227" y="544" width="8" height="1" fill="#0000cc" stroke="none"/><rect x="238" y="543" width="1" height="14" fill="#0000cc" stroke="none"/><rect x="235" y="548" width="8" height="1" fill="#0000cc" stroke="none"/><rect x="245" y="538" width="1" height="20" fill="#0000cc" stroke="none"/><rect x="242" y="541" width="8" height="15" fill="#0000cc" stroke="none"/><rect x="252" y="544" width="1" height="15" fill="#0000cc" stroke="none"/><rect x="249.5" y="545.5" width="7" height="12" fill="#fff"/><rect x="260" y="539" width="1" height="13" fill="#0000cc" stroke="none"/><rect x="257" y="545" width="8" height="1" fill="#0000cc" stroke="none"/><rect x="267" y="533" width="1" height="14" fill="#0000cc" stroke="none"/><rect x="264" y="545" width="8" height="1" fill="#0000cc" stroke="none"/><rect x="274" y="549" width="1" height="14" fill="#0000cc" stroke="none"/><rect x="271" y="553" width="8" height="9" fill="#0000cc" stroke="none"/><rect x="282" y="554" width="1" height="23" fill="#0000cc" stroke="none"/><rect x="279" y="563" width="8" height="10" fill="#0000cc" stroke="none"/><rect x="289" y="569" width="1" height="18" fill="#0000cc" stroke="none"/><rect x="286.5" y="569.5" width="7" height="9" fill="#fff"/><rect x="296" y="559" width="1" height="12" fill="#0000cc" stroke="none"/><rect x="293.5" y="560.5" width="7" height="9" fill="#fff"/><rect x="304" y="548" width="1" height="21" fill="#0000cc" stroke="none"/><rect x="301.5" y="551.5" width="7" height="10" fill="#fff"/><rect x="311" y="546" width="1" height="13" fill="#0000cc" stroke="none"/><rect x="308.5" y="550.5" width="7" height="2" fill="#fff"/><rect x="319" y="546" width="1" height="15" fill="#0000cc" stroke="none"/><rect x="316.5" y="547.5" width="7" height="11" fill="#fff"/><rect x="326" y="538" width="1" height="10" fill="#0000cc" stroke="none"/><rect x="323.5" y="540.5" width="7" height="2" fill="#fff"/><rect x="333" y="534" width="1" height="9" fill="#0000cc" stroke="none"/><rect x="330.5" y="536.5" width="7" height="2" fill="#fff"/><rect x="341" y="532" width="1" height="13" fill="#0000cc" stroke="none"/><rect x="338" y="532" width="8" height="12" fill="#0000cc" stroke="none"/><rect x="348" y="527" width="1" height="20" fill="#0000cc" stroke="none"/><rect x="345.5" y="532.5" width="7" height="13" fill="#fff"/><rect x="355" y="528" width="1" height="16" fill="#0000cc" stroke="none"/><rect x="352" y="529" width="8" height="7" fill="#0000cc" stroke="none"/><rect x="363" y="528" width="1" height="15" fill="#0000cc" stroke="none"/><rect x="360.5" y="530.5" width="7" height="8" fill="#fff"/><rect x="370" y="523" width="1" height="11" fill="#0000cc" stroke="none"/><rect x="367.5" y="525.5" width="7" height="3" fill="#fff"/><rect x="377" y="529" width="1" height="11" fill="#0000cc" stroke="none"/><rect x="374" y="534" width="8" height="3" fill="#0000cc" stroke="none"/><rect x="385" y="526" width="1" height="13" fill="#0000cc" stroke="none"/><rect x="382" y="533" width="8" height="5" fill="#0000cc" stroke="none"/><rect x="392" y="536" width="1" height="12" fill="#0000cc" stroke="none"/><rect x="389" y="542" width="8" height="5" fill="#0000cc" stroke="none"/><rect x="400" y="543" width="1" height="12" fill="#0000cc" stroke="none"/><rect x="397" y="544" width="8" height="8" fill="#0000cc" stroke="none"/><rect x="407" y="548" width="1" height="11" fill="#0000cc" stroke="none"/><rect x="404" y="552" width="8" height="3" fill="#0000cc" stroke="none"/><rect x="414" y="554" width="1" height="10" fill="#0000cc" stroke="none"/><rect x="411" y="557" width="8" height="4" fill="#0000cc" stroke="none"/><rect x="422" y="543" width="1" height="16" fill="#0000cc" stroke="none"/><rect x="419.5" y="550.5" width="7" height="5" fill="#fff"/><rect x="429" y="547" width="1" height="10" fill="#0000cc" stroke="none"/><rect x="426" y="547" width="8" height="9" fill="#0000cc" stroke="none"/><rect x="436" y="550" width="1" height="10" fill="#0000cc" stroke="none"/><rect x="433" y="554" width="8" height="1" fill="#0000cc" stroke="none"/><rect x="444" y="547" width="1" height="12" fill="#0000cc" stroke="none"/><rect x="441" y="550" width="8" height="6" fill="#0000cc" stroke="none"/><rect x="451" y="551" width="1" height="15" fill="#0000cc" stroke="none"/><rect x="448" y="558" width="8" height="7" fill="#0000cc" stroke="none"/><rect x="459" y="555" width="1" height="10" fill="#0000cc" stroke="none"/><rect x="456.5" y="556.5" width="7" height="3" fill="#fff"/><rect x="466" y="559" width="1" height="16" fill="#0000cc" stroke="none"/><rect x="463" y="559" width="8" height="15" fill="#0000cc" stroke="none"/><rect x="473" y="563" width="1" height="15" fill="#0000cc" stroke="none"/><rect x="470" y="567" width="8" height="8" fill="#0000cc" stroke="none"/><rect x="481" y="580" width="1" height="14" fill="#0000cc" stroke="none"/><rect x="478.5" y="580.5" width="7" height="5" fill="#fff"/><rect x="488" y="572" width="1" height="10" fill="#0000cc" stroke="none"/><rect x="485" y="573" width="8" height="6" fill="#0000cc" stroke="none"/><rect x="495" y="575" width="1" height="25" fill="#0000cc" stroke="none"/><rect x="492" y="579" width="8" height="21" fill="#0000cc" stroke="none"/><rect x="503" y="602" width="1" height="63" fill="#0000cc" stroke="none"/><rect x="500" y="603" width="8" height="58" fill="#0000cc" stroke="none"/><rect x="510" y="625" width="1" height="32" fill="#0000cc" stroke="none"/><rect x="507" y="634" width="8" height="13" fill="#0000cc" stroke="none"/><rect x="517" y="632" width="1" height="38" fill="#0000cc" stroke="none"/><rect x="514" y="643" width="8" height="26" fill="#0000cc" stroke="none"/><rect x="525" y="637" width="1" height="45" fill="#0000cc" stroke="none"/><rect x="522.5" y="652.5" width="7" height="19" fill="#fff"/><rect x="532" y="628" width="1" height="28" fill="#0000cc" stroke="none"/><rect x="529" y="640" width="8" height="8" fill="#0000cc" stroke="none"/><rect x="540" y="637" width="1" height="21" fill="#0000cc" stroke="none"/><rect x="537" y="639" width="8" height="13" fill="#0000cc" stroke="none"/><rect x="547" y="644" width="1" height="30" fill="#0000cc" stroke="none"/><rect x="544" y="654" width="8" height="9" fill="#0000cc" stroke="none"/><rect x="554" y="650" width="1" height="10" fill="#0000cc" stroke="none"/><rect x="551.5" y="650.5" width="7" height="2" fill="#fff"/><rect x="562" y="651" width="1" height="13" fill="#0000cc" stroke="none"/><rect x="559" y="651" width="8" height="12" fill="#0000cc" stroke="none"/><rect x="569" y="645" width="1" height="17" fill="#0000cc" stroke="none"/><rect x="566.5" y="656.5" width="7" height="4" fill="#fff"/><rect x="576" y="644" width="1" height="8" fill="#0000cc" stroke="none"/><rect x="573.5" y="648.5" width="7" height="2" fill="#fff"/><rect x="584" y="644" width="1" height="8" fill="#0000cc" stroke="none"/><rect x="581.5" y="646.5" width="7" height="3" fill="#fff"/><rect x="591" y="642" width="1" height="6" fill="#0000cc" stroke="none"/><rect x="588.5" y="643.5" width="7" height="3" fill="#fff"/><rect x="598" y="633" width="1" height="12" fill="#0000cc" stroke="none"/><rect x="595" y="635" width="8" height="9" fill="#0000cc" stroke="none"/><rect x="606" y="649" width="1" height="13" fill="#0000cc" stroke="none"/><rect x="603" y="650" width="8" height="6" fill="#0000cc" stroke="none"/><rect x="613" y="653" width="1" height="14" fill="#0000cc" stroke="none"/><rect x="610" y="654" width="8" height="12" fill="#0000cc" stroke="none"/><rect x="621" y="654" width="1" height="16" fill="#0000cc" stroke="none"/><rect x="618.5" y="663.5" width="7" height="3" fill="#fff"/><rect x="628" y="658" width="1" height="8" fill="#0000cc" stroke="none"/><rect x="625.5" y="659.5" width="7" height="4" fill="#fff"/><rect x="635" y="655" width="1" height="14" fill="#0000cc" stroke="none"/><rect x="632" y="656" width="8" height="10" fill="#0000cc" stroke="none"/><rect x="643" y="665" width="1" height="10" fill="#0000cc" stroke="none"/><rect x="640" y="667" width="8" height="7" fill="#0000cc" stroke="none"/><rect x="650" y="669" width="1" height="10" fill="#0000cc" stroke="none"/><rect x="647.5" y="671.5" width="7" height="5" fill="#fff"/><rect x="657" y="670" width="1" height="11" fill="#0000cc" stroke="none"/><rect x="654" y="675" width="8" height="4" fill="#0000cc" stroke="none"/><rect x="665" y="670" width="1" height="12" fill="#0000cc" stroke="none"/><rect x="662.5" y="671.5" width="7" height="7" fill="#fff"/><rect x="672" y="661" width="1" height="9" fill="#0000cc" stroke="none"/><rect x="669.5" y="663.5" width="7" height="5" fill="#fff"/><rect x="680" y="643" width="1" height="21" fill="#0000cc" stroke="none"/><rect x="677.5" y="647.5" width="7" height="15" fill="#fff"/><rect x="687" y="642" width="1" height="18" fill="#0000cc" stroke="none"/><rect x="684.5" y="646.5" width="7" height="13" fill="#fff"/><rect x="694" y="638" width="1" height="12" fill="#0000cc" stroke="none"/><rect x="691" y="640" width="8" height="1" fill="#0000cc" stroke="none"/><rect x="702" y="639" width="1" height="8" fill="#0000cc" stroke="none"/><rect x="699" y="640" width="8" height="2" fill="#0000cc" stroke="none"/><rect x="709" y="641" width="1" height="8" fill="#0000cc" stroke="none"/><rect x="706" y="642" width="8" height="4" fill="#0000cc" stroke="none"/><rect x="716" y="639" width="1" height="11" fill="#0000cc" stroke="none"/><rect x="713.5" y="639.5" width="7" height="4" fill="#fff"/><rect x="724" y="630" width="1" height="5" fill="#0000cc" stroke="none"/><rect x="721" y="631" width="8" height="1" fill="#0000cc" stroke="none"/><rect x="731" y="629" width="1" height="11" fill="#0000cc" stroke="none"/><rect x="728" y="630" width="8" height="5" fill="#0000cc" stroke="none"/><rect x="738" y="631" width="1" height="10" fill="#0000cc" stroke="none"/><rect x="735.5" y="636.5" width="7" height="2" fill="#fff"/><rect x="746" y="629" width="1" height="7" fill="#0000cc" stroke="none"/><rect x="743.5" y="629.5" width="7" height="5" fill="#fff"/><rect x="753" y="624" width="1" height="7" fill="#0000cc" stroke="none"/><rect x="750.5" y="624.5" width="7" height="5" fill="#fff"/><rect x="761" y="615" width="1" height="10" fill="#0000cc" stroke="none"/><rect x="758.5" y="616.5" width="7" height="7" fill="#fff"/><rect x="768" y="617" width="1" height="9" fill="#0000cc" stroke="none"/><rect x="765" y="618" width="8" height="7" fill="#0000cc" stroke="none"/><rect x="775" y="620" width="1" height="10" fill="#0000cc" stroke="none"/><rect x="772.5" y="621.5" width="7" height="2" fill="#fff"/><rect x="783" y="617" width="1" height="9" fill="#0000cc" stroke="none"/><rect x="780" y="621" width="8" height="1" fill="#0000cc" stroke="none"/><rect x="790" y="624" width="1" height="12" fill="#0000cc" stroke="none"/><rect x="787" y="625" width="8" height="11" fill="#0000cc" stroke="none"/><rect x="797" y="629" width="1" height="11" fill="#0000cc" stroke="none"/><rect x="794.5" y="632.5" width="7" height="3" fill="#fff"/><rect x="805" y="620" width="1" height="9" fill="#0000cc" stroke="none"/><rect x="802.5" y="621.5" width="7" height="6" fill="#fff"/><rect x="812" y="611" width="1" height="11" fill="#0000cc" stroke="none"/><rect x="809.5" y="612.5" width="7" height="7" fill="#fff"/><rect x="820" y="609" width="1" height="5" fill="#0000cc" stroke="none"/><rect x="817" y="610" width="8" height="2" fill="#0000cc" stroke="none"/><rect x="827" y="606" width="1" height="6" fill="#0000cc" stroke="none"/><rect x="824.5" y="607.5" width="7" height="3" fill="#fff"/><rect x="834" y="606" width="1" height="12" fill="#0000cc" stroke="none"/><rect x="831" y="607" width="8" height="7" fill="#0000cc" stroke="none"/><rect x="842" y="605" width="1" height="9" fill="#0000cc" stroke="none"/><rect x="839.5" y="609.5" width="7" height="3" fill="#fff"/><rect x="849" y="603" width="1" height="13" fill="#0000cc" stroke="none"/><rect x="846" y="608" width="8" height="7" fill="#0000cc" stroke="none"/><rect x="856" y="608" width="1" height="7" fill="#0000cc" stroke="none"/><rect x="853.5" y="612.5" width="7" height="2" fill="#fff"/><rect x="864" y="610" width="1" height="4" fill="#0000cc" stroke="none"/><rect x="861" y="610" width="8" height="3" fill="#0000cc" stroke="none"/><rect x="871" y="607" width="1" height="7" fill="#0000cc" stroke="none"/><rect x="868" y="610" width="8" height="1" fill="#0000cc" stroke="none"/><rect x="878" y="613" width="1" height="13" fill="#0000cc" stroke="none"/><rect x="875" y="614" width="8" height="12" fill="#0000cc" stroke="none"/><rect x="886" y="619" width="1" height="9" fill="#0000cc" stroke="none"/><rect x="883.5" y="620.5" width="7" height="4" fill="#fff"/><rect x="893" y="614" width="1" height="6" fill="#0000cc" stroke="none"/><rect x="890.5" y="615.5" width="7" height="4" fill="#fff"/><rect x="901" y="611" width="1" height="6" fill="#0000cc" stroke="none"/><rect x="898" y="614" width="8" height="1" fill="#0000cc" stroke="none"/><rect x="908" y="611" width="1" height="9" fill="#0000cc" stroke="none"/><rect x="905" y="613" width="8" height="7" fill="#0000cc" stroke="none"/><rect x="915" y="618" width="1" height="9" fill="#0000cc" stroke="none"/><rect x="912" y="619" width="8" height="5" fill="#0000cc" stroke="none"/><rect x="923" y="619" width="1" height="7" fill="#0000cc" stroke="none"/><rect x="920" y="620" width="8" height="4" fill="#0000cc" stroke="none"/><rect x="930" y="621" width="1" height="11" fill="#0000cc" stroke="none"/><rect x="927" y="624" width="8" height="7" fill="#0000cc" stroke="none"/><rect x="937" y="630" width="1" height="10" fill="#0000cc" stroke="none"/><rect x="934" y="631" width="8" height="8" fill="#0000cc" stroke="none"/><rect x="945" y="618" width="1" height="23" fill="#0000cc" stroke="none"/><rect x="942.5" y="620.5" width="7" height="18" fill="#fff"/><rect x="952" y="615" width="1" height="9" fill="#0000cc" stroke="none"/><rect x="949.5" y="617.5" width="7" height="2" fill="#fff"/><rect x="959" y="613" width="1" height="7" fill="#0000cc" stroke="none"/><rect x="956.5" y="614.5" width="7" height="4" fill="#fff"/><rect x="967" y="608" width="1" height="9" fill="#0000cc" stroke="none"/><rect x="964.5" y="609.5" width="7" height="6" fill="#fff"/><rect x="974" y="604" width="1" height="5" fill="#0000cc" stroke="none"/><rect x="971.5" y="606.5" width="7" height="2" fill="#fff"/><rect x="982" y="602" width="1" height="7" fill="#0000cc" stroke="none"/><rect x="979.5" y="602.5" width="7" height="5" fill="#fff"/><rect x="989" y="599" width="1" height="7" fill="#0000cc" stroke="none"/><rect x="986.5" y="599.5" width="7" height="2" fill="#fff"/><rect x="996" y="599" width="1" height="10" fill="#0000cc" stroke="none"/><rect x="993" y="599" width="8" height="8" fill="#0000cc" stroke="none"/><rect x="1004" y="606" width="1" height="11" fill="#0000cc" stroke="none"/><rect x="1001" y="606" width="8" height="11" fill="#0000cc" stroke="none"/><rect x="1011" y="610" width="1" height="10" fill="#0000cc" stroke="none"/><rect x="1008" y="616" width="8" height="2" fill="#0000cc" stroke="none"/><rect x="1018" y="614" width="1" height="9" fill="#0000cc" stroke="none"/><rect x="1015" y="616" width="8" height="2" fill="#0000cc" stroke="none"/><rect x="1026" y="612" width="1" height="8" fill="#0000cc" stroke="none"/><rect x="1023" y="616" width="8" height="2" fill="#0000cc" stroke="none"/><rect x="1033" y="610" width="1" height="8" fill="#0000cc" stroke="none"/><rect x="1030" y="616" width="8" height="2" fill="#0000cc" stroke="none"/><rect x="1041" y="611" width="1" height="7" fill="#0000cc" stroke="none"/><rect x="1038.5" y="611.5" width="7" height="5" fill="#fff"/><rect x="1048" y="615" width="1" height="3" fill="#0000cc" stroke="none"/><rect x="1045.5" y="615.5" width="7" height="2" fill="#fff"/><rect x="1055" y="615" width="1" height="3" fill="#0000cc" stroke="none"/><rect x="1052" y="616" width="8" height="1" fill="#0000cc" stroke="none"/><rect x="1063" y="614" width="1" height="2" fill="#0000cc" stroke="none"/><rect x="1060" y="615" width="8" height="1" fill="#0000cc" stroke="none"/><rect x="1070" y="613" width="1" height="3" fill="#0000cc" stroke="none"/><rect x="1067" y="614" width="8" height="2" fill="#0000cc" stroke="none"/><rect x="1077" y="611" width="1" height="7" fill="#0000cc" stroke="none"/><rect x="1074.5" y="611.5" width="7" height="6" fill="#fff"/></g>
<polyline points="17.5,464.5 54.5,464.5 58.5,471.5 62.5,477.5 150.5,477.5 157.5,480.5 163.5,483.5 208.5,484.5 216.5,488.5 223.5,502.5 231.5,514.5 270.5,514.5 282.5,518.5 290.5,523.5 307.5,523.5 312.5,526.5 319.5,530.5 327.5,531.5 334.5,534.5 341.5,537.5 371.5,538.5 378.5,540.5 386.5,542.5 393.5,549.5 400.5,552.5 467.5,553.5 474.5,554.5 481.5,556.5 489.5,557.5 496.5,560.5 499.5,574.5 503.5,593.5 515.5,594.5 526.5,601.5 530.5,601.5 535.5,601.5 555.5,601.5 562.5,603.5 570.5,603.5 577.5,607.5 584.5,611.5 605.5,611.5 614.5,613.5 629.5,613.5 636.5,615.5 644.5,618.5 658.5,621.5 666.5,626.5 678.5,626.5 682.5,630.5 688.5,643.5 695.5,652.5 702.5,654.5 747.5,654.5 754.5,650.5 761.5,647.5 805.5,646.5 828.5,642.5 850.5,641.5 857.5,636.5 864.5,632.5 879.5,627.5 901.5,625.5 909.5,620.5 963.5,620.5" fill="none" stroke="#66cc99" stroke-width="1" />
<polyline points="17.5,456.5 28.5,456.5 32.5,455.5 39.5,458.5 47.5,462.5 54.5,463.5 58.5,471.5 62.5,477.5 80.5,477.5 91.5,478.5 98.5,481.5 106.5,488.5 117.5,487.5 128.5,483.5 135.5,482.5 150.5,483.5 157.5,488.5 163.5,491.5 179.5,491.5 187.5,493.5 194.5,498.5 201.5,499.5 209.5,503.5 216.5,510.5 223.5,519.5 231.5,527.5 246.5,529.5 253.5,531.5 260.5,532.5 268.5,541.5 273.5,542.5 282.5,554.5 290.5,558.5 319.5,558.5 332.5,559.5 341.5,558.5 349.5,555.5 356.5,549.5 364.5,546.5 371.5,541.5 378.5,540.5 386.5,534.5 393.5,534.5 400.5,538.5 408.5,540.5 415.5,541.5 437.5,542.5 445.5,543.5 452.5,549.5 459.5,552.5 467.5,557.5 474.5,559.5 481.5,567.5 489.5,569.5 496.5,572.5 500.5,583.5 503.5,603.5 509.5,605.5 518.5,610.5 524.5,617.5 530.5,620.5 530.5,620.5 535.5,622.5 536.5,625.5 555.5,626.5 562.5,639.5 570.5,651.5 577.5,654.5 584.5,653.5 592.5,650.5 599.5,652.5 607.5,652.5 614.5,649.5 637.5,650.5 644.5,652.5 651.5,655.5 658.5,655.5 666.5,664.5 671.5,666.5 678.5,663.5 688.5,660.5 695.5,658.5 718.5,657.5 724.5,653.5 732.5,649.5 739.5,646.5 747.5,643.5 754.5,638.5 761.5,632.5 769.5,632.5 776.5,630.5 783.5,628.5 791.5,627.5 805.5,626.5 813.5,623.5 828.5,621.5 857.5,620.5 864.5,614.5 872.5,610.5 879.5,614.5 909.5,614.5 916.5,616.5 931.5,619.5 938.5,623.5 953.5,624.5 963.5,623.5 978.5,621.5 986.5,619.5 1004.5,618.5 1007.5,615.5 1012.5,609.5 1039.5,609.5" fill="none" stroke="#ffc000" stroke-width="1" />
<polyline points="17.5,489.5 28.5,489.5 33.5,487.5 39.5,483.5 47.5,481.5 54.5,477.5 62.5,471.5 69.5,469.5 76.5,468.5 84.5,470.5 101.5,470.5 109.5,469.5 117.5,468.5 128.5,468.5 135.5,469.5 142.5,471.5 157.5,471.5 165.5,468.5 172.5,465.5 179.5,462.5 187.5,461.5 194.5,460.5 217.5,460.5 223.5,459.5 231.5,460.5 238.5,463.5 246.5,463.5 249.5,468.5 253.5,477.5 278.5,477.5 290.5,480.5 297.5,483.5 305.5,483.5 319.5,479.5 337.5,479.5 341.5,480.5 356.5,487.5 374.5,487.5 386.5,491.5 396.5,492.5 400.5,494.5 408.5,500.5 415.5,510.5 422.5,521.5 437.5,521.5 445.5,522.5 452.5,523.5 459.5,526.5 467.5,528.5 474.5,534.5 481.5,541.5 504.5,541.5 511.5,543.5 518.5,544.5 526.5,548.5 530.5,548.5 535.5,548.5 536.5,548.5 548.5,543.5 555.5,542.5 562.5,539.5 570.5,541.5 577.5,538.5 584.5,542.5 592.5,545.5 599.5,547.5 604.5,548.5 637.5,548.5 644.5,551.5 651.5,553.5 658.5,556.5 666.5,556.5 673.5,561.5 680.5,563.5 687.5,566.5 689.5,575.5 692.5,587.5 695.5,598.5 702.5,600.5 710.5,602.5 717.5,610.5 724.5,611.5 732.5,614.5 747.5,614.5 754.5,619.5 761.5,625.5 769.5,630.5 776.5,632.5 787.5,631.5 791.5,633.5 805.5,631.5 828.5,634.5 850.5,640.5 857.5,645.5 864.5,646.5 872.5,644.5 879.5,650.5 887.5,654.5 894.5,656.5 912.5,656.5 923.5,652.5 938.5,649.5 946.5,642.5 953.5,639.5 963.5,639.5 978.5,637.5 998.5,636.5 1006.5,634.5 1017.5,632.5 1029.5,632.5 1043.5,630.5 1050.5,627.5 1055.5,625.5 1060.5,622.5 1067.5,619.5 1074.5,620.5 1094.5,620.5 1099.5,617.5 1103.5,617.5 1105.5,618.5 1117.5,618.5 1123.5,619.5 1128.5,622.5 1151.5,622.5" fill="none" stroke="#ff00ff" stroke-width="1" />
<polyline points="17.5,498.5 33.5,498.5 55.5,497.5 62.5,494.5 69.5,490.5 76.5,490.5 179.5,490.5 187.5,487.5 194.5,486.5 210.5,486.5 217.5,485.5 223.5,483.5 231.5,478.5 238.5,477.5 246.5,475.5 253.5,477.5 270.5,477.5 278.5,477.5 342.5,477.5 349.5,480.5 356.5,483.5 396.5,483.5 400.5,484.5 408.5,488.5 415.5,497.5 422.5,506.5 467.5,506.5 474.5,509.5 481.5,515.5 530.5,515.5 535.5,515.5 600.5,515.5 607.5,519.5 614.5,523.5 666.5,523.5 673.5,526.5 682.5,527.5 687.5,530.5 689.5,542.5 692.5,553.5 695.5,562.5 702.5,569.5 710.5,570.5 717.5,581.5 724.5,586.5 754.5,586.5 761.5,590.5 769.5,590.5 776.5,597.5 783.5,600.5 791.5,601.5 798.5,601.5 941.5,601.5 953.5,604.5 960.5,608.5 990.5,611.5 997.5,612.5 1004.5,613.5 1012.5,614.5 1019.5,615.5 1034.5,618.5 1041.5,621.5 1046.5,624.5 1050.5,626.5 1060.5,626.5 1064.5,628.5 1070.5,641.5 1151.5,641.5" fill="none" stroke="#0099ff" stroke-width="1" />
<polyline points="17.5,509.5 25.5,520.5 32.5,530.5 39.5,539.5 47.5,542.5 54.5,546.5 62.5,555.5 69.5,543.5 76.5,545.5 84.5,544.5 91.5,558.5 98.5,572.5 106.5,568.5 113.5,558.5 120.5,550.5 128.5,548.5 135.5,546.5 142.5,538.5 150.5,534.5 157.5,542.5 165.5,530.5 172.5,534.5 179.5,528.5 187.5,524.5 194.5,535.5 201.5,536.5 209.5,545.5 216.5,550.5 223.5,554.5 231.5,559.5 238.5,548.5 246.5,555.5 253.5,552.5 260.5,555.5 268.5,563.5 275.5,554.5 282.5,572.5 290.5,573.5 297.5,579.5 305.5,577.5 312.5,598.5 314.5,615.5 316.5,632.5 319.5,659.5 327.5,645.5 334.5,667.5 341.5,649.5 349.5,646.5 356.5,650.5 364.5,661.5 371.5,649.5 378.5,662.5 386.5,653.5 393.5,647.5 400.5,644.5 408.5,642.5 415.5,642.5 422.5,654.5 430.5,665.5 437.5,661.5 445.5,658.5 452.5,665.5 459.5,672.5 467.5,669.5 474.5,677.5 481.5,669.5 489.5,662.5 496.5,646.5 503.5,643.5 511.5,639.5 518.5,640.5 526.5,644.5 533.5,637.5 540.5,629.5 548.5,633.5 555.5,634.5 562.5,627.5 570.5,623.5 577.5,615.5 584.5,623.5 592.5,620.5 599.5,620.5 607.5,634.5 614.5,631.5 621.5,620.5 629.5,610.5 636.5,609.5 644.5,606.5 651.5,612.5 658.5,607.5 666.5,614.5 673.5,610.5 680.5,610.5 688.5,613.5 695.5,624.5 702.5,618.5 710.5,612.5 717.5,612.5 724.5,618.5 732.5,623.5 739.5,623.5 747.5,630.5 754.5,637.5 761.5,619.5 769.5,616.5 776.5,615.5 783.5,607.5 791.5,606.5 798.5,602.5 805.5,598.5 813.5,606.5 820.5,614.5 828.5,617.5 835.5,616.5 842.5,614.5 850.5,616.5 857.5,612.5" fill="none" stroke="#00ccff" stroke-width="1" />
<rect x="13" y="413" width="1" height="349" fill="#000"/>
<rect x="15" y="413" width="1148" height="1" fill="#000"/>
<rect x="1162" y="413" width="1" height="349" fill="#000"/>
<rect x="14" y="760" width="1069" height="1" fill="#0000cc"/>
<rect x="13" y="761" width="1150" height="1" fill="#000"/>
<rect x="109" y="413" width="1" height="1" fill="#cccccc"/>
<rect x="205" y="413" width="1" height="1" fill="#cccccc"/>
<rect x="301" y="413" width="1" height="1" fill="#cccccc"/>
<rect x="397" y="413" width="1" height="1" fill="#cccccc"/>
<rect x="492" y="413" width="1" height="1" fill="#cccccc"/>
<rect x="595" y="413" width="1" height="1" fill="#cccccc"/>
<rect x="684" y="413" width="1" height="1" fill="#cccccc"/>
<rect x="780" y="413" width="1" height="1" fill="#cccccc"/>
<rect x="875" y="413" width="1" height="1" fill="#cccccc"/>
<rect x="978" y="413" width="1" height="1" fill="#cccccc"/>
<rect x="1162" y="453" width="1" height="1" fill="#cccccc"/>
<rect x="1162" y="494" width="1" height="1" fill="#cccccc"/>
<rect x="1162" y="536" width="1" height="1" fill="#cccccc"/>
<rect x="1162" y="577" width="1" height="1" fill="#cccccc"/>
<rect x="1162" y="619" width="1" height="1" fill="#cccccc"/>
<rect x="1162" y="661" width="1" height="1" fill="#cccccc"/>
<rect x="1162" y="699" width="1" height="1" fill="#cccccc"/>
<rect x="1162" y="730" width="1" height="1" fill="#cccccc"/>
<rect x="13" y="762" width="1150" height="7" fill="#c8c8c8"/>
<rect x="13" y="762" width="17" height="7" fill="#eeeeee"/>
<rect x="1146" y="762" width="17" height="7" fill="#eeeeee"/>
<rect x="630.5" y="763.5" width="14" height="6" fill="#f4f4f4" stroke="#b0b0b0" stroke-width="1"/>
<path d="M24 767h-2v1h-1v1h3z M1153 767h2v1h1v1h-3z" fill="#000"/>
</g>
<g font-family="'Liberation Sans', sans-serif" font-size="13.2px"><text transform="translate(16.0,425.0) scale(0.73,1)" text-anchor="start" fill="#000" stroke="#000" stroke-width="0.25" letter-spacing="0.99">7</text><text transform="translate(110.8,425.0) scale(0.73,1)" text-anchor="start" fill="#000" stroke="#000" stroke-width="0.25" letter-spacing="0.99">10</text><text transform="translate(206.8,425.0) scale(0.73,1)" text-anchor="start" fill="#000" stroke="#000" stroke-width="0.25" letter-spacing="0.99" dx="0 1.8 1.8">8/1</text><text transform="translate(302.8,425.0) scale(0.73,1)" text-anchor="start" fill="#000" stroke="#000" stroke-width="0.25" letter-spacing="0.99">4</text><text transform="translate(398.8,425.0) scale(0.73,1)" text-anchor="start" fill="#000" stroke="#000" stroke-width="0.25" letter-spacing="0.99">7</text><text transform="translate(493.8,425.0) scale(0.73,1)" text-anchor="start" fill="#000" stroke="#000" stroke-width="0.25" letter-spacing="0.99">10</text><text transform="translate(596.8,425.0) scale(0.73,1)" text-anchor="start" fill="#000" stroke="#000" stroke-width="0.25" letter-spacing="0.99" dx="0 1.8 1.8">9/1</text><text transform="translate(685.8,425.0) scale(0.73,1)" text-anchor="start" fill="#000" stroke="#000" stroke-width="0.25" letter-spacing="0.99">4</text><text transform="translate(781.8,425.0) scale(0.73,1)" text-anchor="start" fill="#000" stroke="#000" stroke-width="0.25" letter-spacing="0.99">7</text><text transform="translate(876.8,425.0) scale(0.73,1)" text-anchor="start" fill="#000" stroke="#000" stroke-width="0.25" letter-spacing="0.99">10</text><text transform="translate(979.8,425.0) scale(0.73,1)" text-anchor="start" fill="#000" stroke="#000" stroke-width="0.25" letter-spacing="0.99" dx="0 0 1.8 1.8">10/1</text><text transform="translate(1159.8,453.0) scale(0.73,1)" text-anchor="end" fill="#000" stroke="#000" stroke-width="0.25" letter-spacing="0.99">18000</text><text transform="translate(1159.8,494.0) scale(0.73,1)" text-anchor="end" fill="#000" stroke="#000" stroke-width="0.25" letter-spacing="0.99">16000</text><text transform="translate(1159.8,536.0) scale(0.73,1)" text-anchor="end" fill="#000" stroke="#000" stroke-width="0.25" letter-spacing="0.99">14000</text><text transform="translate(1159.8,577.0) scale(0.73,1)" text-anchor="end" fill="#000" stroke="#000" stroke-width="0.25" letter-spacing="0.99">12000</text><text transform="translate(1159.8,619.0) scale(0.73,1)" text-anchor="end" fill="#000" stroke="#000" stroke-width="0.25" letter-spacing="0.99">10000</text><text transform="translate(1159.8,661.0) scale(0.73,1)" text-anchor="end" fill="#000" stroke="#000" stroke-width="0.25" letter-spacing="0.99">8000</text><text transform="translate(1159.8,699.0) scale(0.73,1)" text-anchor="end" fill="#000" stroke="#000" stroke-width="0.25" letter-spacing="0.99">1000000</text><text transform="translate(1159.8,730.0) scale(0.73,1)" text-anchor="end" fill="#000" stroke="#000" stroke-width="0.25" letter-spacing="0.99">500000</text><text transform="translate(1159.8,760.0) scale(0.73,1)" text-anchor="end" fill="#000" stroke="#000" stroke-width="0.25" letter-spacing="0.99">0</text><text transform="translate(1105.5,757.0) scale(0.73,1)" text-anchor="start" fill="#9999dd" stroke="#9999dd" stroke-width="0.25" letter-spacing="0.99">3234</text></g>
<polyline points="904.4,604.0 948.2,640.2 976.3,588.7" fill="none" stroke="#ed1c24" stroke-width="3" stroke-linecap="round" stroke-linejoin="round" shape-rendering="crispEdges"/><polyline points="956.6,595.6 965.0,592.2 976.3,588.7 977.2,601.0" fill="none" stroke="#ed1c24" stroke-width="2" stroke-linecap="round" stroke-linejoin="round" shape-rendering="crispEdges"/><polyline points="1006.5,594.0 1028.3,628.8 1053.0,594.0" fill="none" stroke="#ed1c24" stroke-width="3" stroke-linecap="round" stroke-linejoin="round" shape-rendering="crispEdges"/><polyline points="1037.5,599.8 1053.0,594.0 1051.8,608.4" fill="none" stroke="#ed1c24" stroke-width="2" stroke-linecap="round" stroke-linejoin="round" shape-rendering="crispEdges"/>
<g font-family="'Liberation Sans', 'Noto Sans CJK JP', sans-serif" style="text-spacing-trim:space-all;font-kerning:none"><text x="895.0" y="555.2" fill="#f01c24" font-size="13.1px">11月は雲下限</text><text x="895.0" y="581.3" fill="#f01c24" font-size="13.1px">タッチで上昇</text><text x="1004.5" y="558.0" fill="#f01c24" font-size="13.1px">同じパターンを</text><text x="1004.5" y="584.0" fill="#f01c24" font-size="13.1px">予想してたのだが、、</text><text x="1048.0" y="439.0" fill="#33cc00" font-size="13.1px">-&gt; ここから日足</text><text x="1166.0" y="586.5" fill="#f01c24" font-size="13.1px">今まで描いてきたシナリオど</text><text x="1166.0" y="612.8" fill="#f01c24" font-size="13.1px">おり、雲のねじれで雲に押し</text><text x="1166.0" y="639.1" fill="#f01c24" font-size="13.1px">上げられる形での上昇となっ</text><text x="1166.0" y="665.4" fill="#f01c24" font-size="13.1px">た。ただ、いったん雲下限ま</text><text x="1166.0" y="691.7" fill="#f01c24" font-size="13.1px">での調子後に雲抜けと思って</text><text x="1166.0" y="718.0" fill="#f01c24" font-size="13.1px">いたのだけど、、、</text></g>
</svg>
</body></html>
